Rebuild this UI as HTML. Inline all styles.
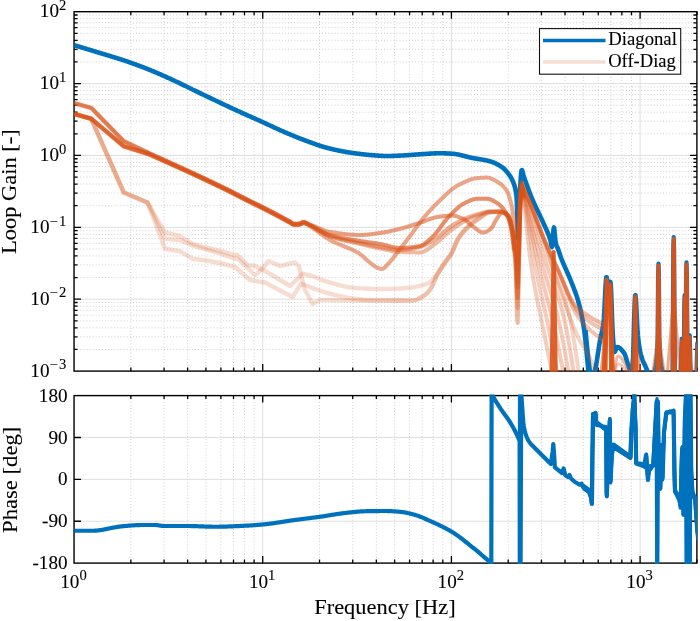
<!DOCTYPE html>
<html><head><meta charset="utf-8"><title>Loop Gain</title>
<style>html,body{margin:0;padding:0;background:#fff}svg{display:block}text{font-family:"Liberation Serif",serif;fill:#000;stroke:#000;stroke-width:0.1px}</style>
</head><body>
<svg width="700" height="621" viewBox="0 0 700 621">
<defs>
<clipPath id="ct"><rect x="74.45" y="11.7" width="622.45" height="360.1"/></clipPath>
<clipPath id="cb"><rect x="74.45" y="394.4" width="622.45" height="169.7"/></clipPath>
</defs>
<rect width="700" height="621" fill="#fff"/>
<line x1="130.85" y1="11.7" x2="130.85" y2="371.1" stroke="#cfcfcf" stroke-width="1" stroke-dasharray="1 2.1"/>
<line x1="164.07" y1="11.7" x2="164.07" y2="371.1" stroke="#cfcfcf" stroke-width="1" stroke-dasharray="1 2.1"/>
<line x1="187.65" y1="11.7" x2="187.65" y2="371.1" stroke="#cfcfcf" stroke-width="1" stroke-dasharray="1 2.1"/>
<line x1="205.93" y1="11.7" x2="205.93" y2="371.1" stroke="#cfcfcf" stroke-width="1" stroke-dasharray="1 2.1"/>
<line x1="220.87" y1="11.7" x2="220.87" y2="371.1" stroke="#cfcfcf" stroke-width="1" stroke-dasharray="1 2.1"/>
<line x1="233.51" y1="11.7" x2="233.51" y2="371.1" stroke="#cfcfcf" stroke-width="1" stroke-dasharray="1 2.1"/>
<line x1="244.45" y1="11.7" x2="244.45" y2="371.1" stroke="#cfcfcf" stroke-width="1" stroke-dasharray="1 2.1"/>
<line x1="254.1" y1="11.7" x2="254.1" y2="371.1" stroke="#cfcfcf" stroke-width="1" stroke-dasharray="1 2.1"/>
<line x1="319.53" y1="11.7" x2="319.53" y2="371.1" stroke="#cfcfcf" stroke-width="1" stroke-dasharray="1 2.1"/>
<line x1="352.76" y1="11.7" x2="352.76" y2="371.1" stroke="#cfcfcf" stroke-width="1" stroke-dasharray="1 2.1"/>
<line x1="376.33" y1="11.7" x2="376.33" y2="371.1" stroke="#cfcfcf" stroke-width="1" stroke-dasharray="1 2.1"/>
<line x1="394.62" y1="11.7" x2="394.62" y2="371.1" stroke="#cfcfcf" stroke-width="1" stroke-dasharray="1 2.1"/>
<line x1="409.56" y1="11.7" x2="409.56" y2="371.1" stroke="#cfcfcf" stroke-width="1" stroke-dasharray="1 2.1"/>
<line x1="422.19" y1="11.7" x2="422.19" y2="371.1" stroke="#cfcfcf" stroke-width="1" stroke-dasharray="1 2.1"/>
<line x1="433.13" y1="11.7" x2="433.13" y2="371.1" stroke="#cfcfcf" stroke-width="1" stroke-dasharray="1 2.1"/>
<line x1="442.78" y1="11.7" x2="442.78" y2="371.1" stroke="#cfcfcf" stroke-width="1" stroke-dasharray="1 2.1"/>
<line x1="508.22" y1="11.7" x2="508.22" y2="371.1" stroke="#cfcfcf" stroke-width="1" stroke-dasharray="1 2.1"/>
<line x1="541.44" y1="11.7" x2="541.44" y2="371.1" stroke="#cfcfcf" stroke-width="1" stroke-dasharray="1 2.1"/>
<line x1="565.02" y1="11.7" x2="565.02" y2="371.1" stroke="#cfcfcf" stroke-width="1" stroke-dasharray="1 2.1"/>
<line x1="583.3" y1="11.7" x2="583.3" y2="371.1" stroke="#cfcfcf" stroke-width="1" stroke-dasharray="1 2.1"/>
<line x1="598.24" y1="11.7" x2="598.24" y2="371.1" stroke="#cfcfcf" stroke-width="1" stroke-dasharray="1 2.1"/>
<line x1="610.87" y1="11.7" x2="610.87" y2="371.1" stroke="#cfcfcf" stroke-width="1" stroke-dasharray="1 2.1"/>
<line x1="621.82" y1="11.7" x2="621.82" y2="371.1" stroke="#cfcfcf" stroke-width="1" stroke-dasharray="1 2.1"/>
<line x1="631.47" y1="11.7" x2="631.47" y2="371.1" stroke="#cfcfcf" stroke-width="1" stroke-dasharray="1 2.1"/>
<line x1="262.73" y1="11.7" x2="262.73" y2="371.1" stroke="#dfdfdf" stroke-width="1"/>
<line x1="451.42" y1="11.7" x2="451.42" y2="371.1" stroke="#dfdfdf" stroke-width="1"/>
<line x1="640.1" y1="11.7" x2="640.1" y2="371.1" stroke="#dfdfdf" stroke-width="1"/>
<line x1="74.05" y1="349.46" x2="696.9" y2="349.46" stroke="#cfcfcf" stroke-width="1" stroke-dasharray="1 2.1"/>
<line x1="74.05" y1="336.8" x2="696.9" y2="336.8" stroke="#cfcfcf" stroke-width="1" stroke-dasharray="1 2.1"/>
<line x1="74.05" y1="327.82" x2="696.9" y2="327.82" stroke="#cfcfcf" stroke-width="1" stroke-dasharray="1 2.1"/>
<line x1="74.05" y1="320.86" x2="696.9" y2="320.86" stroke="#cfcfcf" stroke-width="1" stroke-dasharray="1 2.1"/>
<line x1="74.05" y1="315.17" x2="696.9" y2="315.17" stroke="#cfcfcf" stroke-width="1" stroke-dasharray="1 2.1"/>
<line x1="74.05" y1="310.35" x2="696.9" y2="310.35" stroke="#cfcfcf" stroke-width="1" stroke-dasharray="1 2.1"/>
<line x1="74.05" y1="306.19" x2="696.9" y2="306.19" stroke="#cfcfcf" stroke-width="1" stroke-dasharray="1 2.1"/>
<line x1="74.05" y1="302.51" x2="696.9" y2="302.51" stroke="#cfcfcf" stroke-width="1" stroke-dasharray="1 2.1"/>
<line x1="74.05" y1="277.58" x2="696.9" y2="277.58" stroke="#cfcfcf" stroke-width="1" stroke-dasharray="1 2.1"/>
<line x1="74.05" y1="264.92" x2="696.9" y2="264.92" stroke="#cfcfcf" stroke-width="1" stroke-dasharray="1 2.1"/>
<line x1="74.05" y1="255.94" x2="696.9" y2="255.94" stroke="#cfcfcf" stroke-width="1" stroke-dasharray="1 2.1"/>
<line x1="74.05" y1="248.98" x2="696.9" y2="248.98" stroke="#cfcfcf" stroke-width="1" stroke-dasharray="1 2.1"/>
<line x1="74.05" y1="243.29" x2="696.9" y2="243.29" stroke="#cfcfcf" stroke-width="1" stroke-dasharray="1 2.1"/>
<line x1="74.05" y1="238.47" x2="696.9" y2="238.47" stroke="#cfcfcf" stroke-width="1" stroke-dasharray="1 2.1"/>
<line x1="74.05" y1="234.31" x2="696.9" y2="234.31" stroke="#cfcfcf" stroke-width="1" stroke-dasharray="1 2.1"/>
<line x1="74.05" y1="230.63" x2="696.9" y2="230.63" stroke="#cfcfcf" stroke-width="1" stroke-dasharray="1 2.1"/>
<line x1="74.05" y1="205.7" x2="696.9" y2="205.7" stroke="#cfcfcf" stroke-width="1" stroke-dasharray="1 2.1"/>
<line x1="74.05" y1="193.04" x2="696.9" y2="193.04" stroke="#cfcfcf" stroke-width="1" stroke-dasharray="1 2.1"/>
<line x1="74.05" y1="184.06" x2="696.9" y2="184.06" stroke="#cfcfcf" stroke-width="1" stroke-dasharray="1 2.1"/>
<line x1="74.05" y1="177.1" x2="696.9" y2="177.1" stroke="#cfcfcf" stroke-width="1" stroke-dasharray="1 2.1"/>
<line x1="74.05" y1="171.41" x2="696.9" y2="171.41" stroke="#cfcfcf" stroke-width="1" stroke-dasharray="1 2.1"/>
<line x1="74.05" y1="166.59" x2="696.9" y2="166.59" stroke="#cfcfcf" stroke-width="1" stroke-dasharray="1 2.1"/>
<line x1="74.05" y1="162.43" x2="696.9" y2="162.43" stroke="#cfcfcf" stroke-width="1" stroke-dasharray="1 2.1"/>
<line x1="74.05" y1="158.75" x2="696.9" y2="158.75" stroke="#cfcfcf" stroke-width="1" stroke-dasharray="1 2.1"/>
<line x1="74.05" y1="133.82" x2="696.9" y2="133.82" stroke="#cfcfcf" stroke-width="1" stroke-dasharray="1 2.1"/>
<line x1="74.05" y1="121.16" x2="696.9" y2="121.16" stroke="#cfcfcf" stroke-width="1" stroke-dasharray="1 2.1"/>
<line x1="74.05" y1="112.18" x2="696.9" y2="112.18" stroke="#cfcfcf" stroke-width="1" stroke-dasharray="1 2.1"/>
<line x1="74.05" y1="105.22" x2="696.9" y2="105.22" stroke="#cfcfcf" stroke-width="1" stroke-dasharray="1 2.1"/>
<line x1="74.05" y1="99.53" x2="696.9" y2="99.53" stroke="#cfcfcf" stroke-width="1" stroke-dasharray="1 2.1"/>
<line x1="74.05" y1="94.71" x2="696.9" y2="94.71" stroke="#cfcfcf" stroke-width="1" stroke-dasharray="1 2.1"/>
<line x1="74.05" y1="90.55" x2="696.9" y2="90.55" stroke="#cfcfcf" stroke-width="1" stroke-dasharray="1 2.1"/>
<line x1="74.05" y1="86.87" x2="696.9" y2="86.87" stroke="#cfcfcf" stroke-width="1" stroke-dasharray="1 2.1"/>
<line x1="74.05" y1="61.94" x2="696.9" y2="61.94" stroke="#cfcfcf" stroke-width="1" stroke-dasharray="1 2.1"/>
<line x1="74.05" y1="49.28" x2="696.9" y2="49.28" stroke="#cfcfcf" stroke-width="1" stroke-dasharray="1 2.1"/>
<line x1="74.05" y1="40.3" x2="696.9" y2="40.3" stroke="#cfcfcf" stroke-width="1" stroke-dasharray="1 2.1"/>
<line x1="74.05" y1="33.34" x2="696.9" y2="33.34" stroke="#cfcfcf" stroke-width="1" stroke-dasharray="1 2.1"/>
<line x1="74.05" y1="27.65" x2="696.9" y2="27.65" stroke="#cfcfcf" stroke-width="1" stroke-dasharray="1 2.1"/>
<line x1="74.05" y1="22.83" x2="696.9" y2="22.83" stroke="#cfcfcf" stroke-width="1" stroke-dasharray="1 2.1"/>
<line x1="74.05" y1="18.67" x2="696.9" y2="18.67" stroke="#cfcfcf" stroke-width="1" stroke-dasharray="1 2.1"/>
<line x1="74.05" y1="14.99" x2="696.9" y2="14.99" stroke="#cfcfcf" stroke-width="1" stroke-dasharray="1 2.1"/>
<line x1="74.05" y1="299.22" x2="696.9" y2="299.22" stroke="#dfdfdf" stroke-width="1"/>
<line x1="74.05" y1="227.34" x2="696.9" y2="227.34" stroke="#dfdfdf" stroke-width="1"/>
<line x1="74.05" y1="155.46" x2="696.9" y2="155.46" stroke="#dfdfdf" stroke-width="1"/>
<line x1="74.05" y1="83.58" x2="696.9" y2="83.58" stroke="#dfdfdf" stroke-width="1"/>
<line x1="130.85" y1="395.6" x2="130.85" y2="563.1" stroke="#cfcfcf" stroke-width="1" stroke-dasharray="1 2.1"/>
<line x1="164.07" y1="395.6" x2="164.07" y2="563.1" stroke="#cfcfcf" stroke-width="1" stroke-dasharray="1 2.1"/>
<line x1="187.65" y1="395.6" x2="187.65" y2="563.1" stroke="#cfcfcf" stroke-width="1" stroke-dasharray="1 2.1"/>
<line x1="205.93" y1="395.6" x2="205.93" y2="563.1" stroke="#cfcfcf" stroke-width="1" stroke-dasharray="1 2.1"/>
<line x1="220.87" y1="395.6" x2="220.87" y2="563.1" stroke="#cfcfcf" stroke-width="1" stroke-dasharray="1 2.1"/>
<line x1="233.51" y1="395.6" x2="233.51" y2="563.1" stroke="#cfcfcf" stroke-width="1" stroke-dasharray="1 2.1"/>
<line x1="244.45" y1="395.6" x2="244.45" y2="563.1" stroke="#cfcfcf" stroke-width="1" stroke-dasharray="1 2.1"/>
<line x1="254.1" y1="395.6" x2="254.1" y2="563.1" stroke="#cfcfcf" stroke-width="1" stroke-dasharray="1 2.1"/>
<line x1="319.53" y1="395.6" x2="319.53" y2="563.1" stroke="#cfcfcf" stroke-width="1" stroke-dasharray="1 2.1"/>
<line x1="352.76" y1="395.6" x2="352.76" y2="563.1" stroke="#cfcfcf" stroke-width="1" stroke-dasharray="1 2.1"/>
<line x1="376.33" y1="395.6" x2="376.33" y2="563.1" stroke="#cfcfcf" stroke-width="1" stroke-dasharray="1 2.1"/>
<line x1="394.62" y1="395.6" x2="394.62" y2="563.1" stroke="#cfcfcf" stroke-width="1" stroke-dasharray="1 2.1"/>
<line x1="409.56" y1="395.6" x2="409.56" y2="563.1" stroke="#cfcfcf" stroke-width="1" stroke-dasharray="1 2.1"/>
<line x1="422.19" y1="395.6" x2="422.19" y2="563.1" stroke="#cfcfcf" stroke-width="1" stroke-dasharray="1 2.1"/>
<line x1="433.13" y1="395.6" x2="433.13" y2="563.1" stroke="#cfcfcf" stroke-width="1" stroke-dasharray="1 2.1"/>
<line x1="442.78" y1="395.6" x2="442.78" y2="563.1" stroke="#cfcfcf" stroke-width="1" stroke-dasharray="1 2.1"/>
<line x1="508.22" y1="395.6" x2="508.22" y2="563.1" stroke="#cfcfcf" stroke-width="1" stroke-dasharray="1 2.1"/>
<line x1="541.44" y1="395.6" x2="541.44" y2="563.1" stroke="#cfcfcf" stroke-width="1" stroke-dasharray="1 2.1"/>
<line x1="565.02" y1="395.6" x2="565.02" y2="563.1" stroke="#cfcfcf" stroke-width="1" stroke-dasharray="1 2.1"/>
<line x1="583.3" y1="395.6" x2="583.3" y2="563.1" stroke="#cfcfcf" stroke-width="1" stroke-dasharray="1 2.1"/>
<line x1="598.24" y1="395.6" x2="598.24" y2="563.1" stroke="#cfcfcf" stroke-width="1" stroke-dasharray="1 2.1"/>
<line x1="610.87" y1="395.6" x2="610.87" y2="563.1" stroke="#cfcfcf" stroke-width="1" stroke-dasharray="1 2.1"/>
<line x1="621.82" y1="395.6" x2="621.82" y2="563.1" stroke="#cfcfcf" stroke-width="1" stroke-dasharray="1 2.1"/>
<line x1="631.47" y1="395.6" x2="631.47" y2="563.1" stroke="#cfcfcf" stroke-width="1" stroke-dasharray="1 2.1"/>
<line x1="262.73" y1="395.6" x2="262.73" y2="563.1" stroke="#dfdfdf" stroke-width="1"/>
<line x1="451.42" y1="395.6" x2="451.42" y2="563.1" stroke="#dfdfdf" stroke-width="1"/>
<line x1="640.1" y1="395.6" x2="640.1" y2="563.1" stroke="#dfdfdf" stroke-width="1"/>
<line x1="74.05" y1="437.48" x2="696.9" y2="437.48" stroke="#dfdfdf" stroke-width="1"/>
<line x1="74.05" y1="479.35" x2="696.9" y2="479.35" stroke="#dfdfdf" stroke-width="1"/>
<line x1="74.05" y1="521.23" x2="696.9" y2="521.23" stroke="#dfdfdf" stroke-width="1"/>
<path d="M130.85 371.1v-3.5M130.85 11.7v3.5M164.07 371.1v-3.5M164.07 11.7v3.5M187.65 371.1v-3.5M187.65 11.7v3.5M205.93 371.1v-3.5M205.93 11.7v3.5M220.87 371.1v-3.5M220.87 11.7v3.5M233.51 371.1v-3.5M233.51 11.7v3.5M244.45 371.1v-3.5M244.45 11.7v3.5M254.1 371.1v-3.5M254.1 11.7v3.5M262.73 371.1v-7M262.73 11.7v7M319.53 371.1v-3.5M319.53 11.7v3.5M352.76 371.1v-3.5M352.76 11.7v3.5M376.33 371.1v-3.5M376.33 11.7v3.5M394.62 371.1v-3.5M394.62 11.7v3.5M409.56 371.1v-3.5M409.56 11.7v3.5M422.19 371.1v-3.5M422.19 11.7v3.5M433.13 371.1v-3.5M433.13 11.7v3.5M442.78 371.1v-3.5M442.78 11.7v3.5M451.42 371.1v-7M451.42 11.7v7M508.22 371.1v-3.5M508.22 11.7v3.5M541.44 371.1v-3.5M541.44 11.7v3.5M565.02 371.1v-3.5M565.02 11.7v3.5M583.3 371.1v-3.5M583.3 11.7v3.5M598.24 371.1v-3.5M598.24 11.7v3.5M610.87 371.1v-3.5M610.87 11.7v3.5M621.82 371.1v-3.5M621.82 11.7v3.5M631.47 371.1v-3.5M631.47 11.7v3.5M640.1 371.1v-7M640.1 11.7v7M696.9 371.1v-3.5M696.9 11.7v3.5M74.05 349.46h3.5M696.9 349.46h-3.5M74.05 336.8h3.5M696.9 336.8h-3.5M74.05 327.82h3.5M696.9 327.82h-3.5M74.05 320.86h3.5M696.9 320.86h-3.5M74.05 315.17h3.5M696.9 315.17h-3.5M74.05 310.35h3.5M696.9 310.35h-3.5M74.05 306.19h3.5M696.9 306.19h-3.5M74.05 302.51h3.5M696.9 302.51h-3.5M74.05 299.22h7M696.9 299.22h-7M74.05 277.58h3.5M696.9 277.58h-3.5M74.05 264.92h3.5M696.9 264.92h-3.5M74.05 255.94h3.5M696.9 255.94h-3.5M74.05 248.98h3.5M696.9 248.98h-3.5M74.05 243.29h3.5M696.9 243.29h-3.5M74.05 238.47h3.5M696.9 238.47h-3.5M74.05 234.31h3.5M696.9 234.31h-3.5M74.05 230.63h3.5M696.9 230.63h-3.5M74.05 227.34h7M696.9 227.34h-7M74.05 205.7h3.5M696.9 205.7h-3.5M74.05 193.04h3.5M696.9 193.04h-3.5M74.05 184.06h3.5M696.9 184.06h-3.5M74.05 177.1h3.5M696.9 177.1h-3.5M74.05 171.41h3.5M696.9 171.41h-3.5M74.05 166.59h3.5M696.9 166.59h-3.5M74.05 162.43h3.5M696.9 162.43h-3.5M74.05 158.75h3.5M696.9 158.75h-3.5M74.05 155.46h7M696.9 155.46h-7M74.05 133.82h3.5M696.9 133.82h-3.5M74.05 121.16h3.5M696.9 121.16h-3.5M74.05 112.18h3.5M696.9 112.18h-3.5M74.05 105.22h3.5M696.9 105.22h-3.5M74.05 99.53h3.5M696.9 99.53h-3.5M74.05 94.71h3.5M696.9 94.71h-3.5M74.05 90.55h3.5M696.9 90.55h-3.5M74.05 86.87h3.5M696.9 86.87h-3.5M74.05 83.58h7M696.9 83.58h-7M74.05 61.94h3.5M696.9 61.94h-3.5M74.05 49.28h3.5M696.9 49.28h-3.5M74.05 40.3h3.5M696.9 40.3h-3.5M74.05 33.34h3.5M696.9 33.34h-3.5M74.05 27.65h3.5M696.9 27.65h-3.5M74.05 22.83h3.5M696.9 22.83h-3.5M74.05 18.67h3.5M696.9 18.67h-3.5M74.05 14.99h3.5M696.9 14.99h-3.5" stroke="#000" stroke-width="1.3" fill="none"/>
<rect x="74.05" y="11.7" width="622.85" height="359.4" fill="none" stroke="#000" stroke-width="1.4"/>
<g clip-path="url(#ct)"><polyline points="73.5,45 74,45.15 74.5,45.3 75,45.45 75.5,45.6 76,45.75 76.5,45.89 77,46.04 77.5,46.19 78,46.34 78.5,46.49 79,46.64 79.5,46.79 80,46.94 80.5,47.09 81,47.24 81.5,47.39 82,47.54 82.5,47.69 83,47.84 83.5,47.99 84,48.14 84.5,48.29 85,48.44 85.5,48.6 86,48.75 86.5,48.9 87,49.05 87.5,49.2 88,49.35 88.5,49.5 89,49.65 89.5,49.8 90,49.96 90.5,50.11 91,50.26 91.5,50.41 92,50.56 92.5,50.71 93,50.87 93.5,51.02 94,51.17 94.5,51.32 95,51.47 95.5,51.63 96,51.78 96.5,51.93 97,52.08 97.5,52.24 98,52.39 98.5,52.54 99,52.69 99.5,52.85 100,53 100.5,53.15 101,53.31 101.5,53.46 102,53.61 102.5,53.76 103,53.91 103.5,54.06 104,54.21 104.5,54.36 105,54.52 105.5,54.67 106,54.82 106.5,54.97 107,55.12 107.5,55.27 108,55.42 108.5,55.57 109,55.72 109.5,55.87 110,56.02 110.5,56.17 111,56.32 111.5,56.47 112,56.62 112.5,56.78 113,56.93 113.5,57.08 114,57.23 114.5,57.39 115,57.54 115.5,57.7 116,57.85 116.5,58.01 117,58.16 117.5,58.32 118,58.47 118.5,58.63 119,58.79 119.5,58.95 120,59.11 120.5,59.27 121,59.43 121.5,59.59 122,59.76 122.5,59.92 123,60.08 123.5,60.25 124,60.41 124.5,60.58 125,60.75 125.5,60.92 126,61.09 126.5,61.26 127,61.43 127.5,61.6 128,61.77 128.5,61.95 129,62.12 129.5,62.3 130,62.47 130.5,62.65 131,62.82 131.5,63 132,63.18 132.5,63.36 133,63.54 133.5,63.71 134,63.9 134.5,64.08 135,64.26 135.5,64.44 136,64.62 136.5,64.81 137,64.99 137.5,65.18 138,65.36 138.5,65.55 139,65.73 139.5,65.92 140,66.11 140.5,66.3 141,66.49 141.5,66.68 142,66.87 142.5,67.06 143,67.25 143.5,67.44 144,67.64 144.5,67.83 145,68.02 145.5,68.22 146,68.41 146.5,68.61 147,68.81 147.5,69 148,69.2 148.5,69.4 149,69.6 149.5,69.8 150,70 150.5,70.2 151,70.4 151.5,70.61 152,70.81 152.5,71.02 153,71.22 153.5,71.43 154,71.64 154.5,71.85 155,72.06 155.5,72.27 156,72.49 156.5,72.7 157,72.91 157.5,73.13 158,73.34 158.5,73.56 159,73.78 159.5,74 160,74.22 160.5,74.44 161,74.66 161.5,74.88 162,75.1 162.5,75.32 163,75.54 163.5,75.77 164,75.99 164.5,76.21 165,76.44 165.5,76.66 166,76.89 166.5,77.11 167,77.34 167.5,77.57 168,77.79 168.5,78.02 169,78.25 169.5,78.47 170,78.7 170.5,78.93 171,79.16 171.5,79.39 172,79.62 172.5,79.85 173,80.08 173.5,80.31 174,80.54 174.5,80.78 175,81.01 175.5,81.25 176,81.48 176.5,81.72 177,81.96 177.5,82.19 178,82.43 178.5,82.67 179,82.91 179.5,83.15 180,83.39 180.5,83.63 181,83.87 181.5,84.11 182,84.35 182.5,84.59 183,84.83 183.5,85.08 184,85.32 184.5,85.56 185,85.8 185.5,86.05 186,86.29 186.5,86.54 187,86.78 187.5,87.02 188,87.27 188.5,87.51 189,87.76 189.5,88 190,88.24 190.5,88.49 191,88.73 191.5,88.98 192,89.22 192.5,89.47 193,89.71 193.5,89.96 194,90.2 194.5,90.44 195,90.69 195.5,90.93 196,91.17 196.5,91.42 197,91.66 197.5,91.9 198,92.14 198.5,92.39 199,92.63 199.5,92.87 200,93.11 200.5,93.35 201,93.59 201.5,93.83 202,94.07 202.5,94.31 203,94.55 203.5,94.79 204,95.02 204.5,95.26 205,95.5 205.5,95.74 206,95.98 206.5,96.22 207,96.46 207.5,96.69 208,96.93 208.5,97.17 209,97.41 209.5,97.65 210,97.89 210.5,98.13 211,98.36 211.5,98.6 212,98.84 212.5,99.08 213,99.32 213.5,99.56 214,99.8 214.5,100.03 215,100.27 215.5,100.51 216,100.75 216.5,100.99 217,101.22 217.5,101.46 218,101.7 218.5,101.94 219,102.18 219.5,102.41 220,102.65 220.5,102.89 221,103.12 221.5,103.36 222,103.6 222.5,103.83 223,104.07 223.5,104.31 224,104.54 224.5,104.78 225,105.01 225.5,105.25 226,105.48 226.5,105.72 227,105.95 227.5,106.19 228,106.42 228.5,106.66 229,106.89 229.5,107.13 230,107.36 230.5,107.59 231,107.82 231.5,108.06 232,108.29 232.5,108.52 233,108.75 233.5,108.99 234,109.22 234.5,109.45 235,109.68 235.5,109.91 236,110.14 236.5,110.37 237,110.6 237.5,110.82 238,111.05 238.5,111.28 239,111.51 239.5,111.73 240,111.96 240.5,112.19 241,112.41 241.5,112.64 242,112.86 242.5,113.09 243,113.31 243.5,113.54 244,113.76 244.5,113.98 245,114.21 245.5,114.43 246,114.65 246.5,114.88 247,115.1 247.5,115.32 248,115.55 248.5,115.77 249,115.99 249.5,116.21 250,116.44 250.5,116.66 251,116.88 251.5,117.1 252,117.32 252.5,117.55 253,117.77 253.5,117.99 254,118.21 254.5,118.44 255,118.66 255.5,118.88 256,119.11 256.5,119.33 257,119.55 257.5,119.78 258,120 258.5,120.22 259,120.45 259.5,120.67 260,120.9 260.5,121.12 261,121.35 261.5,121.57 262,121.8 262.5,122.03 263,122.25 263.5,122.48 264,122.71 264.5,122.94 265,123.17 265.5,123.4 266,123.63 266.5,123.86 267,124.1 267.5,124.33 268,124.56 268.5,124.79 269,125.03 269.5,125.26 270,125.49 270.5,125.73 271,125.96 271.5,126.19 272,126.43 272.5,126.66 273,126.89 273.5,127.13 274,127.36 274.5,127.59 275,127.82 275.5,128.05 276,128.28 276.5,128.51 277,128.74 277.5,128.97 278,129.2 278.5,129.43 279,129.66 279.5,129.88 280,130.11 280.5,130.33 281,130.55 281.5,130.78 282,131 282.5,131.22 283,131.44 283.5,131.65 284,131.87 284.5,132.09 285,132.3 285.5,132.51 286,132.73 286.5,132.94 287,133.15 287.5,133.36 288,133.57 288.5,133.78 289,133.99 289.5,134.2 290,134.41 290.5,134.62 291,134.83 291.5,135.04 292,135.25 292.5,135.45 293,135.66 293.5,135.87 294,136.07 294.5,136.28 295,136.48 295.5,136.68 296,136.89 296.5,137.09 297,137.29 297.5,137.49 298,137.69 298.5,137.89 299,138.09 299.5,138.28 300,138.48 300.5,138.68 301,138.87 301.5,139.07 302,139.26 302.5,139.45 303,139.64 303.5,139.83 304,140.02 304.5,140.21 305,140.4 305.5,140.58 306,140.77 306.5,140.95 307,141.14 307.5,141.32 308,141.5 308.5,141.68 309,141.86 309.5,142.04 310,142.22 310.5,142.4 311,142.59 311.5,142.77 312,142.95 312.5,143.13 313,143.31 313.5,143.49 314,143.67 314.5,143.84 315,144.02 315.5,144.2 316,144.37 316.5,144.55 317,144.72 317.5,144.89 318,145.06 318.5,145.23 319,145.4 319.5,145.57 320,145.73 320.5,145.9 321,146.06 321.5,146.22 322,146.37 322.5,146.53 323,146.68 323.5,146.83 324,146.98 324.5,147.13 325,147.27 325.5,147.41 326,147.55 326.5,147.69 327,147.82 327.5,147.95 328,148.08 328.5,148.2 329,148.33 329.5,148.45 330,148.57 330.5,148.7 331,148.82 331.5,148.94 332,149.06 332.5,149.18 333,149.29 333.5,149.41 334,149.53 334.5,149.64 335,149.75 335.5,149.87 336,149.98 336.5,150.09 337,150.2 337.5,150.3 338,150.41 338.5,150.52 339,150.62 339.5,150.72 340,150.83 340.5,150.93 341,151.03 341.5,151.12 342,151.22 342.5,151.32 343,151.41 343.5,151.51 344,151.6 344.5,151.69 345,151.78 345.5,151.87 346,151.95 346.5,152.04 347,152.12 347.5,152.2 348,152.29 348.5,152.37 349,152.44 349.5,152.52 350,152.6 350.5,152.67 351,152.74 351.5,152.82 352,152.89 352.5,152.96 353,153.03 353.5,153.1 354,153.17 354.5,153.24 355,153.31 355.5,153.37 356,153.44 356.5,153.51 357,153.57 357.5,153.64 358,153.7 358.5,153.77 359,153.83 359.5,153.89 360,153.96 360.5,154.02 361,154.08 361.5,154.14 362,154.19 362.5,154.25 363,154.31 363.5,154.37 364,154.42 364.5,154.47 365,154.53 365.5,154.58 366,154.63 366.5,154.68 367,154.73 367.5,154.78 368,154.83 368.5,154.88 369,154.92 369.5,154.97 370,155.01 370.5,155.05 371,155.09 371.5,155.14 372,155.17 372.5,155.21 373,155.25 373.5,155.29 374,155.32 374.5,155.36 375,155.39 375.5,155.43 376,155.47 376.5,155.5 377,155.54 377.5,155.58 378,155.61 378.5,155.65 379,155.68 379.5,155.71 380,155.75 380.5,155.78 381,155.81 381.5,155.84 382,155.86 382.5,155.89 383,155.91 383.5,155.93 384,155.95 384.5,155.96 385,155.98 385.5,155.99 386,155.99 386.5,156 387,156 387.5,156 388,156 388.5,155.99 389,155.98 389.5,155.98 390,155.97 390.5,155.96 391,155.94 391.5,155.93 392,155.91 392.5,155.9 393,155.88 393.5,155.86 394,155.85 394.5,155.83 395,155.81 395.5,155.79 396,155.77 396.5,155.75 397,155.73 397.5,155.7 398,155.68 398.5,155.66 399,155.64 399.5,155.62 400,155.6 400.5,155.58 401,155.56 401.5,155.53 402,155.51 402.5,155.48 403,155.46 403.5,155.43 404,155.4 404.5,155.37 405,155.34 405.5,155.31 406,155.27 406.5,155.24 407,155.21 407.5,155.17 408,155.14 408.5,155.1 409,155.07 409.5,155.03 410,154.99 410.5,154.96 411,154.92 411.5,154.88 412,154.85 412.5,154.81 413,154.77 413.5,154.74 414,154.7 414.5,154.66 415,154.63 415.5,154.59 416,154.56 416.5,154.52 417,154.49 417.5,154.46 418,154.42 418.5,154.39 419,154.36 419.5,154.33 420,154.3 420.5,154.27 421,154.24 421.5,154.21 422,154.18 422.5,154.14 423,154.11 423.5,154.08 424,154.04 424.5,154.01 425,153.97 425.5,153.94 426,153.9 426.5,153.87 427,153.83 427.5,153.8 428,153.76 428.5,153.73 429,153.7 429.5,153.66 430,153.63 430.5,153.6 431,153.57 431.5,153.54 432,153.51 432.5,153.48 433,153.45 433.5,153.43 434,153.4 434.5,153.38 435,153.36 435.5,153.34 436,153.32 436.5,153.31 437,153.29 437.5,153.28 438,153.27 438.5,153.26 439,153.25 439.5,153.25 440,153.25 440.5,153.25 441,153.25 441.5,153.26 442,153.27 442.5,153.28 443,153.29 443.5,153.3 444,153.32 444.5,153.33 445,153.35 445.5,153.37 446,153.39 446.5,153.41 447,153.43 447.5,153.46 448,153.48 448.5,153.51 449,153.54 449.5,153.57 450,153.6 450.5,153.63 451,153.66 451.5,153.69 452,153.72 452.5,153.75 453,153.79 453.5,153.83 454,153.88 454.5,153.94 455,154 455.5,154.07 456,154.15 456.5,154.23 457,154.31 457.5,154.41 458,154.5 458.5,154.6 459,154.71 459.5,154.82 460,154.93 460.5,155.05 461,155.17 461.5,155.29 462,155.41 462.5,155.54 463,155.66 463.5,155.79 464,155.92 464.5,156.05 465,156.18 465.5,156.31 466,156.45 466.5,156.58 467,156.71 467.5,156.83 468,156.96 468.5,157.09 469,157.21 469.5,157.33 470,157.45 470.5,157.57 471,157.68 471.5,157.79 472,157.9 472.5,158 473,158.1 473.5,158.19 474,158.29 474.5,158.38 475,158.46 475.5,158.55 476,158.63 476.5,158.72 477,158.8 477.5,158.88 478,158.96 478.5,159.04 479,159.11 479.5,159.19 480,159.27 480.5,159.35 481,159.43 481.5,159.51 482,159.6 482.5,159.68 483,159.77 483.5,159.86 484,159.95 484.5,160.04 485,160.13 485.5,160.23 486,160.34 486.5,160.44 487,160.55 487.5,160.66 488,160.78 488.5,160.9 489,161.03 489.5,161.16 490,161.3 490.5,161.44 491,161.6 491.5,161.76 492,161.93 492.5,162.11 493,162.3 493.5,162.5 494,162.71 494.5,162.92 495,163.15 495.5,163.38 496,163.62 496.5,163.87 497,164.13 497.5,164.4 498,164.67 498.5,164.95 499,165.24 499.5,165.54 500,165.85 500.5,166.16 501,166.49 501.5,166.82 502,167.15 502.5,167.5 503,167.87 503.5,168.29 504,168.75 504.5,169.25 505,169.77 505.5,170.32 506,170.88 506.5,171.46 507,172.04 507.5,172.63 508,173.23 508.5,173.86 509,174.52 509.5,175.21 510,175.95 510.5,176.75 511,177.6 511.5,178.53 512,179.52 512.5,180.6 513,181.71 513.5,182.87 514,184.16 514.5,185.69 515,187.53 515.5,189.8 516,192.57 516.5,195.94 517,205.2 517.5,223.71 518,238.31 518.5,236.26 519,219.56 519.5,202.26 520,192.04 520.5,182.47 521,174.75 521.5,170.43 522,170.23 522.5,171.43 523,173.26 523.5,175.27 524,177 524.5,178.44 525,179.88 525.5,181.3 526,182.72 526.5,184.12 527,185.51 527.5,186.89 528,188.26 528.5,189.61 529,190.94 529.5,192.26 530,193.55 530.5,194.83 531,196.09 531.5,197.33 532,198.54 532.5,199.73 533,200.89 533.5,202.03 534,203.15 534.5,204.24 535,205.33 535.5,206.39 536,207.45 536.5,208.5 537,209.53 537.5,210.57 538,211.6 538.5,212.63 539,213.66 539.5,214.7 540,215.74 540.5,216.79 541,217.86 541.5,218.94 542,220.03 542.5,221.14 543,222.27 543.5,223.41 544,224.51 544.5,225.59 545,226.66 545.5,227.73 546,228.8 546.5,229.89 547,231.02 547.5,232.18 548,233.39 548.5,234.66 549,236 549.5,237.41 550,238.92 550.5,240.56 551,243.12 551.5,245.78 552,247 552.5,243.63 553,236.37 553.5,229.55 554,227.42 554.5,230.89 555,236.67 555.5,241.46 556,243.62 556.5,245.23 557,246.55 557.5,247.73 558,248.92 558.5,250.29 559,251.79 559.5,253.31 560,254.83 560.5,256.29 561,257.67 561.5,258.98 562,260.25 562.5,261.49 563,262.69 563.5,263.87 564,265.03 564.5,266.17 565,267.29 565.5,268.41 566,269.52 566.5,270.63 567,271.74 567.5,272.87 568,274 568.5,275.15 569,276.32 569.5,277.52 570,278.74 570.5,280 571,281.27 571.5,282.52 572,283.76 572.5,284.99 573,286.23 573.5,287.49 574,288.76 574.5,290.05 575,291.38 575.5,292.74 576,294.15 576.5,295.62 577,297.14 577.5,298.73 578,300.4 578.5,302.14 579,303.97 579.5,305.89 580,307.9 580.5,310.02 581,312.25 581.5,314.62 582,317.12 582.5,319.77 583,322.57 583.5,325.54 584,328.69 584.5,332.11 585,336.14 585.5,340.68 586,345.61 586.5,350.83 587,356.19 587.5,361.59 588,366.9 588.5,372 589,376.98 589.5,382" fill="none" stroke="#0072bd" stroke-width="4.6" stroke-opacity="1" stroke-linejoin="round" stroke-linecap="butt" />
<polyline points="589.5,382 589.9,381.82 590.3,381.49 590.7,381.02 591.1,380.43 591.5,379.72 591.9,378.9 592.3,378 592.7,377.02 593.1,375.98 593.5,374.88 593.9,373.75 594.3,372.59 594.7,371.37 595.1,369.88 595.5,368.11 595.9,366.1 596.3,363.89 596.7,361.51 597.1,359.01 597.5,356.43 597.9,353.79 598.3,351.15 598.7,348.53 599.1,345.99 599.5,343.54 599.9,341.25 600.3,339.15 600.7,337.26 601.1,335.51 601.5,333.8 601.9,332.03 602.3,330.14 602.7,328.03 603.1,325.6 603.5,322.78 603.9,318.74 604.3,312.17 604.7,304.06 605.1,295.46 605.5,287.42 605.9,281.02 606.3,277.31 606.7,277.27 607.1,280.39 607.5,285 607.9,289.4 608.3,291.88 608.7,291.38 609.1,289.13 609.5,286.14 609.9,283.39 610.3,281.87 610.7,283.64 611.1,290.79 611.5,301.4 611.9,313.42 612.3,324.81 612.7,333.49 613.1,339.15 613.5,344.54 613.9,348.99 614.3,351.63 614.7,351.92 615.1,351.37 615.5,350.45 615.9,349.36 616.3,348.3 616.7,347.45 617.1,347.02 617.5,347.02 617.9,347.09 618.3,347.22 618.7,347.4 619.1,347.63 619.5,347.9 619.9,348.22 620.3,348.57 620.7,348.95 621.1,349.36 621.5,349.8 621.9,350.26 622.3,350.74 622.7,351.24 623.1,351.74 623.5,352.25 623.9,352.77 624.3,353.35 624.7,354.14 625.1,355.11 625.5,356.23 625.9,357.47 626.3,358.79 626.7,360.17 627.1,361.56 627.5,362.95 627.9,364.29 628.3,365.56 628.7,366.72 629.1,367.74 629.5,368.6 629.9,369.24 630.3,369.66 630.7,369.8 631.1,369.54 631.5,368.82 631.9,367.7 632.3,366.26 632.7,364.31 633.1,357.18 633.5,344.96 633.9,330.17 634.3,315.32 634.7,302.94 635.1,295.54 635.5,295.1 635.9,299.37 636.3,306.55 636.7,315.21 637.1,323.92 637.5,331.26 637.9,335.91 638.3,339.33 638.7,342.43 639.1,345.23 639.5,347.75 639.9,350 640.3,352.01 640.7,353.8 641.1,355.38 641.5,356.8 641.9,358.08 642.3,359.25 642.7,360.32 643.1,361.3 643.5,362.22 643.9,363.09 644.3,363.94 644.7,364.76 645.1,365.6 645.5,366.45 645.9,367.35 646.3,368.3 646.7,369.33 647.1,370.44 647.5,371.67 647.9,373.04 648.3,374.55 648.7,376.19 649.1,377.92 649.5,379.71 649.9,381.54 650,382" fill="none" stroke="#0072bd" stroke-width="4.6" stroke-opacity="1" stroke-linejoin="round" stroke-linecap="butt" />
<polyline points="586,330 586.4,334.45 586.8,338.75 587.2,342.91 587.6,346.91 588,350.77 588.4,354.5 588.8,358.09 589.2,361.56 589.6,364.91 590,368.13 590.4,371.24 590.8,374.2 591.2,376.96 591.6,379.55 592,382" fill="none" stroke="#0072bd" stroke-width="3.5" stroke-opacity="1" stroke-linejoin="round" stroke-linecap="butt" />
<polyline points="657.3,382 658.08,275.6 658.5,263.6 658.92,275.6 659.7,382" fill="none" stroke="#0072bd" stroke-width="4.2" stroke-opacity="1" stroke-linejoin="round" stroke-linecap="butt" />
<polyline points="672.5,382 673.28,249 673.7,237 674.12,249 674.9,382" fill="none" stroke="#0072bd" stroke-width="4.2" stroke-opacity="1" stroke-linejoin="round" stroke-linecap="butt" />
<polyline points="685.3,382 686.08,274.4 686.5,262.4 686.92,274.4 687.7,382" fill="none" stroke="#0072bd" stroke-width="4.2" stroke-opacity="1" stroke-linejoin="round" stroke-linecap="butt" />
<polyline points="683.3,382 683.95,307 684.3,295 684.65,307 685.3,382" fill="none" stroke="#0072bd" stroke-width="3.6" stroke-opacity="1" stroke-linejoin="round" stroke-linecap="butt" />
<polyline points="680.4,382 681.05,350.5 681.4,338.5 681.75,350.5 682.4,382" fill="none" stroke="#0072bd" stroke-width="3.6" stroke-opacity="1" stroke-linejoin="round" stroke-linecap="butt" />
<polyline points="689,382 689.65,347 690,335 690.35,347 691,382" fill="none" stroke="#0072bd" stroke-width="3.6" stroke-opacity="1" stroke-linejoin="round" stroke-linecap="butt" />
<polyline points="696,382 696.65,355 697,343 697.35,355 698,382" fill="none" stroke="#0072bd" stroke-width="3.6" stroke-opacity="1" stroke-linejoin="round" stroke-linecap="butt" />
<polyline points="650,382 650.5,381.79 651,381.17 651.5,380.18 652,378.86 652.5,377.25 653,375.38 653.5,373.28 654,370.99 654.5,368.55 655,366 655.5,362.66 656,358.05 656.5,352.51 657,346.38 657.5,340" fill="none" stroke="#0072bd" stroke-width="3" stroke-opacity="0.9" stroke-linejoin="round" stroke-linecap="butt" />
<polyline points="659.5,340 660,346.38 660.5,352.51 661,358.05 661.5,362.66 662,366 662.5,368.55 663,370.99 663.5,373.28 664,375.38 664.5,377.25 665,378.86 665.5,380.18 666,381.17 666.5,381.79 667,382" fill="none" stroke="#0072bd" stroke-width="3" stroke-opacity="0.9" stroke-linejoin="round" stroke-linecap="butt" />
<polyline points="73.5,102.65 91.25,107.65 123.75,140.9 147.5,152.15 147.5,152.5 148.1,152.77 148.7,153.03 149.3,153.3 149.9,153.56 150.5,153.83 151.1,154.09 151.7,154.36 152.3,154.63 152.9,154.89 153.5,155.16 154.1,155.42 154.7,155.69 155.3,155.96 155.9,156.22 156.5,156.49 157.1,156.76 157.7,157.03 158.3,157.29 158.9,157.56 159.5,157.83 160.1,158.1 160.7,158.37 161.3,158.64 161.9,158.91 162.5,159.18 163.1,159.44 163.7,159.71 164.3,159.98 164.9,160.25 165.5,160.53 166.1,160.8 166.7,161.07 167.3,161.34 167.9,161.61 168.5,161.88 169.1,162.15 169.7,162.42 170.3,162.69 170.9,162.96 171.5,163.23 172.1,163.5 172.7,163.77 173.3,164.05 173.9,164.32 174.5,164.59 175.1,164.86 175.7,165.13 176.3,165.4 176.9,165.68 177.5,165.95 178.1,166.22 178.7,166.49 179.3,166.77 179.9,167.04 180.5,167.31 181.1,167.58 181.7,167.86 182.3,168.13 182.9,168.4 183.5,168.68 184.1,168.95 184.7,169.23 185.3,169.5 185.9,169.77 186.5,170.05 187.1,170.32 187.7,170.6 188.3,170.88 188.9,171.15 189.5,171.43 190.1,171.7 190.7,171.98 191.3,172.26 191.9,172.53 192.5,172.81 193.1,173.09 193.7,173.37 194.3,173.64 194.9,173.92 195.5,174.2 196.1,174.48 196.7,174.76 197.3,175.04 197.9,175.32 198.5,175.6 199.1,175.88 199.7,176.16 200.3,176.44 200.9,176.72 201.5,177 202.1,177.28 202.7,177.57 203.3,177.85 203.9,178.13 204.5,178.41 205.1,178.69 205.7,178.98 206.3,179.26 206.9,179.54 207.5,179.83 208.1,180.11 208.7,180.39 209.3,180.68 209.9,180.96 210.5,181.25 211.1,181.53 211.7,181.82 212.3,182.1 212.9,182.39 213.5,182.67 214.1,182.96 214.7,183.25 215.3,183.53 215.9,183.82 216.5,184.11 217.1,184.4 217.7,184.69 218.3,184.97 218.9,185.26 219.5,185.55 220.1,185.84 220.7,186.13 221.3,186.42 221.9,186.72 222.5,187.01 223.1,187.3 223.7,187.59 224.3,187.89 224.9,188.18 225.5,188.48 226.1,188.77 226.7,189.07 227.3,189.36 227.9,189.66 228.5,189.95 229.1,190.25 229.7,190.55 230.3,190.85 230.9,191.15 231.5,191.45 232.1,191.76 232.7,192.06 233.3,192.37 233.9,192.68 234.5,192.99 235.1,193.3 235.7,193.61 236.3,193.92 236.9,194.23 237.5,194.54 238.1,194.85 238.7,195.17 239.3,195.48 239.9,195.79 240.5,196.1 241.1,196.41 241.7,196.72 242.3,197.03 242.9,197.33 243.5,197.64 244.1,197.95 244.7,198.25 245.3,198.55 245.9,198.85 246.5,199.15 247.1,199.45 247.7,199.74 248.3,200.04 248.9,200.33 249.5,200.63 250.1,200.92 250.7,201.21 251.3,201.51 251.9,201.8 252.5,202.09 253.1,202.38 253.7,202.67 254.3,202.96 254.9,203.25 255.5,203.55 256.1,203.84 256.7,204.13 257.3,204.42 257.9,204.72 258.5,205.01 259.1,205.31 259.7,205.6 260.3,205.9 260.9,206.2 261.5,206.5 262.1,206.8 262.7,207.1 263.3,207.4 263.9,207.71 264.5,208.01 265.1,208.32 265.7,208.62 266.3,208.93 266.9,209.24 267.5,209.55 268.1,209.86 268.7,210.17 269.3,210.48 269.9,210.79 270.5,211.1 271.1,211.41 271.7,211.73 272.3,212.04 272.9,212.35 273.5,212.67 274.1,212.98 274.7,213.3 275.3,213.61 275.9,213.93 276.5,214.25 277.1,214.56 277.7,214.88 278.3,215.2 278.9,215.52 279.5,215.83 280.1,216.15 280.7,216.47 281.3,216.8 281.9,217.12 282.5,217.44 283.1,217.77 283.7,218.1 284.3,218.43 284.9,218.75 285.5,219.08 286.1,219.41 286.7,219.74 287.3,220.06 287.9,220.38 288.5,220.71 289.1,221.03 289.7,221.34 290.3,221.67 290.9,222.04 291.5,222.45 292.1,222.85 292.7,223.21 293.3,223.49 293.9,223.66 294.5,223.7 295.1,223.7 295.7,223.69 296.3,223.68 296.9,223.66 297.5,223.64 298.1,223.62 298.7,223.59 299.3,223.49 299.9,223.28 300.5,223.02 301.1,222.72 301.7,222.43 302.3,222.17 302.9,221.99 303.5,221.9 304.1,221.93 304.7,222.05 305.3,222.24 305.9,222.48 306.5,222.77 307.1,223.09 307.7,223.43 308.3,223.76 308.9,224.09 309.5,224.38 310.1,224.64 310.7,224.88 311.3,225.13 311.9,225.38 312.5,225.64 313.1,225.89 313.7,226.15 314.3,226.42 314.9,226.68 315.5,226.94 316.1,227.21 316.7,227.47 317.3,227.73 317.9,228 318.5,228.25 319.1,228.51 319.7,228.76 320.3,229.01 320.9,229.26 321.5,229.49 322.1,229.73 322.7,229.95 323.3,230.18 323.9,230.39 324.5,230.59 325.1,230.79 325.7,230.98 326.3,231.15 326.9,231.32 327.5,231.48 328.1,231.62 328.7,231.76 329.3,231.88 329.9,231.98 330.5,232.08 331.1,232.18 331.7,232.28 332.3,232.37 332.9,232.47 333.5,232.56 334.1,232.65 334.7,232.75 335.3,232.84 335.9,232.93 336.5,233.01 337.1,233.1 337.7,233.19 338.3,233.27 338.9,233.36 339.5,233.44 340.1,233.52 340.7,233.6 341.3,233.68 341.9,233.75 342.5,233.82 343.1,233.9 343.7,233.97 344.3,234.04 344.9,234.1 345.5,234.17 346.1,234.23 346.7,234.29 347.3,234.35 347.9,234.41 348.5,234.46 349.1,234.51 349.7,234.56 350.3,234.61 350.9,234.65 351.5,234.7 352.1,234.74 352.7,234.77 353.3,234.81 353.9,234.84 354.5,234.87 355.1,234.9 355.7,234.92 356.3,234.94 356.9,234.96 357.5,234.97 358.1,234.98 358.7,234.99 359.3,235 359.9,235 360.5,235 361.1,234.99 361.7,234.98 362.3,234.96 362.9,234.93 363.5,234.91 364.1,234.87 364.7,234.84 365.3,234.79 365.9,234.75 366.5,234.7 367.1,234.64 367.7,234.59 368.3,234.53 368.9,234.46 369.5,234.4 370.1,234.33 370.7,234.26 371.3,234.18 371.9,234.11 372.5,234.03 373.1,233.95 373.7,233.87 374.3,233.79 374.9,233.71 375.5,233.62 376.1,233.54 376.7,233.46 377.3,233.37 377.9,233.29 378.5,233.21 379.1,233.12 379.7,233.04 380.3,232.96 380.9,232.87 381.5,232.78 382.1,232.69 382.7,232.6 383.3,232.5 383.9,232.39 384.5,232.29 385.1,232.18 385.7,232.06 386.3,231.95 386.9,231.83 387.5,231.71 388.1,231.59 388.7,231.46 389.3,231.33 389.9,231.2 390.5,231.07 391.1,230.94 391.7,230.8 392.3,230.66 392.9,230.52 393.5,230.38 394.1,230.24 394.7,230.1 395.3,229.95 395.9,229.81 396.5,229.66 397.1,229.52 397.7,229.37 398.3,229.22 398.9,229.07 399.5,228.92 400.1,228.78 400.7,228.62 401.3,228.47 401.9,228.31 402.5,228.15 403.1,227.99 403.7,227.82 404.3,227.65 404.9,227.48 405.5,227.31 406.1,227.13 406.7,226.95 407.3,226.77 407.9,226.59 408.5,226.41 409.1,226.22 409.7,226.04 410.3,225.85 410.9,225.66 411.5,225.47 412.1,225.28 412.7,225.09 413.3,224.9 413.9,224.71 414.5,224.52 415.1,224.33 415.7,224.13 416.3,223.94 416.9,223.75 417.5,223.56 418.1,223.37 418.7,223.19 419.3,223 419.9,222.81 420.5,222.61 421.1,222.41 421.7,222.2 422.3,221.99 422.9,221.77 423.5,221.54 424.1,221.32 424.7,221.09 425.3,220.86 425.9,220.63 426.5,220.4 427.1,220.17 427.7,219.94 428.3,219.72 428.9,219.49 429.5,219.27 430.1,219.05 430.7,218.84 431.3,218.64 431.9,218.43 432.5,218.24 433.1,218.05 433.7,217.87 434.3,217.7 434.9,217.54 435.5,217.39 436.1,217.25 436.7,217.12 437.3,217.01 437.9,216.9 438.5,216.81 439.1,216.73 439.7,216.65 440.3,216.57 440.9,216.5 441.5,216.42 442.1,216.34 442.7,216.27 443.3,216.2 443.9,216.13 444.5,216.06 445.1,216 445.7,215.94 446.3,215.89 446.9,215.84 447.5,215.79 448.1,215.75 448.7,215.71 449.3,215.68 449.9,215.65 450.5,215.63 451.1,215.61 451.7,215.6 452.3,215.6 452.9,215.62 453.5,215.66 454.1,215.74 454.7,215.83 455.3,215.95 455.9,216.08 456.5,216.24 457.1,216.41 457.7,216.6 458.3,216.81 458.9,217.03 459.5,217.26 460.1,217.5 460.7,217.74 461.3,218 461.9,218.26 462.5,218.52 463.1,218.79 463.7,219.06 464.3,219.34 464.9,219.69 465.5,220.08 466.1,220.52 466.7,220.99 467.3,221.5 467.9,222.02 468.5,222.57 469.1,223.12 469.7,223.68 470.3,224.24 470.9,224.78 471.5,225.31 472.1,225.82 472.7,226.29 473.3,226.73 473.9,227.15 474.5,227.6 475.1,228.06 475.7,228.54 476.3,229.02 476.9,229.5 477.5,229.97 478.1,230.42 478.7,230.85 479.3,231.25 479.9,231.61 480.5,231.92 481.1,232.19 481.7,232.39 482.3,232.53 482.9,232.6 483.5,232.59 484.1,232.51 484.7,232.38 485.3,232.2 485.9,231.96 486.5,231.69 487.1,231.37 487.7,231.02 488.3,230.63 488.9,230.22 489.5,229.79 490.1,229.34 490.7,228.88 491.3,228.32 491.9,227.55 492.5,226.61 493.1,225.54 493.7,224.38 494.3,223.19 494.9,222.01 495.5,220.88 496.1,219.85 496.7,218.96 497.3,218.08 497.9,217.15 498.5,216.2 499.1,215.28 499.7,214.42 500.3,213.66 500.9,213.03 501.5,212.58 502.1,212.33 502.7,212.31 503.3,212.38 503.9,212.52 504.5,212.73 505.1,213 505.7,213.32 506.3,213.7 506.9,214.13 507.5,214.6 508.1,215.11 508.7,215.82 509.3,216.99 509.9,218.58 510.5,220.56 511.1,222.87 511.7,225.49 512.3,228.37 512.9,231.47 513.5,234.96 514.1,239.58 514.7,245.96 515.3,256.52 515.9,277.47 516.5,298.13 517.1,318.71 517.7,322.99 518.3,301.93 518.9,278.03 519.5,248.05 520.1,216.7 520.7,192.01 521.3,182 521.9,182.35 522.5,184.81 523,190" fill="none" stroke="#d95319" stroke-width="4" stroke-opacity="0.4" stroke-linejoin="round" stroke-linecap="butt" />
<polyline points="73.5,103.25 91.25,108.25 123.75,141.5 147.5,152.75 147.5,153.7 148.1,153.97 148.7,154.23 149.3,154.5 149.9,154.76 150.5,155.03 151.1,155.29 151.7,155.56 152.3,155.83 152.9,156.09 153.5,156.36 154.1,156.62 154.7,156.89 155.3,157.16 155.9,157.42 156.5,157.69 157.1,157.96 157.7,158.23 158.3,158.49 158.9,158.76 159.5,159.03 160.1,159.3 160.7,159.57 161.3,159.84 161.9,160.11 162.5,160.38 163.1,160.64 163.7,160.91 164.3,161.18 164.9,161.45 165.5,161.73 166.1,162 166.7,162.27 167.3,162.54 167.9,162.81 168.5,163.08 169.1,163.35 169.7,163.62 170.3,163.89 170.9,164.16 171.5,164.43 172.1,164.7 172.7,164.97 173.3,165.25 173.9,165.52 174.5,165.79 175.1,166.06 175.7,166.33 176.3,166.6 176.9,166.88 177.5,167.15 178.1,167.42 178.7,167.69 179.3,167.97 179.9,168.24 180.5,168.51 181.1,168.78 181.7,169.06 182.3,169.33 182.9,169.6 183.5,169.88 184.1,170.15 184.7,170.43 185.3,170.7 185.9,170.97 186.5,171.25 187.1,171.52 187.7,171.8 188.3,172.08 188.9,172.35 189.5,172.63 190.1,172.9 190.7,173.18 191.3,173.46 191.9,173.73 192.5,174.01 193.1,174.29 193.7,174.57 194.3,174.84 194.9,175.12 195.5,175.4 196.1,175.68 196.7,175.96 197.3,176.24 197.9,176.52 198.5,176.8 199.1,177.08 199.7,177.36 200.3,177.64 200.9,177.92 201.5,178.2 202.1,178.48 202.7,178.77 203.3,179.05 203.9,179.33 204.5,179.61 205.1,179.89 205.7,180.18 206.3,180.46 206.9,180.74 207.5,181.03 208.1,181.31 208.7,181.59 209.3,181.88 209.9,182.16 210.5,182.45 211.1,182.73 211.7,183.02 212.3,183.3 212.9,183.59 213.5,183.87 214.1,184.16 214.7,184.45 215.3,184.73 215.9,185.02 216.5,185.31 217.1,185.6 217.7,185.89 218.3,186.17 218.9,186.46 219.5,186.75 220.1,187.04 220.7,187.33 221.3,187.62 221.9,187.92 222.5,188.21 223.1,188.5 223.7,188.79 224.3,189.09 224.9,189.38 225.5,189.68 226.1,189.97 226.7,190.27 227.3,190.56 227.9,190.86 228.5,191.15 229.1,191.45 229.7,191.75 230.3,192.05 230.9,192.35 231.5,192.65 232.1,192.96 232.7,193.26 233.3,193.57 233.9,193.88 234.5,194.19 235.1,194.5 235.7,194.81 236.3,195.12 236.9,195.43 237.5,195.74 238.1,196.05 238.7,196.37 239.3,196.68 239.9,196.99 240.5,197.3 241.1,197.61 241.7,197.92 242.3,198.23 242.9,198.53 243.5,198.84 244.1,199.15 244.7,199.45 245.3,199.75 245.9,200.05 246.5,200.35 247.1,200.65 247.7,200.94 248.3,201.24 248.9,201.53 249.5,201.83 250.1,202.12 250.7,202.41 251.3,202.71 251.9,203 252.5,203.29 253.1,203.58 253.7,203.87 254.3,204.16 254.9,204.45 255.5,204.75 256.1,205.04 256.7,205.33 257.3,205.62 257.9,205.92 258.5,206.21 259.1,206.51 259.7,206.8 260.3,207.1 260.9,207.4 261.5,207.7 262.1,208 262.7,208.3 263.3,208.6 263.9,208.91 264.5,209.21 265.1,209.52 265.7,209.82 266.3,210.13 266.9,210.44 267.5,210.75 268.1,211.06 268.7,211.37 269.3,211.68 269.9,211.99 270.5,212.3 271.1,212.61 271.7,212.93 272.3,213.24 272.9,213.55 273.5,213.87 274.1,214.18 274.7,214.5 275.3,214.81 275.9,215.13 276.5,215.45 277.1,215.76 277.7,216.08 278.3,216.4 278.9,216.72 279.5,217.03 280.1,217.35 280.7,217.67 281.3,218 281.9,218.32 282.5,218.64 283.1,218.97 283.7,219.3 284.3,219.63 284.9,219.95 285.5,220.28 286.1,220.61 286.7,220.94 287.3,221.26 287.9,221.58 288.5,221.91 289.1,222.23 289.7,222.54 290.3,222.87 290.9,223.24 291.5,223.65 292.1,224.05 292.7,224.41 293.3,224.69 293.9,224.86 294.5,224.9 295.1,224.9 295.7,224.89 296.3,224.88 296.9,224.86 297.5,224.84 298.1,224.82 298.7,224.79 299.3,224.69 299.9,224.48 300.5,224.22 301.1,223.92 301.7,223.63 302.3,223.37 302.9,223.19 303.5,223.1 304.1,223.12 304.7,223.21 305.3,223.34 305.9,223.52 306.5,223.73 307.1,223.97 307.7,224.22 308.3,224.49 308.9,224.75 309.5,225 310.1,225.24 310.7,225.48 311.3,225.73 311.9,225.99 312.5,226.27 313.1,226.56 313.7,226.85 314.3,227.16 314.9,227.47 315.5,227.79 316.1,228.12 316.7,228.45 317.3,228.79 317.9,229.13 318.5,229.47 319.1,229.81 319.7,230.15 320.3,230.49 320.9,230.83 321.5,231.16 322.1,231.49 322.7,231.82 323.3,232.14 323.9,232.45 324.5,232.76 325.1,233.05 325.7,233.34 326.3,233.61 326.9,233.87 327.5,234.12 328.1,234.36 328.7,234.58 329.3,234.78 329.9,234.97 330.5,235.14 331.1,235.32 331.7,235.48 332.3,235.65 332.9,235.81 333.5,235.96 334.1,236.12 334.7,236.27 335.3,236.41 335.9,236.56 336.5,236.7 337.1,236.84 337.7,236.98 338.3,237.11 338.9,237.24 339.5,237.37 340.1,237.5 340.7,237.62 341.3,237.75 341.9,237.87 342.5,237.98 343.1,238.1 343.7,238.22 344.3,238.33 344.9,238.44 345.5,238.55 346.1,238.66 346.7,238.77 347.3,238.87 347.9,238.98 348.5,239.08 349.1,239.19 349.7,239.29 350.3,239.39 350.9,239.49 351.5,239.59 352.1,239.69 352.7,239.79 353.3,239.89 353.9,239.99 354.5,240.09 355.1,240.19 355.7,240.28 356.3,240.38 356.9,240.48 357.5,240.58 358.1,240.68 358.7,240.78 359.3,240.88 359.9,240.98 360.5,241.08 361.1,241.18 361.7,241.28 362.3,241.38 362.9,241.47 363.5,241.56 364.1,241.65 364.7,241.74 365.3,241.83 365.9,241.92 366.5,242 367.1,242.09 367.7,242.17 368.3,242.26 368.9,242.34 369.5,242.43 370.1,242.51 370.7,242.59 371.3,242.68 371.9,242.76 372.5,242.85 373.1,242.93 373.7,243.02 374.3,243.11 374.9,243.19 375.5,243.28 376.1,243.37 376.7,243.46 377.3,243.56 377.9,243.65 378.5,243.75 379.1,243.85 379.7,243.95 380.3,244.05 380.9,244.16 381.5,244.28 382.1,244.41 382.7,244.55 383.3,244.69 383.9,244.83 384.5,244.98 385.1,245.13 385.7,245.29 386.3,245.45 386.9,245.61 387.5,245.77 388.1,245.93 388.7,246.09 389.3,246.25 389.9,246.4 390.5,246.56 391.1,246.71 391.7,246.85 392.3,246.99 392.9,247.12 393.5,247.25 394.1,247.37 394.7,247.48 395.3,247.59 395.9,247.68 396.5,247.76 397.1,247.83 397.7,247.89 398.3,247.94 398.9,247.97 399.5,247.99 400.1,248 400.7,248 401.3,247.99 401.9,247.98 402.5,247.97 403.1,247.95 403.7,247.93 404.3,247.9 404.9,247.87 405.5,247.84 406.1,247.8 406.7,247.76 407.3,247.72 407.9,247.67 408.5,247.62 409.1,247.57 409.7,247.51 410.3,247.45 410.9,247.39 411.5,247.32 412.1,247.25 412.7,247.18 413.3,247.11 413.9,247.03 414.5,246.95 415.1,246.86 415.7,246.78 416.3,246.69 416.9,246.59 417.5,246.5 418.1,246.4 418.7,246.3 419.3,246.2 419.9,246.07 420.5,245.9 421.1,245.69 421.7,245.43 422.3,245.14 422.9,244.82 423.5,244.46 424.1,244.07 424.7,243.66 425.3,243.22 425.9,242.75 426.5,242.27 427.1,241.77 427.7,241.25 428.3,240.72 428.9,240.18 429.5,239.63 430.1,239.08 430.7,238.53 431.3,237.97 431.9,237.41 432.5,236.86 433.1,236.32 433.7,235.74 434.3,235.12 434.9,234.47 435.5,233.79 436.1,233.07 436.7,232.33 437.3,231.57 437.9,230.79 438.5,229.99 439.1,229.17 439.7,228.35 440.3,227.52 440.9,226.68 441.5,225.84 442.1,225 442.7,224.17 443.3,223.35 443.9,222.53 444.5,221.73 445.1,220.95 445.7,220.19 446.3,219.45 446.9,218.74 447.5,218.06 448.1,217.41 448.7,216.79 449.3,216.16 449.9,215.54 450.5,214.92 451.1,214.3 451.7,213.68 452.3,213.06 452.9,212.45 453.5,211.85 454.1,211.25 454.7,210.66 455.3,210.08 455.9,209.51 456.5,208.95 457.1,208.41 457.7,207.88 458.3,207.37 458.9,206.87 459.5,206.39 460.1,205.94 460.7,205.5 461.3,205.08 461.9,204.69 462.5,204.31 463.1,203.97 463.7,203.65 464.3,203.35 464.9,203.04 465.5,202.74 466.1,202.44 466.7,202.13 467.3,201.84 467.9,201.54 468.5,201.26 469.1,200.98 469.7,200.71 470.3,200.46 470.9,200.21 471.5,199.98 472.1,199.77 472.7,199.57 473.3,199.4 473.9,199.24 474.5,199.1 475.1,198.99 475.7,198.9 476.3,198.84 476.9,198.81 477.5,198.8 478.1,198.8 478.7,198.8 479.3,198.8 479.9,198.8 480.5,198.8 481.1,198.8 481.7,198.8 482.3,198.8 482.9,198.8 483.5,198.8 484.1,198.8 484.7,198.8 485.3,198.8 485.9,198.8 486.5,198.8 487.1,198.8 487.7,198.83 488.3,198.91 488.9,199.02 489.5,199.17 490.1,199.36 490.7,199.57 491.3,199.82 491.9,200.09 492.5,200.38 493.1,200.69 493.7,201.01 494.3,201.35 494.9,201.7 495.5,202.05 496.1,202.4 496.7,202.76 497.3,203.13 497.9,203.54 498.5,203.97 499.1,204.44 499.7,204.95 500.3,205.49 500.9,206.07 501.5,206.69 502.1,207.35 502.7,208.06 503.3,208.81 503.9,209.61 504.5,210.45 505.1,211.35 505.7,212.3 506.3,213.3 506.9,214.44 507.5,215.8 508.1,217.37 508.7,219.16 509.3,221.17 509.9,223.38 510.5,225.81 511.1,228.48 511.7,232.23 512.3,237.02 512.9,242.13 513.5,246.86 514.1,250.5 514.7,252.75 515.3,254.49 515.9,256.82 516.5,261.36 517.1,281.72 517.7,287.82 518.3,266.04 518.9,245.61 519.5,224.75 520.1,204.64 520.7,189.49 521.3,183.5 521.9,183.85 522.5,186.31 523,191.5" fill="none" stroke="#d95319" stroke-width="4" stroke-opacity="0.45" stroke-linejoin="round" stroke-linecap="butt" />
<polyline points="73.5,114.15 91.25,119.15 123.75,146.65 147.5,154.15 147.5,154 148.1,154.27 148.7,154.53 149.3,154.8 149.9,155.06 150.5,155.33 151.1,155.59 151.7,155.86 152.3,156.13 152.9,156.39 153.5,156.66 154.1,156.92 154.7,157.19 155.3,157.46 155.9,157.72 156.5,157.99 157.1,158.26 157.7,158.53 158.3,158.79 158.9,159.06 159.5,159.33 160.1,159.6 160.7,159.87 161.3,160.14 161.9,160.41 162.5,160.68 163.1,160.94 163.7,161.21 164.3,161.48 164.9,161.75 165.5,162.03 166.1,162.3 166.7,162.57 167.3,162.84 167.9,163.11 168.5,163.38 169.1,163.65 169.7,163.92 170.3,164.19 170.9,164.46 171.5,164.73 172.1,165 172.7,165.27 173.3,165.55 173.9,165.82 174.5,166.09 175.1,166.36 175.7,166.63 176.3,166.9 176.9,167.18 177.5,167.45 178.1,167.72 178.7,167.99 179.3,168.27 179.9,168.54 180.5,168.81 181.1,169.08 181.7,169.36 182.3,169.63 182.9,169.9 183.5,170.18 184.1,170.45 184.7,170.73 185.3,171 185.9,171.27 186.5,171.55 187.1,171.82 187.7,172.1 188.3,172.38 188.9,172.65 189.5,172.93 190.1,173.2 190.7,173.48 191.3,173.76 191.9,174.03 192.5,174.31 193.1,174.59 193.7,174.87 194.3,175.14 194.9,175.42 195.5,175.7 196.1,175.98 196.7,176.26 197.3,176.54 197.9,176.82 198.5,177.1 199.1,177.38 199.7,177.66 200.3,177.94 200.9,178.22 201.5,178.5 202.1,178.78 202.7,179.07 203.3,179.35 203.9,179.63 204.5,179.91 205.1,180.19 205.7,180.48 206.3,180.76 206.9,181.04 207.5,181.33 208.1,181.61 208.7,181.89 209.3,182.18 209.9,182.46 210.5,182.75 211.1,183.03 211.7,183.32 212.3,183.6 212.9,183.89 213.5,184.17 214.1,184.46 214.7,184.75 215.3,185.03 215.9,185.32 216.5,185.61 217.1,185.9 217.7,186.19 218.3,186.47 218.9,186.76 219.5,187.05 220.1,187.34 220.7,187.63 221.3,187.92 221.9,188.22 222.5,188.51 223.1,188.8 223.7,189.09 224.3,189.39 224.9,189.68 225.5,189.98 226.1,190.27 226.7,190.57 227.3,190.86 227.9,191.16 228.5,191.45 229.1,191.75 229.7,192.05 230.3,192.35 230.9,192.65 231.5,192.95 232.1,193.26 232.7,193.56 233.3,193.87 233.9,194.18 234.5,194.49 235.1,194.8 235.7,195.11 236.3,195.42 236.9,195.73 237.5,196.04 238.1,196.35 238.7,196.67 239.3,196.98 239.9,197.29 240.5,197.6 241.1,197.91 241.7,198.22 242.3,198.53 242.9,198.83 243.5,199.14 244.1,199.45 244.7,199.75 245.3,200.05 245.9,200.35 246.5,200.65 247.1,200.95 247.7,201.24 248.3,201.54 248.9,201.83 249.5,202.13 250.1,202.42 250.7,202.71 251.3,203.01 251.9,203.3 252.5,203.59 253.1,203.88 253.7,204.17 254.3,204.46 254.9,204.75 255.5,205.05 256.1,205.34 256.7,205.63 257.3,205.92 257.9,206.22 258.5,206.51 259.1,206.81 259.7,207.1 260.3,207.4 260.9,207.7 261.5,208 262.1,208.3 262.7,208.6 263.3,208.9 263.9,209.21 264.5,209.51 265.1,209.82 265.7,210.12 266.3,210.43 266.9,210.74 267.5,211.05 268.1,211.36 268.7,211.67 269.3,211.98 269.9,212.29 270.5,212.6 271.1,212.91 271.7,213.23 272.3,213.54 272.9,213.85 273.5,214.17 274.1,214.48 274.7,214.8 275.3,215.11 275.9,215.43 276.5,215.75 277.1,216.06 277.7,216.38 278.3,216.7 278.9,217.02 279.5,217.33 280.1,217.65 280.7,217.97 281.3,218.3 281.9,218.62 282.5,218.94 283.1,219.27 283.7,219.6 284.3,219.93 284.9,220.25 285.5,220.58 286.1,220.91 286.7,221.24 287.3,221.56 287.9,221.88 288.5,222.21 289.1,222.53 289.7,222.84 290.3,223.17 290.9,223.54 291.5,223.95 292.1,224.35 292.7,224.71 293.3,224.99 293.9,225.16 294.5,225.2 295.1,225.2 295.7,225.19 296.3,225.18 296.9,225.16 297.5,225.14 298.1,225.12 298.7,225.09 299.3,224.99 299.9,224.78 300.5,224.52 301.1,224.22 301.7,223.93 302.3,223.67 302.9,223.49 303.5,223.4 304.1,223.41 304.7,223.46 305.3,223.53 305.9,223.63 306.5,223.75 307.1,223.88 307.7,224.02 308.3,224.17 308.9,224.33 309.5,224.48 310.1,224.62 310.7,224.78 311.3,224.94 311.9,225.13 312.5,225.32 313.1,225.53 313.7,225.75 314.3,225.98 314.9,226.22 315.5,226.47 316.1,226.73 316.7,226.99 317.3,227.25 317.9,227.52 318.5,227.8 319.1,228.07 319.7,228.34 320.3,228.62 320.9,228.89 321.5,229.16 322.1,229.42 322.7,229.68 323.3,229.93 323.9,230.18 324.5,230.41 325.1,230.64 325.7,230.86 326.3,231.06 326.9,231.26 327.5,231.43 328.1,231.6 328.7,231.74 329.3,231.87 329.9,231.98 330.5,232.08 331.1,232.18 331.7,232.28 332.3,232.37 332.9,232.47 333.5,232.56 334.1,232.65 334.7,232.75 335.3,232.84 335.9,232.93 336.5,233.01 337.1,233.1 337.7,233.19 338.3,233.27 338.9,233.36 339.5,233.44 340.1,233.52 340.7,233.6 341.3,233.68 341.9,233.75 342.5,233.82 343.1,233.9 343.7,233.97 344.3,234.04 344.9,234.1 345.5,234.17 346.1,234.23 346.7,234.29 347.3,234.35 347.9,234.41 348.5,234.46 349.1,234.51 349.7,234.56 350.3,234.61 350.9,234.65 351.5,234.7 352.1,234.74 352.7,234.77 353.3,234.81 353.9,234.84 354.5,234.87 355.1,234.9 355.7,234.92 356.3,234.94 356.9,234.96 357.5,234.97 358.1,234.98 358.7,234.99 359.3,235 359.9,235 360.5,235 361.1,234.99 361.7,234.98 362.3,234.96 362.9,234.93 363.5,234.91 364.1,234.87 364.7,234.84 365.3,234.79 365.9,234.75 366.5,234.7 367.1,234.64 367.7,234.59 368.3,234.53 368.9,234.46 369.5,234.4 370.1,234.33 370.7,234.26 371.3,234.18 371.9,234.11 372.5,234.03 373.1,233.95 373.7,233.87 374.3,233.79 374.9,233.71 375.5,233.62 376.1,233.54 376.7,233.46 377.3,233.37 377.9,233.29 378.5,233.21 379.1,233.12 379.7,233.04 380.3,232.96 380.9,232.87 381.5,232.78 382.1,232.69 382.7,232.6 383.3,232.5 383.9,232.39 384.5,232.29 385.1,232.18 385.7,232.06 386.3,231.95 386.9,231.83 387.5,231.71 388.1,231.59 388.7,231.46 389.3,231.33 389.9,231.2 390.5,231.07 391.1,230.94 391.7,230.8 392.3,230.66 392.9,230.52 393.5,230.38 394.1,230.24 394.7,230.1 395.3,229.95 395.9,229.81 396.5,229.66 397.1,229.52 397.7,229.37 398.3,229.22 398.9,229.07 399.5,228.92 400.1,228.78 400.7,228.62 401.3,228.47 401.9,228.31 402.5,228.15 403.1,227.99 403.7,227.82 404.3,227.65 404.9,227.48 405.5,227.31 406.1,227.13 406.7,226.95 407.3,226.77 407.9,226.59 408.5,226.41 409.1,226.22 409.7,226.04 410.3,225.85 410.9,225.66 411.5,225.47 412.1,225.28 412.7,225.09 413.3,224.9 413.9,224.71 414.5,224.52 415.1,224.33 415.7,224.13 416.3,223.94 416.9,223.75 417.5,223.56 418.1,223.37 418.7,223.19 419.3,223 419.9,222.81 420.5,222.61 421.1,222.41 421.7,222.2 422.3,221.99 422.9,221.77 423.5,221.54 424.1,221.32 424.7,221.09 425.3,220.86 425.9,220.63 426.5,220.4 427.1,220.17 427.7,219.94 428.3,219.72 428.9,219.49 429.5,219.27 430.1,219.05 430.7,218.84 431.3,218.64 431.9,218.43 432.5,218.24 433.1,218.05 433.7,217.87 434.3,217.7 434.9,217.54 435.5,217.39 436.1,217.25 436.7,217.12 437.3,217.01 437.9,216.9 438.5,216.81 439.1,216.73 439.7,216.65 440.3,216.57 440.9,216.5 441.5,216.42 442.1,216.34 442.7,216.27 443.3,216.2 443.9,216.13 444.5,216.06 445.1,216 445.7,215.94 446.3,215.89 446.9,215.84 447.5,215.79 448.1,215.75 448.7,215.71 449.3,215.68 449.9,215.65 450.5,215.63 451.1,215.61 451.7,215.6 452.3,215.6 452.9,215.62 453.5,215.66 454.1,215.74 454.7,215.83 455.3,215.95 455.9,216.08 456.5,216.24 457.1,216.41 457.7,216.6 458.3,216.81 458.9,217.03 459.5,217.26 460.1,217.5 460.7,217.74 461.3,218 461.9,218.26 462.5,218.52 463.1,218.79 463.7,219.06 464.3,219.34 464.9,219.69 465.5,220.08 466.1,220.52 466.7,220.99 467.3,221.5 467.9,222.02 468.5,222.57 469.1,223.12 469.7,223.68 470.3,224.24 470.9,224.78 471.5,225.31 472.1,225.82 472.7,226.29 473.3,226.73 473.9,227.15 474.5,227.6 475.1,228.06 475.7,228.54 476.3,229.02 476.9,229.5 477.5,229.97 478.1,230.42 478.7,230.85 479.3,231.25 479.9,231.61 480.5,231.92 481.1,232.19 481.7,232.39 482.3,232.53 482.9,232.6 483.5,232.59 484.1,232.51 484.7,232.38 485.3,232.2 485.9,231.96 486.5,231.69 487.1,231.37 487.7,231.02 488.3,230.63 488.9,230.22 489.5,229.79 490.1,229.34 490.7,228.88 491.3,228.32 491.9,227.55 492.5,226.61 493.1,225.54 493.7,224.38 494.3,223.19 494.9,222.01 495.5,220.88 496.1,219.85 496.7,218.96 497.3,218.08 497.9,217.15 498.5,216.2 499.1,215.28 499.7,214.42 500.3,213.66 500.9,213.03 501.5,212.58 502.1,212.33 502.7,212.31 503.3,212.38 503.9,212.52 504.5,212.73 505.1,213 505.7,213.32 506.3,213.7 506.9,214.13 507.5,214.6 508.1,215.11 508.7,215.82 509.3,216.99 509.9,218.58 510.5,220.56 511.1,222.87 511.7,225.49 512.3,228.37 512.9,231.47 513.5,236.32 514.1,243.54 514.7,249.11 515.3,249.41 515.9,246.46 516.5,245.7 517.1,265.98 517.7,272.71 518.3,250.46 518.9,232.04 519.5,215.49 520.1,200.34 520.7,189.28 521.3,185 521.9,185.35 522.5,187.81 523,193" fill="none" stroke="#d95319" stroke-width="4" stroke-opacity="0.25" stroke-linejoin="round" stroke-linecap="butt" />
<polyline points="73.5,113.55 91.25,118.55 123.75,146.05 147.5,153.55 147.5,152.8 148.1,153.07 148.7,153.33 149.3,153.6 149.9,153.86 150.5,154.13 151.1,154.39 151.7,154.66 152.3,154.93 152.9,155.19 153.5,155.46 154.1,155.72 154.7,155.99 155.3,156.26 155.9,156.52 156.5,156.79 157.1,157.06 157.7,157.33 158.3,157.59 158.9,157.86 159.5,158.13 160.1,158.4 160.7,158.67 161.3,158.94 161.9,159.21 162.5,159.48 163.1,159.74 163.7,160.01 164.3,160.28 164.9,160.55 165.5,160.83 166.1,161.1 166.7,161.37 167.3,161.64 167.9,161.91 168.5,162.18 169.1,162.45 169.7,162.72 170.3,162.99 170.9,163.26 171.5,163.53 172.1,163.8 172.7,164.07 173.3,164.35 173.9,164.62 174.5,164.89 175.1,165.16 175.7,165.43 176.3,165.7 176.9,165.98 177.5,166.25 178.1,166.52 178.7,166.79 179.3,167.07 179.9,167.34 180.5,167.61 181.1,167.88 181.7,168.16 182.3,168.43 182.9,168.7 183.5,168.98 184.1,169.25 184.7,169.53 185.3,169.8 185.9,170.07 186.5,170.35 187.1,170.62 187.7,170.9 188.3,171.18 188.9,171.45 189.5,171.73 190.1,172 190.7,172.28 191.3,172.56 191.9,172.83 192.5,173.11 193.1,173.39 193.7,173.67 194.3,173.94 194.9,174.22 195.5,174.5 196.1,174.78 196.7,175.06 197.3,175.34 197.9,175.62 198.5,175.9 199.1,176.18 199.7,176.46 200.3,176.74 200.9,177.02 201.5,177.3 202.1,177.58 202.7,177.87 203.3,178.15 203.9,178.43 204.5,178.71 205.1,178.99 205.7,179.28 206.3,179.56 206.9,179.84 207.5,180.13 208.1,180.41 208.7,180.69 209.3,180.98 209.9,181.26 210.5,181.55 211.1,181.83 211.7,182.12 212.3,182.4 212.9,182.69 213.5,182.97 214.1,183.26 214.7,183.55 215.3,183.83 215.9,184.12 216.5,184.41 217.1,184.7 217.7,184.99 218.3,185.27 218.9,185.56 219.5,185.85 220.1,186.14 220.7,186.43 221.3,186.72 221.9,187.02 222.5,187.31 223.1,187.6 223.7,187.89 224.3,188.19 224.9,188.48 225.5,188.78 226.1,189.07 226.7,189.37 227.3,189.66 227.9,189.96 228.5,190.25 229.1,190.55 229.7,190.85 230.3,191.15 230.9,191.45 231.5,191.75 232.1,192.06 232.7,192.36 233.3,192.67 233.9,192.98 234.5,193.29 235.1,193.6 235.7,193.91 236.3,194.22 236.9,194.53 237.5,194.84 238.1,195.15 238.7,195.47 239.3,195.78 239.9,196.09 240.5,196.4 241.1,196.71 241.7,197.02 242.3,197.33 242.9,197.63 243.5,197.94 244.1,198.25 244.7,198.55 245.3,198.85 245.9,199.15 246.5,199.45 247.1,199.75 247.7,200.04 248.3,200.34 248.9,200.63 249.5,200.93 250.1,201.22 250.7,201.51 251.3,201.81 251.9,202.1 252.5,202.39 253.1,202.68 253.7,202.97 254.3,203.26 254.9,203.55 255.5,203.85 256.1,204.14 256.7,204.43 257.3,204.72 257.9,205.02 258.5,205.31 259.1,205.61 259.7,205.9 260.3,206.2 260.9,206.5 261.5,206.8 262.1,207.1 262.7,207.4 263.3,207.7 263.9,208.01 264.5,208.31 265.1,208.62 265.7,208.92 266.3,209.23 266.9,209.54 267.5,209.85 268.1,210.16 268.7,210.47 269.3,210.78 269.9,211.09 270.5,211.4 271.1,211.71 271.7,212.03 272.3,212.34 272.9,212.65 273.5,212.97 274.1,213.28 274.7,213.6 275.3,213.91 275.9,214.23 276.5,214.55 277.1,214.86 277.7,215.18 278.3,215.5 278.9,215.82 279.5,216.13 280.1,216.45 280.7,216.77 281.3,217.1 281.9,217.42 282.5,217.74 283.1,218.07 283.7,218.4 284.3,218.73 284.9,219.05 285.5,219.38 286.1,219.71 286.7,220.04 287.3,220.36 287.9,220.68 288.5,221.01 289.1,221.33 289.7,221.64 290.3,221.97 290.9,222.34 291.5,222.75 292.1,223.15 292.7,223.51 293.3,223.79 293.9,223.96 294.5,224 295.1,224 295.7,223.99 296.3,223.98 296.9,223.96 297.5,223.94 298.1,223.92 298.7,223.89 299.3,223.79 299.9,223.58 300.5,223.32 301.1,223.02 301.7,222.73 302.3,222.47 302.9,222.29 303.5,222.2 304.1,222.23 304.7,222.36 305.3,222.56 305.9,222.83 306.5,223.15 307.1,223.5 307.7,223.87 308.3,224.24 308.9,224.6 309.5,224.95 310.1,225.25 310.7,225.54 311.3,225.84 311.9,226.14 312.5,226.45 313.1,226.77 313.7,227.09 314.3,227.42 314.9,227.74 315.5,228.08 316.1,228.41 316.7,228.74 317.3,229.07 317.9,229.41 318.5,229.74 319.1,230.07 319.7,230.4 320.3,230.73 320.9,231.05 321.5,231.36 322.1,231.68 322.7,231.98 323.3,232.28 323.9,232.58 324.5,232.86 325.1,233.14 325.7,233.41 326.3,233.67 326.9,233.91 327.5,234.15 328.1,234.37 328.7,234.59 329.3,234.79 329.9,234.97 330.5,235.14 331.1,235.32 331.7,235.48 332.3,235.65 332.9,235.81 333.5,235.96 334.1,236.12 334.7,236.27 335.3,236.41 335.9,236.56 336.5,236.7 337.1,236.84 337.7,236.98 338.3,237.11 338.9,237.24 339.5,237.37 340.1,237.5 340.7,237.62 341.3,237.75 341.9,237.87 342.5,237.98 343.1,238.1 343.7,238.22 344.3,238.33 344.9,238.44 345.5,238.55 346.1,238.66 346.7,238.77 347.3,238.87 347.9,238.98 348.5,239.08 349.1,239.19 349.7,239.29 350.3,239.39 350.9,239.49 351.5,239.59 352.1,239.69 352.7,239.79 353.3,239.89 353.9,239.99 354.5,240.09 355.1,240.19 355.7,240.28 356.3,240.38 356.9,240.48 357.5,240.58 358.1,240.68 358.7,240.78 359.3,240.88 359.9,240.98 360.5,241.08 361.1,241.18 361.7,241.28 362.3,241.38 362.9,241.47 363.5,241.56 364.1,241.65 364.7,241.74 365.3,241.83 365.9,241.92 366.5,242 367.1,242.09 367.7,242.17 368.3,242.26 368.9,242.34 369.5,242.43 370.1,242.51 370.7,242.59 371.3,242.68 371.9,242.76 372.5,242.85 373.1,242.93 373.7,243.02 374.3,243.11 374.9,243.19 375.5,243.28 376.1,243.37 376.7,243.46 377.3,243.56 377.9,243.65 378.5,243.75 379.1,243.85 379.7,243.95 380.3,244.05 380.9,244.16 381.5,244.28 382.1,244.41 382.7,244.55 383.3,244.69 383.9,244.83 384.5,244.98 385.1,245.13 385.7,245.29 386.3,245.45 386.9,245.61 387.5,245.77 388.1,245.93 388.7,246.09 389.3,246.25 389.9,246.4 390.5,246.56 391.1,246.71 391.7,246.85 392.3,246.99 392.9,247.12 393.5,247.25 394.1,247.37 394.7,247.48 395.3,247.59 395.9,247.68 396.5,247.76 397.1,247.83 397.7,247.89 398.3,247.94 398.9,247.97 399.5,247.99 400.1,248 400.7,248 401.3,247.99 401.9,247.98 402.5,247.97 403.1,247.95 403.7,247.93 404.3,247.9 404.9,247.87 405.5,247.84 406.1,247.8 406.7,247.76 407.3,247.72 407.9,247.67 408.5,247.62 409.1,247.57 409.7,247.51 410.3,247.45 410.9,247.39 411.5,247.32 412.1,247.25 412.7,247.18 413.3,247.11 413.9,247.03 414.5,246.95 415.1,246.86 415.7,246.78 416.3,246.69 416.9,246.59 417.5,246.5 418.1,246.4 418.7,246.3 419.3,246.2 419.9,246.07 420.5,245.9 421.1,245.69 421.7,245.43 422.3,245.14 422.9,244.82 423.5,244.46 424.1,244.07 424.7,243.66 425.3,243.22 425.9,242.75 426.5,242.27 427.1,241.77 427.7,241.25 428.3,240.72 428.9,240.18 429.5,239.63 430.1,239.08 430.7,238.53 431.3,237.97 431.9,237.41 432.5,236.86 433.1,236.32 433.7,235.74 434.3,235.12 434.9,234.47 435.5,233.79 436.1,233.07 436.7,232.33 437.3,231.57 437.9,230.79 438.5,229.99 439.1,229.17 439.7,228.35 440.3,227.52 440.9,226.68 441.5,225.84 442.1,225 442.7,224.17 443.3,223.35 443.9,222.53 444.5,221.73 445.1,220.95 445.7,220.19 446.3,219.45 446.9,218.74 447.5,218.06 448.1,217.41 448.7,216.79 449.3,216.16 449.9,215.54 450.5,214.92 451.1,214.3 451.7,213.68 452.3,213.06 452.9,212.45 453.5,211.85 454.1,211.25 454.7,210.66 455.3,210.08 455.9,209.51 456.5,208.95 457.1,208.41 457.7,207.88 458.3,207.37 458.9,206.87 459.5,206.39 460.1,205.94 460.7,205.5 461.3,205.08 461.9,204.69 462.5,204.31 463.1,203.97 463.7,203.65 464.3,203.35 464.9,203.04 465.5,202.74 466.1,202.44 466.7,202.13 467.3,201.84 467.9,201.54 468.5,201.26 469.1,200.98 469.7,200.71 470.3,200.46 470.9,200.21 471.5,199.98 472.1,199.77 472.7,199.57 473.3,199.4 473.9,199.24 474.5,199.1 475.1,198.99 475.7,198.9 476.3,198.84 476.9,198.81 477.5,198.8 478.1,198.8 478.7,198.8 479.3,198.8 479.9,198.8 480.5,198.8 481.1,198.8 481.7,198.8 482.3,198.8 482.9,198.8 483.5,198.8 484.1,198.8 484.7,198.8 485.3,198.8 485.9,198.8 486.5,198.8 487.1,198.8 487.7,198.83 488.3,198.91 488.9,199.02 489.5,199.17 490.1,199.36 490.7,199.57 491.3,199.82 491.9,200.09 492.5,200.38 493.1,200.69 493.7,201.01 494.3,201.35 494.9,201.7 495.5,202.05 496.1,202.4 496.7,202.76 497.3,203.13 497.9,203.54 498.5,203.97 499.1,204.44 499.7,204.95 500.3,205.49 500.9,206.07 501.5,206.69 502.1,207.35 502.7,208.06 503.3,208.81 503.9,209.61 504.5,210.45 505.1,211.35 505.7,212.3 506.3,213.3 506.9,214.44 507.5,215.8 508.1,217.37 508.7,219.16 509.3,221.17 509.9,223.38 510.5,225.81 511.1,228.46 511.7,231.72 512.3,235.72 512.9,240.33 513.5,245.44 514.1,250.94 514.7,256.85 515.3,263.62 515.9,271.78 516.5,282.18 517.1,302.65 517.7,307.91 518.3,286.5 518.9,264.33 519.5,239.17 520.1,213.86 520.7,194.33 521.3,186.5 521.9,186.85 522.5,189.31 523,194.5" fill="none" stroke="#d95319" stroke-width="4" stroke-opacity="0.35" stroke-linejoin="round" stroke-linecap="butt" />
<polyline points="73.5,113.85 91.25,118.85 123.75,146.35 147.5,153.85 147.5,153.4 148.1,153.67 148.7,153.93 149.3,154.2 149.9,154.46 150.5,154.73 151.1,154.99 151.7,155.26 152.3,155.53 152.9,155.79 153.5,156.06 154.1,156.32 154.7,156.59 155.3,156.86 155.9,157.12 156.5,157.39 157.1,157.66 157.7,157.93 158.3,158.19 158.9,158.46 159.5,158.73 160.1,159 160.7,159.27 161.3,159.54 161.9,159.81 162.5,160.08 163.1,160.34 163.7,160.61 164.3,160.88 164.9,161.15 165.5,161.43 166.1,161.7 166.7,161.97 167.3,162.24 167.9,162.51 168.5,162.78 169.1,163.05 169.7,163.32 170.3,163.59 170.9,163.86 171.5,164.13 172.1,164.4 172.7,164.67 173.3,164.95 173.9,165.22 174.5,165.49 175.1,165.76 175.7,166.03 176.3,166.3 176.9,166.58 177.5,166.85 178.1,167.12 178.7,167.39 179.3,167.67 179.9,167.94 180.5,168.21 181.1,168.48 181.7,168.76 182.3,169.03 182.9,169.3 183.5,169.58 184.1,169.85 184.7,170.13 185.3,170.4 185.9,170.67 186.5,170.95 187.1,171.22 187.7,171.5 188.3,171.78 188.9,172.05 189.5,172.33 190.1,172.6 190.7,172.88 191.3,173.16 191.9,173.43 192.5,173.71 193.1,173.99 193.7,174.27 194.3,174.54 194.9,174.82 195.5,175.1 196.1,175.38 196.7,175.66 197.3,175.94 197.9,176.22 198.5,176.5 199.1,176.78 199.7,177.06 200.3,177.34 200.9,177.62 201.5,177.9 202.1,178.18 202.7,178.47 203.3,178.75 203.9,179.03 204.5,179.31 205.1,179.59 205.7,179.88 206.3,180.16 206.9,180.44 207.5,180.73 208.1,181.01 208.7,181.29 209.3,181.58 209.9,181.86 210.5,182.15 211.1,182.43 211.7,182.72 212.3,183 212.9,183.29 213.5,183.57 214.1,183.86 214.7,184.15 215.3,184.43 215.9,184.72 216.5,185.01 217.1,185.3 217.7,185.59 218.3,185.87 218.9,186.16 219.5,186.45 220.1,186.74 220.7,187.03 221.3,187.32 221.9,187.62 222.5,187.91 223.1,188.2 223.7,188.49 224.3,188.79 224.9,189.08 225.5,189.38 226.1,189.67 226.7,189.97 227.3,190.26 227.9,190.56 228.5,190.85 229.1,191.15 229.7,191.45 230.3,191.75 230.9,192.05 231.5,192.35 232.1,192.66 232.7,192.96 233.3,193.27 233.9,193.58 234.5,193.89 235.1,194.2 235.7,194.51 236.3,194.82 236.9,195.13 237.5,195.44 238.1,195.75 238.7,196.07 239.3,196.38 239.9,196.69 240.5,197 241.1,197.31 241.7,197.62 242.3,197.93 242.9,198.23 243.5,198.54 244.1,198.85 244.7,199.15 245.3,199.45 245.9,199.75 246.5,200.05 247.1,200.35 247.7,200.64 248.3,200.94 248.9,201.23 249.5,201.53 250.1,201.82 250.7,202.11 251.3,202.41 251.9,202.7 252.5,202.99 253.1,203.28 253.7,203.57 254.3,203.86 254.9,204.15 255.5,204.45 256.1,204.74 256.7,205.03 257.3,205.32 257.9,205.62 258.5,205.91 259.1,206.21 259.7,206.5 260.3,206.8 260.9,207.1 261.5,207.4 262.1,207.7 262.7,208 263.3,208.3 263.9,208.61 264.5,208.91 265.1,209.22 265.7,209.52 266.3,209.83 266.9,210.14 267.5,210.45 268.1,210.76 268.7,211.07 269.3,211.38 269.9,211.69 270.5,212 271.1,212.31 271.7,212.63 272.3,212.94 272.9,213.25 273.5,213.57 274.1,213.88 274.7,214.2 275.3,214.51 275.9,214.83 276.5,215.15 277.1,215.46 277.7,215.78 278.3,216.1 278.9,216.42 279.5,216.73 280.1,217.05 280.7,217.37 281.3,217.7 281.9,218.02 282.5,218.34 283.1,218.67 283.7,219 284.3,219.33 284.9,219.65 285.5,219.98 286.1,220.31 286.7,220.64 287.3,220.96 287.9,221.28 288.5,221.61 289.1,221.93 289.7,222.24 290.3,222.57 290.9,222.94 291.5,223.35 292.1,223.75 292.7,224.11 293.3,224.39 293.9,224.56 294.5,224.6 295.1,224.6 295.7,224.59 296.3,224.58 296.9,224.56 297.5,224.54 298.1,224.52 298.7,224.49 299.3,224.39 299.9,224.18 300.5,223.92 301.1,223.62 301.7,223.33 302.3,223.07 302.9,222.89 303.5,222.8 304.1,222.83 304.7,222.93 305.3,223.09 305.9,223.3 306.5,223.56 307.1,223.84 307.7,224.15 308.3,224.46 308.9,224.77 309.5,225.07 310.1,225.34 310.7,225.62 311.3,225.9 311.9,226.2 312.5,226.51 313.1,226.83 313.7,227.16 314.3,227.49 314.9,227.84 315.5,228.19 316.1,228.54 316.7,228.9 317.3,229.27 317.9,229.63 318.5,230 319.1,230.37 319.7,230.73 320.3,231.1 320.9,231.46 321.5,231.82 322.1,232.18 322.7,232.53 323.3,232.87 323.9,233.21 324.5,233.54 325.1,233.85 325.7,234.16 326.3,234.46 326.9,234.75 327.5,235.02 328.1,235.28 328.7,235.53 329.3,235.75 329.9,235.97 330.5,236.17 331.1,236.36 331.7,236.55 332.3,236.74 332.9,236.92 333.5,237.1 334.1,237.27 334.7,237.44 335.3,237.61 335.9,237.78 336.5,237.94 337.1,238.1 337.7,238.25 338.3,238.4 338.9,238.55 339.5,238.7 340.1,238.85 340.7,238.99 341.3,239.13 341.9,239.27 342.5,239.4 343.1,239.54 343.7,239.67 344.3,239.8 344.9,239.93 345.5,240.05 346.1,240.18 346.7,240.3 347.3,240.43 347.9,240.55 348.5,240.67 349.1,240.79 349.7,240.91 350.3,241.03 350.9,241.15 351.5,241.27 352.1,241.39 352.7,241.51 353.3,241.63 353.9,241.75 354.5,241.87 355.1,241.99 355.7,242.11 356.3,242.23 356.9,242.35 357.5,242.48 358.1,242.6 358.7,242.72 359.3,242.85 359.9,242.98 360.5,243.11 361.1,243.24 361.7,243.36 362.3,243.49 362.9,243.62 363.5,243.75 364.1,243.88 364.7,244 365.3,244.13 365.9,244.26 366.5,244.38 367.1,244.51 367.7,244.63 368.3,244.76 368.9,244.88 369.5,245.01 370.1,245.13 370.7,245.25 371.3,245.37 371.9,245.49 372.5,245.61 373.1,245.73 373.7,245.84 374.3,245.96 374.9,246.07 375.5,246.19 376.1,246.3 376.7,246.41 377.3,246.52 377.9,246.63 378.5,246.74 379.1,246.84 379.7,246.95 380.3,247.05 380.9,247.16 381.5,247.27 382.1,247.38 382.7,247.5 383.3,247.61 383.9,247.73 384.5,247.85 385.1,247.97 385.7,248.09 386.3,248.21 386.9,248.33 387.5,248.45 388.1,248.57 388.7,248.69 389.3,248.8 389.9,248.91 390.5,249.02 391.1,249.12 391.7,249.22 392.3,249.32 392.9,249.41 393.5,249.5 394.1,249.58 394.7,249.66 395.3,249.73 395.9,249.79 396.5,249.84 397.1,249.89 397.7,249.93 398.3,249.96 398.9,249.98 399.5,250 400.1,250 400.7,249.99 401.3,249.98 401.9,249.96 402.5,249.93 403.1,249.9 403.7,249.86 404.3,249.81 404.9,249.75 405.5,249.69 406.1,249.62 406.7,249.55 407.3,249.47 407.9,249.39 408.5,249.3 409.1,249.21 409.7,249.11 410.3,249.01 410.9,248.9 411.5,248.79 412.1,248.68 412.7,248.56 413.3,248.44 413.9,248.31 414.5,248.19 415.1,248.06 415.7,247.93 416.3,247.79 416.9,247.66 417.5,247.52 418.1,247.38 418.7,247.24 419.3,247.1 419.9,246.95 420.5,246.78 421.1,246.6 421.7,246.39 422.3,246.18 422.9,245.94 423.5,245.7 424.1,245.44 424.7,245.17 425.3,244.88 425.9,244.59 426.5,244.28 427.1,243.97 427.7,243.64 428.3,243.31 428.9,242.97 429.5,242.62 430.1,242.27 430.7,241.91 431.3,241.55 431.9,241.19 432.5,240.82 433.1,240.45 433.7,240.08 434.3,239.71 434.9,239.34 435.5,238.95 436.1,238.54 436.7,238.11 437.3,237.65 437.9,237.18 438.5,236.7 439.1,236.2 439.7,235.69 440.3,235.16 440.9,234.63 441.5,234.1 442.1,233.56 442.7,233.01 443.3,232.47 443.9,231.93 444.5,231.39 445.1,230.85 445.7,230.33 446.3,229.81 446.9,229.3 447.5,228.81 448.1,228.33 448.7,227.87 449.3,227.43 449.9,227 450.5,226.6 451.1,226.2 451.7,225.81 452.3,225.42 452.9,225.04 453.5,224.66 454.1,224.29 454.7,223.92 455.3,223.56 455.9,223.2 456.5,222.85 457.1,222.5 457.7,222.16 458.3,221.83 458.9,221.5 459.5,221.18 460.1,220.87 460.7,220.56 461.3,220.26 461.9,219.97 462.5,219.69 463.1,219.41 463.7,219.14 464.3,218.88 464.9,218.63 465.5,218.37 466.1,218.13 466.7,217.88 467.3,217.64 467.9,217.4 468.5,217.17 469.1,216.95 469.7,216.72 470.3,216.5 470.9,216.29 471.5,216.08 472.1,215.88 472.7,215.68 473.3,215.48 473.9,215.29 474.5,215.1 475.1,214.92 475.7,214.75 476.3,214.57 476.9,214.41 477.5,214.25 478.1,214.08 478.7,213.91 479.3,213.74 479.9,213.56 480.5,213.39 481.1,213.21 481.7,213.04 482.3,212.87 482.9,212.7 483.5,212.54 484.1,212.39 484.7,212.24 485.3,212.1 485.9,211.97 486.5,211.85 487.1,211.74 487.7,211.64 488.3,211.56 488.9,211.49 489.5,211.45 490.1,211.41 490.7,211.4 491.3,211.4 491.9,211.4 492.5,211.4 493.1,211.4 493.7,211.4 494.3,211.4 494.9,211.4 495.5,211.4 496.1,211.4 496.7,211.4 497.3,211.4 497.9,211.4 498.5,211.4 499.1,211.4 499.7,211.4 500.3,211.4 500.9,211.42 501.5,211.49 502.1,211.64 502.7,211.84 503.3,212.11 503.9,212.43 504.5,212.81 505.1,213.24 505.7,213.72 506.3,214.25 506.9,214.82 507.5,215.43 508.1,216.09 508.7,216.94 509.3,218.28 509.9,220.04 510.5,222.19 511.1,224.65 511.7,227.39 512.3,230.35 512.9,233.47 513.5,238 514.1,244.38 514.7,249.23 515.3,248.23 515.9,239.37 516.5,235.7 517.1,255.98 517.7,262.6 518.3,239.87 518.9,223.36 519.5,210.33 520.1,199.01 520.7,191.02 521.3,188 521.9,188.57 522.5,191.21 523,196" fill="none" stroke="#d95319" stroke-width="4" stroke-opacity="0.45" stroke-linejoin="round" stroke-linecap="butt" />
<polyline points="73.5,113.3 91.25,118.3 123.75,145.8 147.5,153.3 147.5,152.3 148.1,152.57 148.7,152.83 149.3,153.1 149.9,153.36 150.5,153.63 151.1,153.89 151.7,154.16 152.3,154.43 152.9,154.69 153.5,154.96 154.1,155.22 154.7,155.49 155.3,155.76 155.9,156.02 156.5,156.29 157.1,156.56 157.7,156.83 158.3,157.09 158.9,157.36 159.5,157.63 160.1,157.9 160.7,158.17 161.3,158.44 161.9,158.71 162.5,158.98 163.1,159.24 163.7,159.51 164.3,159.78 164.9,160.05 165.5,160.33 166.1,160.6 166.7,160.87 167.3,161.14 167.9,161.41 168.5,161.68 169.1,161.95 169.7,162.22 170.3,162.49 170.9,162.76 171.5,163.03 172.1,163.3 172.7,163.57 173.3,163.85 173.9,164.12 174.5,164.39 175.1,164.66 175.7,164.93 176.3,165.2 176.9,165.48 177.5,165.75 178.1,166.02 178.7,166.29 179.3,166.57 179.9,166.84 180.5,167.11 181.1,167.38 181.7,167.66 182.3,167.93 182.9,168.2 183.5,168.48 184.1,168.75 184.7,169.03 185.3,169.3 185.9,169.57 186.5,169.85 187.1,170.12 187.7,170.4 188.3,170.68 188.9,170.95 189.5,171.23 190.1,171.5 190.7,171.78 191.3,172.06 191.9,172.33 192.5,172.61 193.1,172.89 193.7,173.17 194.3,173.44 194.9,173.72 195.5,174 196.1,174.28 196.7,174.56 197.3,174.84 197.9,175.12 198.5,175.4 199.1,175.68 199.7,175.96 200.3,176.24 200.9,176.52 201.5,176.8 202.1,177.08 202.7,177.37 203.3,177.65 203.9,177.93 204.5,178.21 205.1,178.49 205.7,178.78 206.3,179.06 206.9,179.34 207.5,179.63 208.1,179.91 208.7,180.19 209.3,180.48 209.9,180.76 210.5,181.05 211.1,181.33 211.7,181.62 212.3,181.9 212.9,182.19 213.5,182.47 214.1,182.76 214.7,183.05 215.3,183.33 215.9,183.62 216.5,183.91 217.1,184.2 217.7,184.49 218.3,184.77 218.9,185.06 219.5,185.35 220.1,185.64 220.7,185.93 221.3,186.22 221.9,186.52 222.5,186.81 223.1,187.1 223.7,187.39 224.3,187.69 224.9,187.98 225.5,188.28 226.1,188.57 226.7,188.87 227.3,189.16 227.9,189.46 228.5,189.75 229.1,190.05 229.7,190.35 230.3,190.65 230.9,190.95 231.5,191.25 232.1,191.56 232.7,191.86 233.3,192.17 233.9,192.48 234.5,192.79 235.1,193.1 235.7,193.41 236.3,193.72 236.9,194.03 237.5,194.34 238.1,194.65 238.7,194.97 239.3,195.28 239.9,195.59 240.5,195.9 241.1,196.21 241.7,196.52 242.3,196.83 242.9,197.13 243.5,197.44 244.1,197.75 244.7,198.05 245.3,198.35 245.9,198.65 246.5,198.95 247.1,199.25 247.7,199.54 248.3,199.84 248.9,200.13 249.5,200.43 250.1,200.72 250.7,201.01 251.3,201.31 251.9,201.6 252.5,201.89 253.1,202.18 253.7,202.47 254.3,202.76 254.9,203.05 255.5,203.35 256.1,203.64 256.7,203.93 257.3,204.22 257.9,204.52 258.5,204.81 259.1,205.11 259.7,205.4 260.3,205.7 260.9,206 261.5,206.3 262.1,206.6 262.7,206.9 263.3,207.2 263.9,207.51 264.5,207.81 265.1,208.12 265.7,208.42 266.3,208.73 266.9,209.04 267.5,209.35 268.1,209.66 268.7,209.97 269.3,210.28 269.9,210.59 270.5,210.9 271.1,211.21 271.7,211.53 272.3,211.84 272.9,212.15 273.5,212.47 274.1,212.78 274.7,213.1 275.3,213.41 275.9,213.73 276.5,214.05 277.1,214.36 277.7,214.68 278.3,215 278.9,215.32 279.5,215.63 280.1,215.95 280.7,216.27 281.3,216.6 281.9,216.92 282.5,217.24 283.1,217.57 283.7,217.9 284.3,218.23 284.9,218.55 285.5,218.88 286.1,219.21 286.7,219.54 287.3,219.86 287.9,220.18 288.5,220.51 289.1,220.83 289.7,221.14 290.3,221.47 290.9,221.84 291.5,222.25 292.1,222.65 292.7,223.01 293.3,223.29 293.9,223.46 294.5,223.5 295.1,223.5 295.7,223.49 296.3,223.48 296.9,223.46 297.5,223.44 298.1,223.42 298.7,223.39 299.3,223.29 299.9,223.08 300.5,222.82 301.1,222.52 301.7,222.23 302.3,221.97 302.9,221.79 303.5,221.7 304.1,221.74 304.7,221.9 305.3,222.16 305.9,222.49 306.5,222.88 307.1,223.32 307.7,223.77 308.3,224.23 308.9,224.68 309.5,225.09 310.1,225.46 310.7,225.8 311.3,226.15 311.9,226.51 312.5,226.87 313.1,227.23 313.7,227.6 314.3,227.97 314.9,228.34 315.5,228.71 316.1,229.09 316.7,229.46 317.3,229.83 317.9,230.2 318.5,230.57 319.1,230.94 319.7,231.31 320.3,231.67 320.9,232.02 321.5,232.38 322.1,232.72 322.7,233.06 323.3,233.4 323.9,233.72 324.5,234.04 325.1,234.35 325.7,234.66 326.3,234.95 326.9,235.23 327.5,235.5 328.1,235.76 328.7,236.01 329.3,236.24 329.9,236.46 330.5,236.68 331.1,236.88 331.7,237.08 332.3,237.28 332.9,237.47 333.5,237.66 334.1,237.85 334.7,238.03 335.3,238.21 335.9,238.38 336.5,238.55 337.1,238.72 337.7,238.89 338.3,239.05 338.9,239.21 339.5,239.36 340.1,239.52 340.7,239.67 341.3,239.82 341.9,239.96 342.5,240.11 343.1,240.25 343.7,240.39 344.3,240.53 344.9,240.67 345.5,240.8 346.1,240.94 346.7,241.07 347.3,241.21 347.9,241.34 348.5,241.47 349.1,241.6 349.7,241.73 350.3,241.86 350.9,241.99 351.5,242.11 352.1,242.24 352.7,242.37 353.3,242.5 353.9,242.63 354.5,242.76 355.1,242.89 355.7,243.02 356.3,243.16 356.9,243.29 357.5,243.42 358.1,243.56 358.7,243.7 359.3,243.84 359.9,243.98 360.5,244.12 361.1,244.26 361.7,244.4 362.3,244.54 362.9,244.69 363.5,244.83 364.1,244.97 364.7,245.11 365.3,245.25 365.9,245.39 366.5,245.54 367.1,245.68 367.7,245.82 368.3,245.96 368.9,246.09 369.5,246.23 370.1,246.37 370.7,246.51 371.3,246.64 371.9,246.78 372.5,246.91 373.1,247.05 373.7,247.18 374.3,247.31 374.9,247.44 375.5,247.57 376.1,247.7 376.7,247.83 377.3,247.95 377.9,248.08 378.5,248.2 379.1,248.32 379.7,248.44 380.3,248.56 380.9,248.68 381.5,248.81 382.1,248.93 382.7,249.06 383.3,249.19 383.9,249.32 384.5,249.46 385.1,249.59 385.7,249.72 386.3,249.86 386.9,249.99 387.5,250.12 388.1,250.25 388.7,250.38 389.3,250.51 389.9,250.63 390.5,250.75 391.1,250.87 391.7,250.99 392.3,251.1 392.9,251.2 393.5,251.31 394.1,251.4 394.7,251.49 395.3,251.58 395.9,251.66 396.5,251.73 397.1,251.8 397.7,251.85 398.3,251.9 398.9,251.95 399.5,251.98 400.1,252 400.7,252.02 401.3,252.05 401.9,252.07 402.5,252.09 403.1,252.11 403.7,252.12 404.3,252.14 404.9,252.16 405.5,252.18 406.1,252.19 406.7,252.21 407.3,252.23 407.9,252.24 408.5,252.26 409.1,252.27 409.7,252.28 410.3,252.3 410.9,252.31 411.5,252.32 412.1,252.33 412.7,252.34 413.3,252.35 413.9,252.36 414.5,252.37 415.1,252.37 415.7,252.38 416.3,252.38 416.9,252.39 417.5,252.39 418.1,252.4 418.7,252.4 419.3,252.4 419.9,252.4 420.5,252.38 421.1,252.32 421.7,252.22 422.3,252.07 422.9,251.89 423.5,251.67 424.1,251.41 424.7,251.13 425.3,250.82 425.9,250.48 426.5,250.12 427.1,249.74 427.7,249.34 428.3,248.93 428.9,248.5 429.5,248.06 430.1,247.61 430.7,247.16 431.3,246.71 431.9,246.26 432.5,245.8 433.1,245.36 433.7,244.92 434.3,244.49 434.9,244.07 435.5,243.65 436.1,243.21 436.7,242.76 437.3,242.28 437.9,241.79 438.5,241.28 439.1,240.76 439.7,240.23 440.3,239.68 440.9,239.13 441.5,238.58 442.1,238.01 442.7,237.45 443.3,236.88 443.9,236.32 444.5,235.76 445.1,235.2 445.7,234.64 446.3,234.1 446.9,233.56 447.5,233.04 448.1,232.52 448.7,232.02 449.3,231.54 449.9,231.08 450.5,230.62 451.1,230.17 451.7,229.72 452.3,229.28 452.9,228.83 453.5,228.39 454.1,227.95 454.7,227.52 455.3,227.09 455.9,226.66 456.5,226.24 457.1,225.83 457.7,225.42 458.3,225.01 458.9,224.61 459.5,224.22 460.1,223.84 460.7,223.46 461.3,223.09 461.9,222.73 462.5,222.37 463.1,222.03 463.7,221.69 464.3,221.37 464.9,221.05 465.5,220.74 466.1,220.44 466.7,220.14 467.3,219.85 467.9,219.57 468.5,219.28 469.1,219.01 469.7,218.73 470.3,218.47 470.9,218.2 471.5,217.95 472.1,217.7 472.7,217.45 473.3,217.21 473.9,216.97 474.5,216.74 475.1,216.52 475.7,216.3 476.3,216.08 476.9,215.87 477.5,215.67 478.1,215.47 478.7,215.27 479.3,215.06 479.9,214.85 480.5,214.64 481.1,214.43 481.7,214.22 482.3,214.01 482.9,213.8 483.5,213.6 484.1,213.4 484.7,213.21 485.3,213.03 485.9,212.86 486.5,212.7 487.1,212.56 487.7,212.43 488.3,212.31 488.9,212.21 489.5,212.12 490.1,212.06 490.7,212.01 491.3,211.99 491.9,211.97 492.5,211.95 493.1,211.93 493.7,211.91 494.3,211.89 494.9,211.88 495.5,211.86 496.1,211.85 496.7,211.84 497.3,211.83 497.9,211.82 498.5,211.81 499.1,211.81 499.7,211.8 500.3,211.8 500.9,211.81 501.5,211.89 502.1,212.03 502.7,212.23 503.3,212.5 503.9,212.81 504.5,213.18 505.1,213.6 505.7,214.07 506.3,214.59 506.9,215.15 507.5,215.75 508.1,216.39 508.7,217.23 509.3,218.53 509.9,220.26 510.5,222.36 511.1,224.79 511.7,227.48 512.3,230.39 512.9,233.47 513.5,237.01 514.1,241.53 514.7,246.97 515.3,253.33 515.9,261.44 516.5,272.27 517.1,292.74 517.7,297.84 518.3,276.16 518.9,255.29 519.5,233.41 520.1,212.08 520.7,195.91 521.3,189.5 521.9,189.85 522.5,192.31 523,197.5" fill="none" stroke="#d95319" stroke-width="4" stroke-opacity="0.4" stroke-linejoin="round" stroke-linecap="butt" />
<polyline points="73.5,114.05 91.25,119.05 123.75,146.55 147.5,154.05 147.5,153.8 148.1,154.07 148.7,154.33 149.3,154.6 149.9,154.86 150.5,155.13 151.1,155.39 151.7,155.66 152.3,155.93 152.9,156.19 153.5,156.46 154.1,156.72 154.7,156.99 155.3,157.26 155.9,157.52 156.5,157.79 157.1,158.06 157.7,158.33 158.3,158.59 158.9,158.86 159.5,159.13 160.1,159.4 160.7,159.67 161.3,159.94 161.9,160.21 162.5,160.48 163.1,160.74 163.7,161.01 164.3,161.28 164.9,161.55 165.5,161.83 166.1,162.1 166.7,162.37 167.3,162.64 167.9,162.91 168.5,163.18 169.1,163.45 169.7,163.72 170.3,163.99 170.9,164.26 171.5,164.53 172.1,164.8 172.7,165.07 173.3,165.35 173.9,165.62 174.5,165.89 175.1,166.16 175.7,166.43 176.3,166.7 176.9,166.98 177.5,167.25 178.1,167.52 178.7,167.79 179.3,168.07 179.9,168.34 180.5,168.61 181.1,168.88 181.7,169.16 182.3,169.43 182.9,169.7 183.5,169.98 184.1,170.25 184.7,170.53 185.3,170.8 185.9,171.07 186.5,171.35 187.1,171.62 187.7,171.9 188.3,172.18 188.9,172.45 189.5,172.73 190.1,173 190.7,173.28 191.3,173.56 191.9,173.83 192.5,174.11 193.1,174.39 193.7,174.67 194.3,174.94 194.9,175.22 195.5,175.5 196.1,175.78 196.7,176.06 197.3,176.34 197.9,176.62 198.5,176.9 199.1,177.18 199.7,177.46 200.3,177.74 200.9,178.02 201.5,178.3 202.1,178.58 202.7,178.87 203.3,179.15 203.9,179.43 204.5,179.71 205.1,179.99 205.7,180.28 206.3,180.56 206.9,180.84 207.5,181.13 208.1,181.41 208.7,181.69 209.3,181.98 209.9,182.26 210.5,182.55 211.1,182.83 211.7,183.12 212.3,183.4 212.9,183.69 213.5,183.97 214.1,184.26 214.7,184.55 215.3,184.83 215.9,185.12 216.5,185.41 217.1,185.7 217.7,185.99 218.3,186.27 218.9,186.56 219.5,186.85 220.1,187.14 220.7,187.43 221.3,187.72 221.9,188.02 222.5,188.31 223.1,188.6 223.7,188.89 224.3,189.19 224.9,189.48 225.5,189.78 226.1,190.07 226.7,190.37 227.3,190.66 227.9,190.96 228.5,191.25 229.1,191.55 229.7,191.85 230.3,192.15 230.9,192.45 231.5,192.75 232.1,193.06 232.7,193.36 233.3,193.67 233.9,193.98 234.5,194.29 235.1,194.6 235.7,194.91 236.3,195.22 236.9,195.53 237.5,195.84 238.1,196.15 238.7,196.47 239.3,196.78 239.9,197.09 240.5,197.4 241.1,197.71 241.7,198.02 242.3,198.33 242.9,198.63 243.5,198.94 244.1,199.25 244.7,199.55 245.3,199.85 245.9,200.15 246.5,200.45 247.1,200.75 247.7,201.04 248.3,201.34 248.9,201.63 249.5,201.93 250.1,202.22 250.7,202.51 251.3,202.81 251.9,203.1 252.5,203.39 253.1,203.68 253.7,203.97 254.3,204.26 254.9,204.55 255.5,204.85 256.1,205.14 256.7,205.43 257.3,205.72 257.9,206.02 258.5,206.31 259.1,206.61 259.7,206.9 260.3,207.2 260.9,207.5 261.5,207.8 262.1,208.1 262.7,208.4 263.3,208.7 263.9,209.01 264.5,209.31 265.1,209.62 265.7,209.92 266.3,210.23 266.9,210.54 267.5,210.85 268.1,211.16 268.7,211.47 269.3,211.78 269.9,212.09 270.5,212.4 271.1,212.71 271.7,213.03 272.3,213.34 272.9,213.65 273.5,213.97 274.1,214.28 274.7,214.6 275.3,214.91 275.9,215.23 276.5,215.55 277.1,215.86 277.7,216.18 278.3,216.5 278.9,216.82 279.5,217.13 280.1,217.45 280.7,217.77 281.3,218.1 281.9,218.42 282.5,218.74 283.1,219.07 283.7,219.4 284.3,219.73 284.9,220.05 285.5,220.38 286.1,220.71 286.7,221.04 287.3,221.36 287.9,221.68 288.5,222.01 289.1,222.33 289.7,222.64 290.3,222.97 290.9,223.34 291.5,223.75 292.1,224.15 292.7,224.51 293.3,224.79 293.9,224.96 294.5,225 295.1,225 295.7,224.99 296.3,224.98 296.9,224.96 297.5,224.94 298.1,224.92 298.7,224.89 299.3,224.79 299.9,224.58 300.5,224.32 301.1,224.02 301.7,223.73 302.3,223.47 302.9,223.29 303.5,223.2 304.1,223.23 304.7,223.35 305.3,223.54 305.9,223.8 306.5,224.1 307.1,224.44 307.7,224.81 308.3,225.18 308.9,225.56 309.5,225.92 310.1,226.25 310.7,226.59 311.3,226.94 311.9,227.3 312.5,227.67 313.1,228.06 313.7,228.46 314.3,228.86 314.9,229.28 315.5,229.7 316.1,230.13 316.7,230.57 317.3,231.01 317.9,231.46 318.5,231.91 319.1,232.36 319.7,232.81 320.3,233.27 320.9,233.72 321.5,234.18 322.1,234.63 322.7,235.08 323.3,235.53 323.9,235.97 324.5,236.41 325.1,236.84 325.7,237.26 326.3,237.67 326.9,238.08 327.5,238.48 328.1,238.86 328.7,239.23 329.3,239.6 329.9,239.94 330.5,240.28 331.1,240.61 331.7,240.92 332.3,241.23 332.9,241.54 333.5,241.83 334.1,242.12 334.7,242.41 335.3,242.68 335.9,242.96 336.5,243.22 337.1,243.49 337.7,243.74 338.3,244 338.9,244.25 339.5,244.5 340.1,244.74 340.7,244.98 341.3,245.22 341.9,245.46 342.5,245.7 343.1,245.94 343.7,246.18 344.3,246.41 344.9,246.65 345.5,246.89 346.1,247.13 346.7,247.37 347.3,247.61 347.9,247.86 348.5,248.11 349.1,248.36 349.7,248.62 350.3,248.88 350.9,249.15 351.5,249.42 352.1,249.69 352.7,249.97 353.3,250.26 353.9,250.55 354.5,250.85 355.1,251.16 355.7,251.48 356.3,251.8 356.9,252.13 357.5,252.47 358.1,252.82 358.7,253.18 359.3,253.55 359.9,253.94 360.5,254.34 361.1,254.79 361.7,255.27 362.3,255.79 362.9,256.33 363.5,256.89 364.1,257.46 364.7,258.04 365.3,258.61 365.9,259.18 366.5,259.73 367.1,260.26 367.7,260.76 368.3,261.24 368.9,261.72 369.5,262.21 370.1,262.7 370.7,263.2 371.3,263.69 371.9,264.18 372.5,264.66 373.1,265.12 373.7,265.57 374.3,266 374.9,266.41 375.5,266.79 376.1,267.14 376.7,267.45 377.3,267.73 377.9,267.96 378.5,268.18 379.1,268.38 379.7,268.58 380.3,268.76 380.9,268.89 381.5,268.98 382.1,269 382.7,268.88 383.3,268.61 383.9,268.22 384.5,267.71 385.1,267.13 385.7,266.5 386.3,265.83 386.9,265.16 387.5,264.51 388.1,263.9 388.7,263.29 389.3,262.66 389.9,262 390.5,261.31 391.1,260.6 391.7,259.87 392.3,259.13 392.9,258.36 393.5,257.59 394.1,256.81 394.7,256.01 395.3,255.21 395.9,254.41 396.5,253.61 397.1,252.8 397.7,252 398.3,251.21 398.9,250.42 399.5,249.64 400.1,248.87 400.7,248.11 401.3,247.35 401.9,246.58 402.5,245.81 403.1,245.04 403.7,244.27 404.3,243.5 404.9,242.73 405.5,241.96 406.1,241.18 406.7,240.4 407.3,239.62 407.9,238.85 408.5,238.06 409.1,237.28 409.7,236.5 410.3,235.71 410.9,234.92 411.5,234.11 412.1,233.3 412.7,232.49 413.3,231.67 413.9,230.85 414.5,230.03 415.1,229.2 415.7,228.37 416.3,227.55 416.9,226.73 417.5,225.9 418.1,225.08 418.7,224.27 419.3,223.46 419.9,222.66 420.5,221.86 421.1,221.07 421.7,220.29 422.3,219.52 422.9,218.76 423.5,218.01 424.1,217.28 424.7,216.56 425.3,215.85 425.9,215.14 426.5,214.45 427.1,213.76 427.7,213.07 428.3,212.4 428.9,211.72 429.5,211.06 430.1,210.4 430.7,209.74 431.3,209.09 431.9,208.45 432.5,207.82 433.1,207.19 433.7,206.56 434.3,205.94 434.9,205.33 435.5,204.73 436.1,204.13 436.7,203.54 437.3,202.95 437.9,202.37 438.5,201.8 439.1,201.22 439.7,200.65 440.3,200.07 440.9,199.49 441.5,198.91 442.1,198.33 442.7,197.74 443.3,197.16 443.9,196.58 444.5,196.01 445.1,195.43 445.7,194.86 446.3,194.29 446.9,193.73 447.5,193.18 448.1,192.63 448.7,192.09 449.3,191.56 449.9,191.04 450.5,190.53 451.1,190.03 451.7,189.54 452.3,189.06 452.9,188.6 453.5,188.15 454.1,187.72 454.7,187.3 455.3,186.89 455.9,186.51 456.5,186.14 457.1,185.79 457.7,185.46 458.3,185.14 458.9,184.83 459.5,184.53 460.1,184.22 460.7,183.91 461.3,183.61 461.9,183.3 462.5,183.01 463.1,182.71 463.7,182.42 464.3,182.14 464.9,181.86 465.5,181.58 466.1,181.31 466.7,181.05 467.3,180.8 467.9,180.55 468.5,180.31 469.1,180.08 469.7,179.86 470.3,179.65 470.9,179.46 471.5,179.27 472.1,179.09 472.7,178.92 473.3,178.77 473.9,178.63 474.5,178.5 475.1,178.39 475.7,178.29 476.3,178.21 476.9,178.14 477.5,178.08 478.1,178.03 478.7,177.99 479.3,177.94 479.9,177.9 480.5,177.85 481.1,177.81 481.7,177.77 482.3,177.74 482.9,177.71 483.5,177.68 484.1,177.66 484.7,177.64 485.3,177.62 485.9,177.61 486.5,177.6 487.1,177.6 487.7,177.63 488.3,177.71 488.9,177.82 489.5,177.98 490.1,178.16 490.7,178.38 491.3,178.62 491.9,178.89 492.5,179.18 493.1,179.48 493.7,179.8 494.3,180.12 494.9,180.46 495.5,180.79 496.1,181.12 496.7,181.45 497.3,181.79 497.9,182.14 498.5,182.51 499.1,182.89 499.7,183.3 500.3,183.73 500.9,184.19 501.5,184.67 502.1,185.2 502.7,185.75 503.3,186.35 503.9,186.98 504.5,187.67 505.1,188.39 505.7,189.17 506.3,190 506.9,190.97 507.5,192.16 508.1,193.55 508.7,195.15 509.3,196.94 509.9,198.92 510.5,201.07 511.1,203.4 511.7,206.13 512.3,209.41 512.9,213.28 513.5,217.76 514.1,222.95 514.7,230.46 515.3,239.68 515.9,248.66 516.5,257.04 517.1,277.48 517.7,282.74 518.3,260.61 518.9,241.67 519.5,224.06 520.1,207.72 520.7,195.69 521.3,191 521.9,191.35 522.5,193.81 523,199" fill="none" stroke="#d95319" stroke-width="4" stroke-opacity="0.3" stroke-linejoin="round" stroke-linecap="butt" />
<polyline points="73.5,102.9 91.25,107.9 123.75,141.15 147.5,152.4 147.5,153 148.1,153.27 148.7,153.53 149.3,153.8 149.9,154.06 150.5,154.33 151.1,154.59 151.7,154.86 152.3,155.13 152.9,155.39 153.5,155.66 154.1,155.92 154.7,156.19 155.3,156.46 155.9,156.72 156.5,156.99 157.1,157.26 157.7,157.53 158.3,157.79 158.9,158.06 159.5,158.33 160.1,158.6 160.7,158.87 161.3,159.14 161.9,159.41 162.5,159.68 163.1,159.94 163.7,160.21 164.3,160.48 164.9,160.75 165.5,161.03 166.1,161.3 166.7,161.57 167.3,161.84 167.9,162.11 168.5,162.38 169.1,162.65 169.7,162.92 170.3,163.19 170.9,163.46 171.5,163.73 172.1,164 172.7,164.27 173.3,164.55 173.9,164.82 174.5,165.09 175.1,165.36 175.7,165.63 176.3,165.9 176.9,166.18 177.5,166.45 178.1,166.72 178.7,166.99 179.3,167.27 179.9,167.54 180.5,167.81 181.1,168.08 181.7,168.36 182.3,168.63 182.9,168.9 183.5,169.18 184.1,169.45 184.7,169.73 185.3,170 185.9,170.27 186.5,170.55 187.1,170.82 187.7,171.1 188.3,171.38 188.9,171.65 189.5,171.93 190.1,172.2 190.7,172.48 191.3,172.76 191.9,173.03 192.5,173.31 193.1,173.59 193.7,173.87 194.3,174.14 194.9,174.42 195.5,174.7 196.1,174.98 196.7,175.26 197.3,175.54 197.9,175.82 198.5,176.1 199.1,176.38 199.7,176.66 200.3,176.94 200.9,177.22 201.5,177.5 202.1,177.78 202.7,178.07 203.3,178.35 203.9,178.63 204.5,178.91 205.1,179.19 205.7,179.48 206.3,179.76 206.9,180.04 207.5,180.33 208.1,180.61 208.7,180.89 209.3,181.18 209.9,181.46 210.5,181.75 211.1,182.03 211.7,182.32 212.3,182.6 212.9,182.89 213.5,183.17 214.1,183.46 214.7,183.75 215.3,184.03 215.9,184.32 216.5,184.61 217.1,184.9 217.7,185.19 218.3,185.47 218.9,185.76 219.5,186.05 220.1,186.34 220.7,186.63 221.3,186.92 221.9,187.22 222.5,187.51 223.1,187.8 223.7,188.09 224.3,188.39 224.9,188.68 225.5,188.98 226.1,189.27 226.7,189.57 227.3,189.86 227.9,190.16 228.5,190.45 229.1,190.75 229.7,191.05 230.3,191.35 230.9,191.65 231.5,191.95 232.1,192.26 232.7,192.56 233.3,192.87 233.9,193.18 234.5,193.49 235.1,193.8 235.7,194.11 236.3,194.42 236.9,194.73 237.5,195.04 238.1,195.35 238.7,195.67 239.3,195.98 239.9,196.29 240.5,196.6 241.1,196.91 241.7,197.22 242.3,197.53 242.9,197.83 243.5,198.14 244.1,198.45 244.7,198.75 245.3,199.05 245.9,199.35 246.5,199.65 247.1,199.95 247.7,200.24 248.3,200.54 248.9,200.83 249.5,201.13 250.1,201.42 250.7,201.71 251.3,202.01 251.9,202.3 252.5,202.59 253.1,202.88 253.7,203.17 254.3,203.46 254.9,203.75 255.5,204.05 256.1,204.34 256.7,204.63 257.3,204.92 257.9,205.22 258.5,205.51 259.1,205.81 259.7,206.1 260.3,206.4 260.9,206.7 261.5,207 262.1,207.3 262.7,207.6 263.3,207.9 263.9,208.21 264.5,208.51 265.1,208.82 265.7,209.12 266.3,209.43 266.9,209.74 267.5,210.05 268.1,210.36 268.7,210.67 269.3,210.98 269.9,211.29 270.5,211.6 271.1,211.91 271.7,212.23 272.3,212.54 272.9,212.85 273.5,213.17 274.1,213.48 274.7,213.8 275.3,214.11 275.9,214.43 276.5,214.75 277.1,215.06 277.7,215.38 278.3,215.7 278.9,216.02 279.5,216.33 280.1,216.65 280.7,216.97 281.3,217.3 281.9,217.62 282.5,217.94 283.1,218.27 283.7,218.6 284.3,218.93 284.9,219.25 285.5,219.58 286.1,219.91 286.7,220.24 287.3,220.56 287.9,220.88 288.5,221.21 289.1,221.53 289.7,221.84 290.3,222.17 290.9,222.54 291.5,222.95 292.1,223.35 292.7,223.71 293.3,223.99 293.9,224.16 294.5,224.2 295.1,224.2 295.7,224.19 296.3,224.18 296.9,224.16 297.5,224.14 298.1,224.12 298.7,224.09 299.3,223.99 299.9,223.78 300.5,223.52 301.1,223.22 301.7,222.93 302.3,222.67 302.9,222.49 303.5,222.4 304.1,222.44 304.7,222.6 305.3,222.85 305.9,223.19 306.5,223.58 307.1,224.02 307.7,224.49 308.3,224.96 308.9,225.43 309.5,225.87 310.1,226.26 310.7,226.65 311.3,227.04 311.9,227.44 312.5,227.84 313.1,228.26 313.7,228.68 314.3,229.1 314.9,229.53 315.5,229.96 316.1,230.4 316.7,230.83 317.3,231.27 317.9,231.72 318.5,232.16 319.1,232.6 319.7,233.04 320.3,233.49 320.9,233.93 321.5,234.36 322.1,234.8 322.7,235.23 323.3,235.66 323.9,236.08 324.5,236.5 325.1,236.92 325.7,237.32 326.3,237.72 326.9,238.12 327.5,238.5 328.1,238.88 328.7,239.24 329.3,239.6 329.9,239.94 330.5,240.28 331.1,240.61 331.7,240.92 332.3,241.23 332.9,241.54 333.5,241.83 334.1,242.12 334.7,242.41 335.3,242.68 335.9,242.96 336.5,243.22 337.1,243.49 337.7,243.74 338.3,244 338.9,244.25 339.5,244.5 340.1,244.74 340.7,244.98 341.3,245.22 341.9,245.46 342.5,245.7 343.1,245.94 343.7,246.18 344.3,246.41 344.9,246.65 345.5,246.89 346.1,247.13 346.7,247.37 347.3,247.61 347.9,247.86 348.5,248.11 349.1,248.36 349.7,248.62 350.3,248.88 350.9,249.15 351.5,249.42 352.1,249.69 352.7,249.97 353.3,250.26 353.9,250.55 354.5,250.85 355.1,251.16 355.7,251.48 356.3,251.8 356.9,252.13 357.5,252.47 358.1,252.82 358.7,253.18 359.3,253.55 359.9,253.94 360.5,254.34 361.1,254.79 361.7,255.27 362.3,255.79 362.9,256.33 363.5,256.89 364.1,257.46 364.7,258.04 365.3,258.61 365.9,259.18 366.5,259.73 367.1,260.26 367.7,260.76 368.3,261.24 368.9,261.72 369.5,262.21 370.1,262.7 370.7,263.2 371.3,263.69 371.9,264.18 372.5,264.66 373.1,265.12 373.7,265.57 374.3,266 374.9,266.41 375.5,266.79 376.1,267.14 376.7,267.45 377.3,267.73 377.9,267.96 378.5,268.18 379.1,268.38 379.7,268.58 380.3,268.76 380.9,268.89 381.5,268.98 382.1,269 382.7,268.88 383.3,268.61 383.9,268.22 384.5,267.71 385.1,267.13 385.7,266.5 386.3,265.83 386.9,265.16 387.5,264.51 388.1,263.9 388.7,263.29 389.3,262.66 389.9,262 390.5,261.31 391.1,260.6 391.7,259.87 392.3,259.13 392.9,258.36 393.5,257.59 394.1,256.81 394.7,256.01 395.3,255.21 395.9,254.41 396.5,253.61 397.1,252.8 397.7,252 398.3,251.21 398.9,250.42 399.5,249.64 400.1,248.87 400.7,248.11 401.3,247.35 401.9,246.58 402.5,245.81 403.1,245.04 403.7,244.27 404.3,243.5 404.9,242.73 405.5,241.96 406.1,241.18 406.7,240.4 407.3,239.62 407.9,238.85 408.5,238.06 409.1,237.28 409.7,236.5 410.3,235.71 410.9,234.92 411.5,234.11 412.1,233.3 412.7,232.49 413.3,231.67 413.9,230.85 414.5,230.03 415.1,229.2 415.7,228.37 416.3,227.55 416.9,226.73 417.5,225.9 418.1,225.08 418.7,224.27 419.3,223.46 419.9,222.66 420.5,221.86 421.1,221.07 421.7,220.29 422.3,219.52 422.9,218.76 423.5,218.01 424.1,217.28 424.7,216.56 425.3,215.85 425.9,215.14 426.5,214.45 427.1,213.76 427.7,213.07 428.3,212.4 428.9,211.72 429.5,211.06 430.1,210.4 430.7,209.74 431.3,209.09 431.9,208.45 432.5,207.82 433.1,207.19 433.7,206.56 434.3,205.94 434.9,205.33 435.5,204.73 436.1,204.13 436.7,203.54 437.3,202.95 437.9,202.37 438.5,201.8 439.1,201.22 439.7,200.65 440.3,200.07 440.9,199.49 441.5,198.91 442.1,198.33 442.7,197.74 443.3,197.16 443.9,196.58 444.5,196.01 445.1,195.43 445.7,194.86 446.3,194.29 446.9,193.73 447.5,193.18 448.1,192.63 448.7,192.09 449.3,191.56 449.9,191.04 450.5,190.53 451.1,190.03 451.7,189.54 452.3,189.06 452.9,188.6 453.5,188.15 454.1,187.72 454.7,187.3 455.3,186.89 455.9,186.51 456.5,186.14 457.1,185.79 457.7,185.46 458.3,185.14 458.9,184.83 459.5,184.53 460.1,184.22 460.7,183.91 461.3,183.61 461.9,183.3 462.5,183.01 463.1,182.71 463.7,182.42 464.3,182.14 464.9,181.86 465.5,181.58 466.1,181.31 466.7,181.05 467.3,180.8 467.9,180.55 468.5,180.31 469.1,180.08 469.7,179.86 470.3,179.65 470.9,179.46 471.5,179.27 472.1,179.09 472.7,178.92 473.3,178.77 473.9,178.63 474.5,178.5 475.1,178.39 475.7,178.29 476.3,178.21 476.9,178.14 477.5,178.08 478.1,178.03 478.7,177.99 479.3,177.94 479.9,177.9 480.5,177.85 481.1,177.81 481.7,177.77 482.3,177.74 482.9,177.71 483.5,177.68 484.1,177.66 484.7,177.64 485.3,177.62 485.9,177.61 486.5,177.6 487.1,177.6 487.7,177.63 488.3,177.71 488.9,177.82 489.5,177.98 490.1,178.16 490.7,178.38 491.3,178.62 491.9,178.89 492.5,179.18 493.1,179.48 493.7,179.8 494.3,180.12 494.9,180.46 495.5,180.79 496.1,181.12 496.7,181.45 497.3,181.79 497.9,182.14 498.5,182.51 499.1,182.89 499.7,183.3 500.3,183.73 500.9,184.19 501.5,184.67 502.1,185.2 502.7,185.75 503.3,186.35 503.9,186.98 504.5,187.67 505.1,188.39 505.7,189.17 506.3,190 506.9,190.97 507.5,192.16 508.1,193.55 508.7,195.15 509.3,196.94 509.9,198.92 510.5,201.07 511.1,203.4 511.7,206.13 512.3,209.41 512.9,213.28 513.5,217.76 514.1,223.01 514.7,232.53 515.3,243.54 515.9,249.84 516.5,242.7 517.1,262.98 517.7,269.63 518.3,247 518.9,230.09 519.5,216.37 520.1,204.32 520.7,195.76 521.3,192.5 521.9,193.02 522.5,195.62 523,200.5" fill="none" stroke="#d95319" stroke-width="4" stroke-opacity="0.3" stroke-linejoin="round" stroke-linecap="butt" />
<polyline points="521.3,184 521.9,187.78 522.5,191.91 523.1,196.35 523.7,201.06 524.3,206 524.9,211.13 525.5,216.76 526.1,223.05 526.7,229.21 527.3,234.62 527.9,239.75 528.5,244.72 529.1,249.53 529.7,254.19 530.3,258.68 530.9,263.01 531.5,267.18 532.1,271.18 532.7,275 533.3,278.67 533.9,282.21 534.5,285.62 535.1,288.93 535.7,292.15 536.3,295.28 536.9,298.33 537.5,301.33 538.1,304.27 538.7,307.18 539.3,310.07 539.9,312.94 540.5,315.81 541.1,318.68 541.7,321.59 542.3,324.52 542.9,327.5 543.5,330.51 544.1,333.52 544.7,336.51 545.3,339.51 545.9,342.49 546.5,345.46 547.1,348.43 547.7,351.39 548.3,354.35 548.9,357.29 549.5,360.23 550.1,363.16 550.7,366.08 551.3,368.99 551.9,371.9 552.5,374.79 553.1,377.68 553.7,380.56 554,382" fill="none" stroke="#d95319" stroke-width="4" stroke-opacity="0.28" stroke-linejoin="round" stroke-linecap="butt" />
<polyline points="521.3,184 521.9,187.29 522.5,190.63 523.1,194.01 523.7,197.45 524.3,200.92 524.9,204.44 525.5,208 526.1,211.6 526.7,215.32 527.3,219.13 527.9,222.99 528.5,226.82 529.1,230.58 529.7,234.19 530.3,237.75 530.9,241.29 531.5,244.81 532.1,248.29 532.7,251.73 533.3,255.14 533.9,258.5 534.5,261.81 535.1,265.07 535.7,268.28 536.3,271.42 536.9,274.49 537.5,277.5 538.1,280.42 538.7,283.28 539.3,286.07 539.9,288.81 540.5,291.51 541.1,294.17 541.7,296.8 542.3,299.42 542.9,302.02 543.5,304.63 544.1,307.24 544.7,309.87 545.3,312.52 545.9,315.21 546.5,317.94 547.1,320.72 547.7,323.56 548.3,326.46 548.9,329.38 549.5,332.34 550.1,335.31 550.7,338.31 551.3,341.33 551.9,344.37 552.5,347.44 553.1,350.53 553.7,353.63 554.3,356.77 554.9,359.92 555.5,363.09 556.1,366.28 556.7,369.5 557.3,372.73 557.9,375.98 558.5,379.26 559,382" fill="none" stroke="#d95319" stroke-width="4" stroke-opacity="0.28" stroke-linejoin="round" stroke-linecap="butt" />
<polyline points="521.3,184 521.9,186.57 522.5,189.19 523.1,191.85 523.7,194.54 524.3,197.28 524.9,200.04 525.5,202.85 526.1,205.69 526.7,208.55 527.3,211.47 527.9,214.49 528.5,217.59 529.1,220.74 529.7,223.89 530.3,227.01 530.9,230.06 531.5,233 532.1,235.85 532.7,238.67 533.3,241.46 533.9,244.21 534.5,246.94 535.1,249.64 535.7,252.31 536.3,254.95 536.9,257.58 537.5,260.18 538.1,262.76 538.7,265.32 539.3,267.87 539.9,270.4 540.5,272.91 541.1,275.42 541.7,277.88 542.3,280.29 542.9,282.65 543.5,284.98 544.1,287.28 544.7,289.55 545.3,291.81 545.9,294.05 546.5,296.29 547.1,298.53 547.7,300.78 548.3,303.04 548.9,305.32 549.5,307.63 550.1,309.98 550.7,312.36 551.3,314.8 551.9,317.28 552.5,319.83 553.1,322.44 553.7,325.1 554.3,327.8 554.9,330.55 555.5,333.32 556.1,336.14 556.7,339 557.3,341.89 557.9,344.82 558.5,347.78 559.1,350.78 559.7,353.81 560.3,356.88 560.9,359.98 561.5,363.11 562.1,366.27 562.7,369.47 563.3,372.7 563.9,375.95 564.5,379.24 565,382" fill="none" stroke="#d95319" stroke-width="4" stroke-opacity="0.3" stroke-linejoin="round" stroke-linecap="butt" />
<polyline points="521.3,184 521.9,186.05 522.5,188.14 523.1,190.28 523.7,192.45 524.3,194.65 524.9,196.9 525.5,199.17 526.1,201.48 526.7,203.82 527.3,206.2 527.9,208.6 528.5,211.06 529.1,213.64 529.7,216.29 530.3,219 530.9,221.72 531.5,224.44 532.1,227.11 532.7,229.71 533.3,232.2 533.9,234.58 534.5,236.91 535.1,239.2 535.7,241.46 536.3,243.68 536.9,245.87 537.5,248.03 538.1,250.17 538.7,252.29 539.3,254.39 539.9,256.47 540.5,258.54 541.1,260.61 541.7,262.66 542.3,264.71 542.9,266.77 543.5,268.82 544.1,270.89 544.7,272.96 545.3,275.04 545.9,277.07 546.5,279.06 547.1,281.02 547.7,282.95 548.3,284.85 548.9,286.74 549.5,288.62 550.1,290.5 550.7,292.37 551.3,294.26 551.9,296.17 552.5,298.1 553.1,300.06 553.7,302.05 554.3,304.09 554.9,306.18 555.5,308.32 556.1,310.53 556.7,312.8 557.3,315.15 557.9,317.59 558.5,320.11 559.1,322.71 559.7,325.4 560.3,328.16 560.9,331 561.5,333.92 562.1,336.91 562.7,339.97 563.3,343.09 563.9,346.29 564.5,349.55 565.1,352.87 565.7,356.24 566.3,359.68 566.9,363.17 567.5,366.71 568.1,370.31 568.7,373.95 569.3,377.64 569.9,381.37 570,382" fill="none" stroke="#d95319" stroke-width="4" stroke-opacity="0.3" stroke-linejoin="round" stroke-linecap="butt" />
<polyline points="521.3,184 521.9,185.58 522.5,187.21 523.1,188.87 523.7,190.57 524.3,192.3 524.9,194.07 525.5,195.87 526.1,197.71 526.7,199.57 527.3,201.47 527.9,203.4 528.5,205.35 529.1,207.33 529.7,209.4 530.3,211.56 530.9,213.79 531.5,216.08 532.1,218.41 532.7,220.75 533.3,223.08 533.9,225.39 534.5,227.66 535.1,229.86 535.7,231.98 536.3,234 536.9,235.98 537.5,237.92 538.1,239.82 538.7,241.7 539.3,243.55 539.9,245.38 540.5,247.18 541.1,248.97 541.7,250.74 542.3,252.49 542.9,254.24 543.5,255.98 544.1,257.71 544.7,259.44 545.3,261.17 545.9,262.9 546.5,264.64 547.1,266.38 547.7,268.14 548.3,269.91 548.9,271.7 549.5,273.48 550.1,275.22 550.7,276.93 551.3,278.6 551.9,280.25 552.5,281.87 553.1,283.49 553.7,285.1 554.3,286.71 554.9,288.33 555.5,289.96 556.1,291.61 556.7,293.28 557.3,294.99 557.9,296.73 558.5,298.52 559.1,300.36 559.7,302.26 560.3,304.22 560.9,306.25 561.5,308.36 562.1,310.55 562.7,312.83 563.3,315.2 563.9,317.7 564.5,320.33 565.1,323.08 565.7,325.94 566.3,328.92 566.9,332 567.5,335.19 568.1,338.48 568.7,341.86 569.3,345.33 569.9,348.89 570.5,352.53 571.1,356.25 571.7,360.04 572.3,363.9 572.9,367.82 573.5,371.81 574.1,375.85 574.7,379.94 575,382" fill="none" stroke="#d95319" stroke-width="4" stroke-opacity="0.3" stroke-linejoin="round" stroke-linecap="butt" />
<polyline points="521.3,184 521.9,185.26 522.5,186.55 523.1,187.87 523.7,189.22 524.3,190.59 524.9,192 525.5,193.44 526.1,194.9 526.7,196.38 527.3,197.9 527.9,199.43 528.5,200.99 529.1,202.58 529.7,204.19 530.3,205.83 530.9,207.53 531.5,209.31 532.1,211.14 532.7,213.02 533.3,214.94 533.9,216.89 534.5,218.85 535.1,220.81 535.7,222.77 536.3,224.72 536.9,226.64 537.5,228.52 538.1,230.36 538.7,232.13 539.3,233.85 539.9,235.54 540.5,237.2 541.1,238.84 541.7,240.46 542.3,242.06 542.9,243.64 543.5,245.21 544.1,246.76 544.7,248.3 545.3,249.83 545.9,251.35 546.5,252.87 547.1,254.38 547.7,255.89 548.3,257.4 548.9,258.9 549.5,260.42 550.1,261.93 550.7,263.45 551.3,264.98 551.9,266.52 552.5,268.07 553.1,269.63 553.7,271.21 554.3,272.79 554.9,274.34 555.5,275.85 556.1,277.33 556.7,278.78 557.3,280.22 557.9,281.64 558.5,283.05 559.1,284.47 559.7,285.9 560.3,287.34 560.9,288.8 561.5,290.29 562.1,291.81 562.7,293.37 563.3,294.98 563.9,296.65 564.5,298.38 565.1,300.17 565.7,302.04 566.3,303.98 566.9,306.02 567.5,308.15 568.1,310.38 568.7,312.76 569.3,315.31 569.9,318.02 570.5,320.89 571.1,323.9 571.7,327.06 572.3,330.36 572.9,333.79 573.5,337.34 574.1,341.01 574.7,344.79 575.3,348.67 575.9,352.65 576.5,356.73 577.1,360.89 577.7,365.13 578.3,369.44 578.9,373.82 579.5,378.26 580,382" fill="none" stroke="#d95319" stroke-width="4" stroke-opacity="0.25" stroke-linejoin="round" stroke-linecap="butt" />
<polyline points="521.3,184 521.9,185.2 522.5,186.41 523.1,187.64 523.7,188.89 524.3,190.15 524.9,191.43 525.5,192.73 526.1,194.04 526.7,195.38 527.3,196.72 527.9,198.09 528.5,199.47 529.1,200.87 529.7,202.29 530.3,203.72 530.9,205.2 531.5,206.72 532.1,208.28 532.7,209.87 533.3,211.48 533.9,213.12 534.5,214.78 535.1,216.45 535.7,218.12 536.3,219.8 536.9,221.48 537.5,223.15 538.1,224.81 538.7,226.45 539.3,228.08 539.9,229.68 540.5,231.24 541.1,232.78 541.7,234.27 542.3,235.72 542.9,237.15 543.5,238.57 544.1,239.97 544.7,241.36 545.3,242.73 545.9,244.09 546.5,245.43 547.1,246.77 547.7,248.09 548.3,249.41 548.9,250.71 549.5,252.01 550.1,253.3 550.7,254.58 551.3,255.86 551.9,257.14 552.5,258.41 553.1,259.67 553.7,260.94 554.3,262.2 554.9,263.46 555.5,264.72 556.1,265.99 556.7,267.25 557.3,268.52 557.9,269.79 558.5,271.07 559.1,272.39 559.7,273.73 560.3,275.09 560.9,276.47 561.5,277.87 562.1,279.28 562.7,280.69 563.3,282.11 563.9,283.53 564.5,284.95 565.1,286.35 565.7,287.75 566.3,289.13 566.9,290.49 567.5,291.82 568.1,293.13 568.7,294.41 569.3,295.65 569.9,296.86 570.5,298.02 571.1,299.14 571.7,300.2 572.3,301.22 572.9,302.17 573.5,303.06 574.1,303.89 574.7,304.65 575.3,305.34 575.9,306 576.5,306.63 577.1,307.24 577.7,307.83 578.3,308.4 578.9,308.95 579.5,309.48 580.1,309.99 580.7,310.48 581.3,310.96 581.9,311.43 582.5,311.88 583.1,312.33 583.7,312.76 584.3,313.18 584.9,313.6 585.5,314.01 586.1,314.41 586.7,314.81 587.3,315.21 587.9,315.61 588.5,316 589.1,316.4 589.7,316.8 590.3,317.2 590.9,317.59 591.5,317.96 592.1,318.32 592.7,318.68 593.3,319.02 593.9,319.36 594.5,319.69 595.1,320.01 595.7,320.34 596.3,320.66 596.9,320.99 597.5,321.31 598.1,321.65 598.7,321.98 599.3,322.33 599.9,322.68 600.5,323.04 601.1,323.41 601.7,323.8 602.3,324.2 602.9,324.63 603.5,325.06 604.1,325.52 604.7,325.98 605.3,326.45 605.9,326.92 606,327" fill="none" stroke="#d95319" stroke-width="4" stroke-opacity="0.4" stroke-linejoin="round" stroke-linecap="butt" />
<polyline points="521.3,184 521.9,185.23 522.5,186.47 523.1,187.73 523.7,188.99 524.3,190.27 524.9,191.55 525.5,192.85 526.1,194.16 526.7,195.49 527.3,196.83 527.9,198.17 528.5,199.54 529.1,200.91 529.7,202.3 530.3,203.7 530.9,205.14 531.5,206.59 532.1,208.07 532.7,209.58 533.3,211.1 533.9,212.63 534.5,214.18 535.1,215.75 535.7,217.31 536.3,218.89 536.9,220.46 537.5,222.04 538.1,223.61 538.7,225.18 539.3,226.74 539.9,228.28 540.5,229.82 541.1,231.33 541.7,232.83 542.3,234.31 542.9,235.76 543.5,237.19 544.1,238.61 544.7,240.02 545.3,241.42 545.9,242.81 546.5,244.2 547.1,245.57 547.7,246.94 548.3,248.3 548.9,249.66 549.5,251 550.1,252.35 550.7,253.69 551.3,255.02 551.9,256.35 552.5,257.68 553.1,259 553.7,260.33 554.3,261.65 554.9,262.97 555.5,264.29 556.1,265.61 556.7,266.93 557.3,268.25 557.9,269.57 558.5,270.89 559.1,272.22 559.7,273.57 560.3,274.95 560.9,276.36 561.5,277.79 562.1,279.23 562.7,280.7 563.3,282.17 563.9,283.65 564.5,285.14 565.1,286.62 565.7,288.1 566.3,289.57 566.9,291.03 567.5,292.47 568.1,293.9 568.7,295.3 569.3,296.67 569.9,298.01 570.5,299.32 571.1,300.58 571.7,301.81 572.3,302.99 572.9,304.12 573.5,305.19 574.1,306.21 574.7,307.16 575.3,308.05 575.9,308.87 576.5,309.63 577.1,310.37 577.7,311.08 578.3,311.77 578.9,312.44 579.5,313.09 580.1,313.71 580.7,314.32 581.3,314.91 581.9,315.48 582.5,316.04 583.1,316.58 583.7,317.1 584.3,317.61 584.9,318.11 585.5,318.6 586.1,319.08 586.7,319.55 587.3,320.01 587.9,320.46 588.5,320.91 589.1,321.35 589.7,321.78 590.3,322.21 590.9,322.63 591.5,323.02 592.1,323.41 592.7,323.77 593.3,324.13 593.9,324.48 594.5,324.83 595.1,325.16 595.7,325.5 596.3,325.83 596.9,326.17 597.5,326.51 598.1,326.85 598.7,327.2 599.3,327.56 599.9,327.94 600.5,328.32 601.1,328.71 601.7,329.1 602.3,329.49 602.9,329.89 603.5,330.29 604.1,330.7 604.7,331.11 605.3,331.52 605.9,331.93 606,332" fill="none" stroke="#d95319" stroke-width="4" stroke-opacity="0.35" stroke-linejoin="round" stroke-linecap="butt" />
<polyline points="521.3,184 521.9,185.21 522.5,186.44 523.1,187.68 523.7,188.94 524.3,190.21 524.9,191.49 525.5,192.79 526.1,194.1 526.7,195.43 527.3,196.77 527.9,198.13 528.5,199.5 529.1,200.89 529.7,202.29 530.3,203.71 530.9,205.17 531.5,206.66 532.1,208.18 532.7,209.73 533.3,211.3 533.9,212.88 534.5,214.49 535.1,216.11 535.7,217.74 536.3,219.37 536.9,221.01 537.5,222.64 538.1,224.27 538.7,225.9 539.3,227.51 539.9,229.11 540.5,230.69 541.1,232.24 541.7,233.78 542.3,235.28 542.9,236.76 543.5,238.2 544.1,239.63 544.7,241.04 545.3,242.44 545.9,243.83 546.5,245.2 547.1,246.56 547.7,247.9 548.3,249.24 548.9,250.57 549.5,251.9 550.1,253.21 550.7,254.53 551.3,255.83 551.9,257.14 552.5,258.44 553.1,259.74 553.7,261.04 554.3,262.35 554.9,263.65 555.5,264.96 556.1,266.28 556.7,267.6 557.3,268.92 557.9,270.26 558.5,271.6 559.1,272.95 559.7,274.31 560.3,275.69 560.9,277.11 561.5,278.55 562.1,280.03 562.7,281.54 563.3,283.06 563.9,284.61 564.5,286.17 565.1,287.74 565.7,289.31 566.3,290.89 566.9,292.47 567.5,294.04 568.1,295.6 568.7,297.14 569.3,298.67 569.9,300.18 570.5,301.67 571.1,303.12 571.7,304.54 572.3,305.92 572.9,307.26 573.5,308.56 574.1,309.8 574.7,311 575.3,312.13 575.9,313.2 576.5,314.21 577.1,315.15 577.7,316.05 578.3,316.92 578.9,317.76 579.5,318.57 580.1,319.37 580.7,320.14 581.3,320.88 581.9,321.61 582.5,322.32 583.1,323.01 583.7,323.68 584.3,324.33 584.9,324.97 585.5,325.6 586.1,326.22 586.7,326.82 587.3,327.42 587.9,328 588.5,328.58 589.1,329.15 589.7,329.72 590.3,330.28 590.9,330.82 591.5,331.33 592.1,331.83 592.7,332.31 593.3,332.77 593.9,333.23 594.5,333.68 595.1,334.12 595.7,334.57 596.3,335.02 596.9,335.47 597.5,335.93 598.1,336.4 598.7,336.88 599.3,337.39 599.9,337.91 600.5,338.45 601.1,339.01 601.7,339.58 602.3,340.17 602.9,340.77 603.5,341.37 604.1,341.99 604.7,342.62 605.3,343.25 605.9,343.89 606,344" fill="none" stroke="#d95319" stroke-width="4" stroke-opacity="0.35" stroke-linejoin="round" stroke-linecap="butt" />
<polyline points="521.3,186 521.9,187 522.5,188.02 523.1,189.07 523.7,190.14 524.3,191.24 524.9,192.36 525.5,193.5 526.1,194.67 526.7,195.86 527.3,197.07 527.9,198.3 528.5,199.55 529.1,200.83 529.7,202.12 530.3,203.44 530.9,204.78 531.5,206.14 532.1,207.54 532.7,208.97 533.3,210.44 533.9,211.94 534.5,213.46 535.1,215.02 535.7,216.6 536.3,218.2 536.9,219.83 537.5,221.47 538.1,223.13 538.7,224.81 539.3,226.5 539.9,228.2 540.5,229.91 541.1,231.63 541.7,233.36 542.3,235.09 542.9,236.82 543.5,238.56 544.1,240.29 544.7,242.04 545.3,243.83 545.9,245.64 546.5,247.49 547.1,249.35 547.7,251.24 548.3,253.14 548.9,255.07 549.5,257 550.1,258.94 550.7,260.89 551.3,262.85 551.9,264.81 552.5,266.76 553.1,268.71 553.7,270.66 554.3,272.6 554.9,274.52 555.5,276.43 556.1,278.32 556.7,280.19 557.3,282.04 557.9,283.87 558.5,285.66 559.1,287.42 559.7,289.15 560.3,290.85 560.9,292.54 561.5,294.24 562.1,295.94 562.7,297.63 563.3,299.33 563.9,301.02 564.5,302.71 565.1,304.4 565.7,306.08 566.3,307.75 566.9,309.41 567.5,311.06 568.1,312.7 568.7,314.33 569.3,315.94 569.9,317.54 570.5,319.12 571.1,320.68 571.7,322.23 572.3,323.75 572.9,325.26 573.5,326.74 574.1,328.2 574.7,329.63 575.3,331.04 575.9,332.41 576.5,333.76 577.1,335.08 577.7,336.37 578.3,337.63 578.9,338.85 579.5,340.04 580.1,341.19 580.7,342.27 581.3,343.26 581.9,344.19 582.5,345.08 583.1,345.92 583.7,346.75 584.3,347.57 584.9,348.41 585.5,349.27 586.1,350.17 586.7,351.13 587.3,352.16 587.9,353.28 588.5,354.5 589.1,355.84 589.7,357.28 590.3,358.84 590.9,360.5 591.5,362.25 592.1,364.1 592.7,366.04 593.3,368.05 593.9,370.15 594.5,372.31 595.1,374.55 595.7,376.84 596.3,379.19 596.9,381.59 597,382" fill="none" stroke="#d95319" stroke-width="4" stroke-opacity="0.25" stroke-linejoin="round" stroke-linecap="butt" />
<polyline points="73.5,113.75 91.25,118.75 123.75,192.5 147.5,202.5 165,232.5 180,236 192.5,243.75 206,247.5 220,251 235,255 237.5,255 247.5,265 255,266 270,273.75 290,286 302.5,273.75 312.5,276 313.1,276.26 313.7,276.52 314.3,276.77 314.9,277.03 315.5,277.28 316.1,277.53 316.7,277.78 317.3,278.03 317.9,278.27 318.5,278.51 319.1,278.75 319.7,278.99 320.3,279.22 320.9,279.45 321.5,279.68 322.1,279.9 322.7,280.12 323.3,280.34 323.9,280.56 324.5,280.77 325.1,280.97 325.7,281.17 326.3,281.37 326.9,281.57 327.5,281.76 328.1,281.94 328.7,282.12 329.3,282.3 329.9,282.47 330.5,282.64 331.1,282.81 331.7,282.98 332.3,283.15 332.9,283.32 333.5,283.49 334.1,283.66 334.7,283.83 335.3,284 335.9,284.17 336.5,284.34 337.1,284.5 337.7,284.67 338.3,284.83 338.9,284.99 339.5,285.15 340.1,285.31 340.7,285.46 341.3,285.62 341.9,285.77 342.5,285.92 343.1,286.06 343.7,286.2 344.3,286.34 344.9,286.47 345.5,286.6 346.1,286.73 346.7,286.85 347.3,286.97 347.9,287.08 348.5,287.19 349.1,287.29 349.7,287.39 350.3,287.48 350.9,287.57 351.5,287.65 352.1,287.73 352.7,287.79 353.3,287.86 353.9,287.91 354.5,287.96 355.1,288.01 355.7,288.05 356.3,288.09 356.9,288.13 357.5,288.17 358.1,288.2 358.7,288.24 359.3,288.28 359.9,288.31 360.5,288.35 361.1,288.39 361.7,288.42 362.3,288.45 362.9,288.49 363.5,288.52 364.1,288.55 364.7,288.58 365.3,288.61 365.9,288.64 366.5,288.67 367.1,288.69 367.7,288.72 368.3,288.75 368.9,288.77 369.5,288.79 370.1,288.81 370.7,288.83 371.3,288.85 371.9,288.87 372.5,288.89 373.1,288.91 373.7,288.92 374.3,288.94 374.9,288.95 375.5,288.96 376.1,288.97 376.7,288.98 377.3,288.99 377.9,288.99 378.5,289 379.1,289 379.7,289 380.3,289 380.9,289 381.5,289 382.1,288.99 382.7,288.99 383.3,288.98 383.9,288.98 384.5,288.97 385.1,288.96 385.7,288.95 386.3,288.94 386.9,288.93 387.5,288.91 388.1,288.9 388.7,288.89 389.3,288.87 389.9,288.85 390.5,288.83 391.1,288.82 391.7,288.8 392.3,288.78 392.9,288.75 393.5,288.73 394.1,288.71 394.7,288.68 395.3,288.66 395.9,288.63 396.5,288.61 397.1,288.58 397.7,288.55 398.3,288.52 398.9,288.49 399.5,288.46 400.1,288.43 400.7,288.39 401.3,288.36 401.9,288.33 402.5,288.29 403.1,288.26 403.7,288.22 404.3,288.18 404.9,288.15 405.5,288.11 406.1,288.07 406.7,288.03 407.3,287.99 407.9,287.95 408.5,287.91 409.1,287.86 409.7,287.81 410.3,287.75 410.9,287.67 411.5,287.6 412.1,287.51 412.7,287.41 413.3,287.31 413.9,287.21 414.5,287.09 415.1,286.97 415.7,286.85 416.3,286.71 416.9,286.58 417.5,286.44 418.1,286.29 418.7,286.14 419.3,285.99 419.9,285.83 420.5,285.67 421.1,285.5 421.7,285.34 422.3,285.17 422.9,285 423.5,284.82 424.1,284.64 424.7,284.44 425.3,284.23 425.9,284.01 426.5,283.77 427.1,283.51 427.7,283.24 428.3,282.95 428.9,282.63 429.5,282.3 430.1,281.94 430.7,281.52 431.3,281.03 431.9,280.47 432.5,279.86 433.1,279.21 433.7,278.51 434.3,277.78 434.9,277.02 435.5,276.25 436.1,275.47 436.7,274.69 437.3,273.91 437.9,273.08 438.5,272.2 439.1,271.28 439.7,270.32 440.3,269.35 440.9,268.36 441.5,267.37 442.1,266.37 442.7,265.39 443.3,264.43 443.9,263.5 444.5,262.61 445.1,261.75 445.7,260.93 446.3,260.14 446.9,259.35 447.5,258.57 448.1,257.78 448.7,256.98 449.3,256.15 449.9,255.29 450.5,254.37 451.1,253.41 451.7,252.36 452.3,251.18 452.9,249.87 453.5,248.47 454.1,247.02 454.7,245.54 455.3,244.07 455.9,242.64 456.5,241.28 457.1,240.02 457.7,238.9 458.3,237.93 458.9,237.01 459.5,236.13 460.1,235.29 460.7,234.48 461.3,233.69 461.9,232.94 462.5,232.21 463.1,231.5 463.7,230.82 464.3,230.16 464.9,229.52 465.5,228.89 466.1,228.28 466.7,227.68 467.3,227.09 467.9,226.51 468.5,225.95 469.1,225.39 469.7,224.85 470.3,224.32 470.9,223.81 471.5,223.3 472.1,222.81 472.7,222.33 473.3,221.86 473.9,221.4 474.5,220.95 475.1,220.52 475.7,220.09 476.3,219.67 476.9,219.27 477.5,218.87 478.1,218.46 478.7,218.04 479.3,217.61 479.9,217.18 480.5,216.74 481.1,216.31 481.7,215.87 482.3,215.45 482.9,215.02 483.5,214.62 484.1,214.22 484.7,213.84 485.3,213.48 485.9,213.15 486.5,212.83 487.1,212.55 487.7,212.3 488.3,212.08 488.9,211.9 489.5,211.76 490.1,211.66 490.7,211.6 491.3,211.58 491.9,211.56 492.5,211.54 493.1,211.52 493.7,211.5 494.3,211.49 494.9,211.47 495.5,211.46 496.1,211.44 496.7,211.43 497.3,211.42 497.9,211.42 498.5,211.41 499.1,211.4 499.7,211.4 500.3,211.4 500.9,211.42 501.5,211.49 502.1,211.64 502.7,211.84 503.3,212.11 503.9,212.43 504.5,212.81 505.1,213.24 505.7,213.72 506.3,214.25 506.9,214.82 507.5,215.43 508.1,216.09 508.7,216.94 509.3,218.28 509.9,220.04 510.5,222.19 511.1,224.65 511.7,227.39 512.3,230.35 512.9,233.47 513.5,238 514.1,244.38 514.7,249.23 515.3,250 515.9,250 516.5,250.7 517.1,270.98 517.7,277.71 518.3,255.46 518.9,237.04 519.5,220.49 520.1,205.34 520.7,194.28 521.3,190 521.9,190.35 522.5,192.81 523,198" fill="none" stroke="#d95319" stroke-width="4.4" stroke-opacity="0.2" stroke-linejoin="round" stroke-linecap="butt" />
<polyline points="73.5,113.75 91.25,118.75 123.75,192.5 147.5,202.5 165,238.75 180,240 192.5,245.5 206,249.5 220,253.5 235,258.75 237.5,258.75 255,275 261,270 268.75,261 280,266 295,262.5 298.75,266 305,290 312.5,303.75 320,300 320.6,300.01 321.2,300.02 321.8,300.03 322.4,300.04 323,300.05 323.6,300.06 324.2,300.07 324.8,300.08 325.4,300.09 326,300.1 326.6,300.11 327.2,300.12 327.8,300.13 328.4,300.14 329,300.15 329.6,300.16 330.2,300.17 330.8,300.17 331.4,300.18 332,300.19 332.6,300.2 333.2,300.21 333.8,300.22 334.4,300.23 335,300.23 335.6,300.24 336.2,300.25 336.8,300.26 337.4,300.27 338,300.27 338.6,300.28 339.2,300.29 339.8,300.3 340.4,300.3 341,300.31 341.6,300.32 342.2,300.33 342.8,300.34 343.4,300.34 344,300.35 344.6,300.36 345.2,300.37 345.8,300.38 346.4,300.38 347,300.39 347.6,300.4 348.2,300.41 348.8,300.42 349.4,300.42 350,300.43 350.6,300.44 351.2,300.45 351.8,300.46 352.4,300.46 353,300.47 353.6,300.48 354.2,300.49 354.8,300.49 355.4,300.5 356,300.51 356.6,300.51 357.2,300.52 357.8,300.53 358.4,300.53 359,300.54 359.6,300.55 360.2,300.55 360.8,300.56 361.4,300.56 362,300.57 362.6,300.57 363.2,300.58 363.8,300.58 364.4,300.58 365,300.59 365.6,300.59 366.2,300.59 366.8,300.59 367.4,300.6 368,300.6 368.6,300.6 369.2,300.6 369.8,300.6 370.4,300.6 371,300.6 371.6,300.6 372.2,300.6 372.8,300.6 373.4,300.6 374,300.6 374.6,300.6 375.2,300.6 375.8,300.6 376.4,300.6 377,300.6 377.6,300.59 378.2,300.59 378.8,300.59 379.4,300.59 380,300.59 380.6,300.59 381.2,300.59 381.8,300.59 382.4,300.58 383,300.58 383.6,300.58 384.2,300.58 384.8,300.58 385.4,300.57 386,300.57 386.6,300.57 387.2,300.57 387.8,300.56 388.4,300.56 389,300.56 389.6,300.55 390.2,300.55 390.8,300.55 391.4,300.54 392,300.54 392.6,300.54 393.2,300.53 393.8,300.53 394.4,300.52 395,300.52 395.6,300.51 396.2,300.51 396.8,300.51 397.4,300.5 398,300.49 398.6,300.49 399.2,300.48 399.8,300.48 400.4,300.47 401,300.47 401.6,300.46 402.2,300.45 402.8,300.45 403.4,300.44 404,300.43 404.6,300.42 405.2,300.42 405.8,300.41 406.4,300.4 407,300.39 407.6,300.38 408.2,300.38 408.8,300.37 409.4,300.36 410,300.35 410.6,300.34 411.2,300.33 411.8,300.32 412.4,300.31 413,300.3 413.6,300.25 414.2,300.16 414.8,300.03 415.4,299.86 416,299.66 416.6,299.42 417.2,299.16 417.8,298.88 418.4,298.59 419,298.28 419.6,297.96 420.2,297.64 420.8,297.32 421.4,297 422,296.68 422.6,296.33 423.2,295.96 423.8,295.57 424.4,295.15 425,294.71 425.6,294.24 426.2,293.74 426.8,293.2 427.4,292.64 428,292.04 428.6,291.4 429.2,290.68 429.8,289.83 430.4,288.88 431,287.86 431.6,286.77 432.2,285.64 432.8,284.49 433.4,283.28 434,281.93 434.6,280.49 435.2,279.03 435.8,277.58 436.4,276.22 437,275 437.6,273.89 438.2,272.83 438.8,271.81 439.4,270.83 440,269.88 440.6,268.96 441.2,268.05 441.8,267.16 442.4,266.29 443,265.41 443.6,264.53 444.2,263.65 444.8,262.77 445.4,261.93 446,261.13 446.6,260.34 447.2,259.55 447.8,258.77 448.4,257.98 449,257.17 449.6,256.32 450.2,255.44 450.8,254.5 451.4,253.5 452,252.39 452.6,251.14 453.2,249.78 453.8,248.36 454.4,246.89 455,245.41 455.6,243.95 456.2,242.55 456.8,241.24 457.4,240.04 458,239 458.6,238.06 459.2,237.16 459.8,236.29 460.4,235.45 461,234.65 461.6,233.87 462.2,233.12 462.8,232.4 463.4,231.7 464,231.02 464.6,230.36 465.2,229.72 465.8,229.09 466.4,228.48 467,227.89 467.6,227.3 468.2,226.73 468.8,226.16 469.4,225.62 470,225.08 470.6,224.56 471.2,224.05 471.8,223.55 472.4,223.07 473,222.6 473.6,222.13 474.2,221.68 474.8,221.24 475.4,220.81 476,220.38 476.6,219.97 477.2,219.57 477.8,219.16 478.4,218.75 479,218.32 479.6,217.88 480.2,217.44 480.8,217 481.4,216.56 482,216.12 482.6,215.69 483.2,215.27 483.8,214.86 484.4,214.47 485,214.09 485.6,213.74 486.2,213.41 486.8,213.11 487.4,212.83 488,212.6 488.6,212.39 489.2,212.23 489.8,212.1 490.4,212.03 491,211.99 491.6,211.97 492.2,211.95 492.8,211.93 493.4,211.91 494,211.89 494.6,211.88 495.2,211.86 495.8,211.85 496.4,211.84 497,211.83 497.6,211.82 498.2,211.81 498.8,211.81 499.4,211.8 500,211.8 500.6,211.8 501.2,211.85 501.8,211.95 502.4,212.13 503,212.36 503.6,212.65 504.2,212.99 504.8,213.39 505.4,213.83 506,214.33 506.6,214.86 507.2,215.44 507.8,216.07 508.4,216.75 509,217.82 509.6,219.35 510.2,221.27 510.8,223.54 511.4,226.1 512,228.91 512.6,231.91 513.2,235.12 513.8,239.23 514.4,244.27 515,250 515.6,256.44 516.2,264.64 516.8,279.89 517.4,297.45 518,286.55 518.6,263 519.2,243.05 519.8,221.61 520.4,203.01 521,191.63 521.6,190.04 522.2,191.19 522.8,195.5 523,198" fill="none" stroke="#d95319" stroke-width="4.4" stroke-opacity="0.2" stroke-linejoin="round" stroke-linecap="butt" />
<polyline points="73.5,113.75 91.25,118.75 123.75,192.5 147.5,202.5 165,248.75 180,251.25 192.5,258.75 206,260.5 220,263 235,267 250,280 265,282.5 292.5,297 301,283.75 307.5,286 308.1,286.25 308.7,286.49 309.3,286.74 309.9,286.98 310.5,287.22 311.1,287.46 311.7,287.69 312.3,287.93 312.9,288.16 313.5,288.39 314.1,288.62 314.7,288.85 315.3,289.07 315.9,289.3 316.5,289.52 317.1,289.73 317.7,289.95 318.3,290.16 318.9,290.37 319.5,290.58 320.1,290.79 320.7,290.99 321.3,291.19 321.9,291.39 322.5,291.58 323.1,291.77 323.7,291.96 324.3,292.15 324.9,292.33 325.5,292.51 326.1,292.69 326.7,292.86 327.3,293.03 327.9,293.19 328.5,293.36 329.1,293.52 329.7,293.67 330.3,293.83 330.9,293.98 331.5,294.13 332.1,294.28 332.7,294.43 333.3,294.58 333.9,294.72 334.5,294.87 335.1,295.02 335.7,295.16 336.3,295.3 336.9,295.45 337.5,295.59 338.1,295.72 338.7,295.86 339.3,296 339.9,296.13 340.5,296.26 341.1,296.39 341.7,296.52 342.3,296.65 342.9,296.77 343.5,296.89 344.1,297.01 344.7,297.13 345.3,297.25 345.9,297.36 346.5,297.47 347.1,297.58 347.7,297.69 348.3,297.79 348.9,297.89 349.5,297.99 350.1,298.09 350.7,298.18 351.3,298.27 351.9,298.35 352.5,298.44 353.1,298.52 353.7,298.59 354.3,298.67 354.9,298.74 355.5,298.81 356.1,298.87 356.7,298.94 357.3,299.01 357.9,299.07 358.5,299.14 359.1,299.2 359.7,299.27 360.3,299.33 360.9,299.39 361.5,299.44 362.1,299.5 362.7,299.56 363.3,299.61 363.9,299.66 364.5,299.7 365.1,299.75 365.7,299.79 366.3,299.83 366.9,299.87 367.5,299.9 368.1,299.93 368.7,299.96 369.3,299.98 369.9,300 370.5,300.01 371.1,300.03 371.7,300.05 372.3,300.06 372.9,300.08 373.5,300.09 374.1,300.11 374.7,300.12 375.3,300.14 375.9,300.15 376.5,300.16 377.1,300.18 377.7,300.19 378.3,300.2 378.9,300.22 379.5,300.23 380.1,300.24 380.7,300.26 381.3,300.27 381.9,300.28 382.5,300.29 383.1,300.3 383.7,300.32 384.3,300.33 384.9,300.34 385.5,300.35 386.1,300.36 386.7,300.37 387.3,300.38 387.9,300.39 388.5,300.4 389.1,300.41 389.7,300.42 390.3,300.43 390.9,300.44 391.5,300.45 392.1,300.45 392.7,300.46 393.3,300.47 393.9,300.48 394.5,300.49 395.1,300.49 395.7,300.5 396.3,300.51 396.9,300.51 397.5,300.52 398.1,300.53 398.7,300.53 399.3,300.54 399.9,300.54 400.5,300.55 401.1,300.55 401.7,300.56 402.3,300.56 402.9,300.57 403.5,300.57 404.1,300.57 404.7,300.58 405.3,300.58 405.9,300.58 406.5,300.59 407.1,300.59 407.7,300.59 408.3,300.59 408.9,300.59 409.5,300.6 410.1,300.6 410.7,300.6 411.3,300.6 411.9,300.6 412.5,300.6 413.1,300.6 413.7,300.56 414.3,300.47 414.9,300.34 415.5,300.17 416.1,299.97 416.7,299.73 417.3,299.48 417.9,299.2 418.5,298.91 419.1,298.6 419.7,298.29 420.3,297.97 420.9,297.66 421.5,297.35 422.1,297.03 422.7,296.68 423.3,296.31 423.9,295.91 424.5,295.49 425.1,295.04 425.7,294.56 426.3,294.05 426.9,293.51 427.5,292.94 428.1,292.33 428.7,291.69 429.3,290.95 429.9,290.1 430.5,289.15 431.1,288.13 431.7,287.05 432.3,285.94 432.9,284.8 433.5,283.57 434.1,282.21 434.7,280.76 435.3,279.29 435.9,277.85 436.5,276.51 437.1,275.31 437.7,274.21 438.3,273.16 438.9,272.15 439.5,271.17 440.1,270.23 440.7,269.31 441.3,268.4 441.9,267.52 442.5,266.64 443.1,265.76 443.7,264.89 444.3,264 444.9,263.13 445.5,262.3 446.1,261.49 446.7,260.71 447.3,259.93 447.9,259.14 448.5,258.35 449.1,257.53 449.7,256.68 450.3,255.78 450.9,254.84 451.5,253.83 452.1,252.69 452.7,251.42 453.3,250.05 453.9,248.61 454.5,247.14 455.1,245.66 455.7,244.21 456.3,242.83 456.9,241.53 457.5,240.36 458.1,239.34 458.7,238.41 459.3,237.51 459.9,236.65 460.5,235.82 461.1,235.02 461.7,234.24 462.3,233.5 462.9,232.78 463.5,232.08 464.1,231.41 464.7,230.75 465.3,230.11 465.9,229.49 466.5,228.88 467.1,228.29 467.7,227.7 468.3,227.13 468.9,226.57 469.5,226.03 470.1,225.5 470.7,224.98 471.3,224.47 471.9,223.98 472.5,223.5 473.1,223.02 473.7,222.56 474.3,222.11 474.9,221.67 475.5,221.24 476.1,220.82 476.7,220.41 477.3,220 477.9,219.59 478.5,219.17 479.1,218.74 479.7,218.31 480.3,217.87 480.9,217.42 481.5,216.98 482.1,216.55 482.7,216.12 483.3,215.7 483.9,215.29 484.5,214.9 485.1,214.53 485.7,214.18 486.3,213.85 486.9,213.55 487.5,213.27 488.1,213.03 488.7,212.82 489.3,212.65 489.9,212.52 490.5,212.43 491.1,212.38 491.7,212.34 492.3,212.3 492.9,212.26 493.5,212.22 494.1,212.19 494.7,212.16 495.3,212.13 495.9,212.1 496.5,212.08 497.1,212.06 497.7,212.04 498.3,212.02 498.9,212.01 499.5,212.01 500.1,212 500.7,212 501.3,212.06 501.9,212.18 502.5,212.37 503.1,212.62 503.7,212.93 504.3,213.29 504.9,213.7 505.5,214.16 506.1,214.68 506.7,215.23 507.3,215.83 507.9,216.47 508.5,217.2 509.1,218.34 509.7,219.9 510.3,221.84 510.9,224.11 511.5,226.67 512.1,229.46 512.7,232.45 513.3,236.1 513.9,242.23 514.5,247.99 515.1,249.74 515.7,241 516.3,232.26 516.9,244.96 517.5,262 518.1,245.14 518.7,224.97 519.3,213.04 519.9,202.44 520.5,194.44 521.1,190.3 521.7,190.27 522.3,192.19 522.9,196.87 523,198" fill="none" stroke="#d95319" stroke-width="4.4" stroke-opacity="0.2" stroke-linejoin="round" stroke-linecap="butt" />
<polyline points="551.6,382 552.9,300 553.6,252 554.5,300 555.8,382" fill="none" stroke="#d95319" stroke-width="4.2" stroke-opacity="0.9" stroke-linejoin="round" stroke-linecap="butt" />
<polyline points="603.4,382 605.2,330 606.6,279.5 608.4,293 610.3,284.5 611.6,330 613,382" fill="none" stroke="#d95319" stroke-width="4" stroke-opacity="0.95" stroke-linejoin="round" stroke-linecap="butt" />
<polyline points="605.6,382 607,292 610,294 611,382" fill="none" stroke="#d95319" stroke-width="3.6" stroke-opacity="0.95" stroke-linejoin="round" stroke-linecap="butt" />
<polyline points="600,382 604,345 606,330" fill="none" stroke="#d95319" stroke-width="3.2" stroke-opacity="0.5" stroke-linejoin="round" stroke-linecap="butt" />
<polyline points="634.3,382 634.95,308.5 635.3,296.5 635.65,308.5 636.3,382" fill="none" stroke="#d95319" stroke-width="4.1" stroke-opacity="0.95" stroke-linejoin="round" stroke-linecap="butt" />
<polyline points="629.5,382 633.5,350 635.3,325 637.2,350 641.5,382" fill="none" stroke="#d95319" stroke-width="3" stroke-opacity="0.5" stroke-linejoin="round" stroke-linecap="butt" />
<polyline points="657.5,382 658.15,277.4 658.5,265.4 658.85,277.4 659.5,382" fill="none" stroke="#d95319" stroke-width="3.9" stroke-opacity="0.96" stroke-linejoin="round" stroke-linecap="butt" />
<polyline points="651.5,382 656.3,348.6 658.5,323.6 660.7,348.6 665.5,382" fill="none" stroke="#d95319" stroke-width="3" stroke-opacity="0.5" stroke-linejoin="round" stroke-linecap="butt" />
<polyline points="672.7,382 673.35,250.8 673.7,238.8 674.05,250.8 674.7,382" fill="none" stroke="#d95319" stroke-width="3.9" stroke-opacity="0.96" stroke-linejoin="round" stroke-linecap="butt" />
<polyline points="666.7,382 671.5,322 673.7,297 675.9,322 680.7,382" fill="none" stroke="#d95319" stroke-width="3" stroke-opacity="0.5" stroke-linejoin="round" stroke-linecap="butt" />
<polyline points="685.5,382 686.15,276.2 686.5,264.2 686.85,276.2 687.5,382" fill="none" stroke="#d95319" stroke-width="3.9" stroke-opacity="0.96" stroke-linejoin="round" stroke-linecap="butt" />
<polyline points="679.5,382 684.3,347.4 686.5,322.4 688.7,347.4 693.5,382" fill="none" stroke="#d95319" stroke-width="3" stroke-opacity="0.5" stroke-linejoin="round" stroke-linecap="butt" />
<polyline points="683.5,382 684.02,309 684.3,297 684.58,309 685.1,382" fill="none" stroke="#d95319" stroke-width="3" stroke-opacity="0.9" stroke-linejoin="round" stroke-linecap="butt" />
<polyline points="680.6,382 681.12,352.5 681.4,340.5 681.68,352.5 682.2,382" fill="none" stroke="#d95319" stroke-width="3" stroke-opacity="0.9" stroke-linejoin="round" stroke-linecap="butt" />
<polyline points="689.2,382 689.72,349 690,337 690.28,349 690.8,382" fill="none" stroke="#d95319" stroke-width="3" stroke-opacity="0.9" stroke-linejoin="round" stroke-linecap="butt" />
<polyline points="696.2,382 696.72,357 697,345 697.28,357 697.8,382" fill="none" stroke="#d95319" stroke-width="3" stroke-opacity="0.9" stroke-linejoin="round" stroke-linecap="butt" />
<polyline points="613,382 613.5,378.02 614,374.16 614.5,370.49 615,367.07 615.5,363.99 616,361.3 616.5,359.09 617,357.42 617.5,356.37 618,356 618.5,356.06 619,356.24 619.5,356.53 620,356.91 620.5,357.37 621,357.9 621.5,358.5 622,359.14 622.5,359.83 623,360.54 623.5,361.27 624,362 624.5,362.79 625,363.71 625.5,364.74 626,365.88 626.5,367.13 627,368.47 627.5,369.91 628,371.43 628.5,373.02 629,374.7 629.5,376.44 630,378.24 630.5,380.09 631,382" fill="none" stroke="#d95319" stroke-width="3" stroke-opacity="0.4" stroke-linejoin="round" stroke-linecap="butt" />
<polyline points="613,382 613.5,379.25 614,376.58 614.5,374.04 615,371.68 615.5,369.54 616,367.68 616.5,366.14 617,364.99 617.5,364.25 618,364 618.5,364.04 619,364.14 619.5,364.32 620,364.55 620.5,364.84 621,365.18 621.5,365.56 622,365.99 622.5,366.45 623,366.94 623.5,367.46 624,368 624.5,368.67 625,369.56 625.5,370.64 626,371.91 626.5,373.33 627,374.88 627.5,376.55 628,378.31 628.5,380.13 629,382" fill="none" stroke="#d95319" stroke-width="3" stroke-opacity="0.3" stroke-linejoin="round" stroke-linecap="butt" /></g>
<path d="M130.85 563.1v-3.5M130.85 395.6v3.5M164.07 563.1v-3.5M164.07 395.6v3.5M187.65 563.1v-3.5M187.65 395.6v3.5M205.93 563.1v-3.5M205.93 395.6v3.5M220.87 563.1v-3.5M220.87 395.6v3.5M233.51 563.1v-3.5M233.51 395.6v3.5M244.45 563.1v-3.5M244.45 395.6v3.5M254.1 563.1v-3.5M254.1 395.6v3.5M262.73 563.1v-7M262.73 395.6v7M319.53 563.1v-3.5M319.53 395.6v3.5M352.76 563.1v-3.5M352.76 395.6v3.5M376.33 563.1v-3.5M376.33 395.6v3.5M394.62 563.1v-3.5M394.62 395.6v3.5M409.56 563.1v-3.5M409.56 395.6v3.5M422.19 563.1v-3.5M422.19 395.6v3.5M433.13 563.1v-3.5M433.13 395.6v3.5M442.78 563.1v-3.5M442.78 395.6v3.5M451.42 563.1v-7M451.42 395.6v7M508.22 563.1v-3.5M508.22 395.6v3.5M541.44 563.1v-3.5M541.44 395.6v3.5M565.02 563.1v-3.5M565.02 395.6v3.5M583.3 563.1v-3.5M583.3 395.6v3.5M598.24 563.1v-3.5M598.24 395.6v3.5M610.87 563.1v-3.5M610.87 395.6v3.5M621.82 563.1v-3.5M621.82 395.6v3.5M631.47 563.1v-3.5M631.47 395.6v3.5M640.1 563.1v-7M640.1 395.6v7M696.9 563.1v-3.5M696.9 395.6v3.5M74.05 437.48h7M696.9 437.48h-7M74.05 479.35h7M696.9 479.35h-7M74.05 521.23h7M696.9 521.23h-7" stroke="#000" stroke-width="1.3" fill="none"/>
<rect x="74.05" y="395.6" width="622.85" height="167.5" fill="none" stroke="#000" stroke-width="1.4"/>
<g clip-path="url(#cb)"><polyline points="73.5,530.75 74.1,530.75 74.7,530.75 75.3,530.75 75.9,530.75 76.5,530.75 77.1,530.75 77.7,530.75 78.3,530.75 78.9,530.75 79.5,530.75 80.1,530.75 80.7,530.75 81.3,530.75 81.9,530.75 82.5,530.75 83.1,530.75 83.7,530.75 84.3,530.75 84.9,530.75 85.5,530.75 86.1,530.75 86.7,530.75 87.3,530.75 87.9,530.75 88.5,530.75 89.1,530.75 89.7,530.75 90.3,530.75 90.9,530.75 91.5,530.75 92.1,530.75 92.7,530.75 93.3,530.74 93.9,530.73 94.5,530.7 95.1,530.67 95.7,530.63 96.3,530.59 96.9,530.54 97.5,530.48 98.1,530.41 98.7,530.34 99.3,530.26 99.9,530.18 100.5,530.1 101.1,530 101.7,529.91 102.3,529.81 102.9,529.7 103.5,529.6 104.1,529.49 104.7,529.38 105.3,529.26 105.9,529.14 106.5,529.02 107.1,528.9 107.7,528.78 108.3,528.66 108.9,528.53 109.5,528.41 110.1,528.29 110.7,528.16 111.3,528.04 111.9,527.92 112.5,527.8 113.1,527.68 113.7,527.56 114.3,527.45 114.9,527.33 115.5,527.22 116.1,527.12 116.7,527.01 117.3,526.91 117.9,526.82 118.5,526.73 119.1,526.64 119.7,526.56 120.3,526.48 120.9,526.41 121.5,526.34 122.1,526.29 122.7,526.23 123.3,526.18 123.9,526.13 124.5,526.08 125.1,526.02 125.7,525.97 126.3,525.92 126.9,525.87 127.5,525.81 128.1,525.76 128.7,525.71 129.3,525.66 129.9,525.61 130.5,525.56 131.1,525.52 131.7,525.47 132.3,525.42 132.9,525.38 133.5,525.34 134.1,525.3 134.7,525.26 135.3,525.23 135.9,525.19 136.5,525.16 137.1,525.13 137.7,525.11 138.3,525.08 138.9,525.06 139.5,525.04 140.1,525.03 140.7,525.02 141.3,525.01 141.9,525 142.5,525 143.1,525 143.7,525 144.3,525 144.9,525 145.5,525 146.1,525 146.7,525 147.3,525 147.9,525 148.5,525 149.1,525 149.7,525 150.3,525 150.9,525 151.5,525 152.1,525 152.7,525 153.3,525 153.9,525 154.5,525 155.1,525 155.7,525.02 156.3,525.06 156.9,525.12 157.5,525.2 158.1,525.29 158.7,525.39 159.3,525.49 159.9,525.59 160.5,525.69 161.1,525.78 161.7,525.86 162.3,525.93 162.9,525.97 163.5,526 164.1,526 164.7,526 165.3,526 165.9,526 166.5,526 167.1,526 167.7,526 168.3,526 168.9,526 169.5,526 170.1,526 170.7,526 171.3,526 171.9,526 172.5,526 173.1,526 173.7,526 174.3,526 174.9,526 175.5,526 176.1,526 176.7,526 177.3,526 177.9,526 178.5,526 179.1,526 179.7,526 180.3,526 180.9,526 181.5,526 182.1,526 182.7,526 183.3,526 183.9,526 184.5,526 185.1,526 185.7,526 186.3,526 186.9,526 187.5,526 188.1,526 188.7,526 189.3,526.01 189.9,526.02 190.5,526.02 191.1,526.04 191.7,526.05 192.3,526.06 192.9,526.08 193.5,526.09 194.1,526.11 194.7,526.13 195.3,526.15 195.9,526.17 196.5,526.19 197.1,526.21 197.7,526.23 198.3,526.26 198.9,526.28 199.5,526.3 200.1,526.33 200.7,526.35 201.3,526.38 201.9,526.4 202.5,526.43 203.1,526.45 203.7,526.47 204.3,526.5 204.9,526.52 205.5,526.54 206.1,526.57 206.7,526.59 207.3,526.61 207.9,526.63 208.5,526.64 209.1,526.66 209.7,526.68 210.3,526.69 210.9,526.7 211.5,526.72 212.1,526.73 212.7,526.74 213.3,526.74 213.9,526.75 214.5,526.75 215.1,526.75 215.7,526.75 216.3,526.75 216.9,526.74 217.5,526.74 218.1,526.73 218.7,526.73 219.3,526.72 219.9,526.71 220.5,526.7 221.1,526.69 221.7,526.68 222.3,526.66 222.9,526.65 223.5,526.64 224.1,526.62 224.7,526.6 225.3,526.59 225.9,526.57 226.5,526.55 227.1,526.53 227.7,526.51 228.3,526.49 228.9,526.47 229.5,526.45 230.1,526.42 230.7,526.4 231.3,526.38 231.9,526.35 232.5,526.33 233.1,526.3 233.7,526.27 234.3,526.25 234.9,526.22 235.5,526.2 236.1,526.17 236.7,526.14 237.3,526.11 237.9,526.09 238.5,526.06 239.1,526.03 239.7,526 240.3,525.97 240.9,525.94 241.5,525.92 242.1,525.89 242.7,525.86 243.3,525.83 243.9,525.8 244.5,525.77 245.1,525.75 245.7,525.72 246.3,525.69 246.9,525.65 247.5,525.62 248.1,525.59 248.7,525.55 249.3,525.52 249.9,525.48 250.5,525.44 251.1,525.41 251.7,525.37 252.3,525.32 252.9,525.28 253.5,525.24 254.1,525.2 254.7,525.15 255.3,525.11 255.9,525.06 256.5,525.01 257.1,524.97 257.7,524.92 258.3,524.87 258.9,524.82 259.5,524.77 260.1,524.71 260.7,524.66 261.3,524.61 261.9,524.55 262.5,524.5 263.1,524.44 263.7,524.39 264.3,524.33 264.9,524.26 265.5,524.2 266.1,524.13 266.7,524.07 267.3,524 267.9,523.93 268.5,523.85 269.1,523.78 269.7,523.7 270.3,523.63 270.9,523.55 271.5,523.47 272.1,523.39 272.7,523.3 273.3,523.22 273.9,523.14 274.5,523.05 275.1,522.96 275.7,522.88 276.3,522.79 276.9,522.7 277.5,522.61 278.1,522.52 278.7,522.43 279.3,522.34 279.9,522.25 280.5,522.16 281.1,522.06 281.7,521.97 282.3,521.88 282.9,521.79 283.5,521.69 284.1,521.6 284.7,521.51 285.3,521.42 285.9,521.33 286.5,521.23 287.1,521.14 287.7,521.05 288.3,520.96 288.9,520.87 289.5,520.78 290.1,520.69 290.7,520.6 291.3,520.52 291.9,520.43 292.5,520.34 293.1,520.26 293.7,520.18 294.3,520.09 294.9,520.01 295.5,519.93 296.1,519.85 296.7,519.77 297.3,519.7 297.9,519.62 298.5,519.54 299.1,519.46 299.7,519.38 300.3,519.31 300.9,519.23 301.5,519.15 302.1,519.08 302.7,519 303.3,518.92 303.9,518.85 304.5,518.77 305.1,518.7 305.7,518.62 306.3,518.54 306.9,518.47 307.5,518.39 308.1,518.32 308.7,518.24 309.3,518.16 309.9,518.09 310.5,518.01 311.1,517.93 311.7,517.86 312.3,517.78 312.9,517.7 313.5,517.62 314.1,517.54 314.7,517.47 315.3,517.39 315.9,517.31 316.5,517.23 317.1,517.15 317.7,517.07 318.3,516.98 318.9,516.9 319.5,516.82 320.1,516.74 320.7,516.65 321.3,516.56 321.9,516.48 322.5,516.39 323.1,516.3 323.7,516.2 324.3,516.11 324.9,516.02 325.5,515.92 326.1,515.83 326.7,515.73 327.3,515.63 327.9,515.54 328.5,515.44 329.1,515.34 329.7,515.24 330.3,515.14 330.9,515.04 331.5,514.95 332.1,514.85 332.7,514.75 333.3,514.65 333.9,514.56 334.5,514.46 335.1,514.36 335.7,514.27 336.3,514.18 336.9,514.08 337.5,513.99 338.1,513.9 338.7,513.81 339.3,513.73 339.9,513.64 340.5,513.56 341.1,513.48 341.7,513.4 342.3,513.32 342.9,513.25 343.5,513.17 344.1,513.1 344.7,513.03 345.3,512.97 345.9,512.9 346.5,512.83 347.1,512.77 347.7,512.7 348.3,512.63 348.9,512.56 349.5,512.5 350.1,512.43 350.7,512.36 351.3,512.29 351.9,512.23 352.5,512.16 353.1,512.1 353.7,512.04 354.3,511.98 354.9,511.92 355.5,511.86 356.1,511.8 356.7,511.75 357.3,511.69 357.9,511.64 358.5,511.59 359.1,511.55 359.7,511.5 360.3,511.46 360.9,511.42 361.5,511.39 362.1,511.36 362.7,511.33 363.3,511.3 363.9,511.28 364.5,511.26 365.1,511.25 365.7,511.23 366.3,511.22 366.9,511.21 367.5,511.2 368.1,511.19 368.7,511.17 369.3,511.16 369.9,511.15 370.5,511.14 371.1,511.13 371.7,511.12 372.3,511.11 372.9,511.1 373.5,511.09 374.1,511.08 374.7,511.07 375.3,511.07 375.9,511.06 376.5,511.05 377.1,511.04 377.7,511.04 378.3,511.03 378.9,511.03 379.5,511.02 380.1,511.02 380.7,511.01 381.3,511.01 381.9,511.01 382.5,511 383.1,511 383.7,511 384.3,511 384.9,511 385.5,511 386.1,511.01 386.7,511.01 387.3,511.03 387.9,511.04 388.5,511.06 389.1,511.08 389.7,511.1 390.3,511.13 390.9,511.15 391.5,511.19 392.1,511.22 392.7,511.25 393.3,511.29 393.9,511.33 394.5,511.37 395.1,511.41 395.7,511.45 396.3,511.5 396.9,511.55 397.5,511.59 398.1,511.64 398.7,511.69 399.3,511.74 399.9,511.79 400.5,511.85 401.1,511.91 401.7,511.98 402.3,512.06 402.9,512.14 403.5,512.23 404.1,512.33 404.7,512.44 405.3,512.55 405.9,512.66 406.5,512.79 407.1,512.91 407.7,513.05 408.3,513.18 408.9,513.32 409.5,513.47 410.1,513.62 410.7,513.77 411.3,513.92 411.9,514.08 412.5,514.24 413.1,514.4 413.7,514.56 414.3,514.72 414.9,514.89 415.5,515.06 416.1,515.23 416.7,515.41 417.3,515.61 417.9,515.81 418.5,516.02 419.1,516.23 419.7,516.46 420.3,516.69 420.9,516.93 421.5,517.17 422.1,517.42 422.7,517.67 423.3,517.93 423.9,518.19 424.5,518.45 425.1,518.72 425.7,518.99 426.3,519.26 426.9,519.53 427.5,519.8 428.1,520.07 428.7,520.35 429.3,520.62 429.9,520.89 430.5,521.16 431.1,521.42 431.7,521.69 432.3,521.96 432.9,522.23 433.5,522.5 434.1,522.77 434.7,523.04 435.3,523.31 435.9,523.59 436.5,523.86 437.1,524.14 437.7,524.42 438.3,524.7 438.9,524.98 439.5,525.26 440.1,525.55 440.7,525.84 441.3,526.13 441.9,526.43 442.5,526.72 443.1,527.02 443.7,527.33 444.3,527.63 444.9,527.94 445.5,528.26 446.1,528.57 446.7,528.89 447.3,529.22 447.9,529.54 448.5,529.88 449.1,530.21 449.7,530.55 450.3,530.9 450.9,531.25 451.5,531.6 452.1,531.96 452.7,532.33 453.3,532.7 453.9,533.09 454.5,533.48 455.1,533.88 455.7,534.29 456.3,534.7 456.9,535.12 457.5,535.55 458.1,535.99 458.7,536.43 459.3,536.87 459.9,537.32 460.5,537.78 461.1,538.23 461.7,538.7 462.3,539.16 462.9,539.63 463.5,540.1 464.1,540.58 464.7,541.05 465.3,541.53 465.9,542.01 466.5,542.49 467.1,542.97 467.7,543.45 468.3,543.93 468.9,544.41 469.5,544.89 470.1,545.36 470.7,545.84 471.3,546.32 471.9,546.79 472.5,547.28 473.1,547.76 473.7,548.25 474.3,548.73 474.9,549.22 475.5,549.71 476.1,550.21 476.7,550.7 477.3,551.2 477.9,551.7 478.5,552.2 479.1,552.7 479.7,553.21 480.3,553.72 480.9,554.23 481.5,554.74 482.1,555.25 482.7,555.77 483.3,556.28 483.9,556.8 484.5,557.32 485.1,557.85 485.7,558.37 486.3,558.9 486.9,559.43 487.5,559.96 488.1,560.49 488.7,561.02 489.3,561.56 489.9,562.1 490.5,562.64 490.9,563 491.3,564 491.6,394.3 492,394.3 492,394.8 492.6,395.83 493.2,396.84 493.8,397.85 494.4,398.85 495,399.85 495.6,400.83 496.2,401.8 496.8,402.77 497.4,403.73 498,404.68 498.6,405.62 499.2,406.55 499.8,407.48 500.4,408.39 501,409.3 501.6,410.19 502.2,411.05 502.8,411.9 503.4,412.73 504,413.55 504.6,414.37 505.2,415.18 505.8,416 506.4,416.82 507,417.66 507.6,418.51 508.2,419.39 508.8,420.29 509.4,421.22 510,422.17 510.6,423.13 511.2,424.12 511.8,425.12 512.4,426.15 513,427.2 513.6,428.27 514.2,429.37 514.8,430.51 515.4,431.69 516,432.9 516.6,434.15 517.2,435.43 517.8,436.75 518.4,438.12 519,439.52 519.2,440 519.6,440 519.8,564 520,394 520.6,564 521.2,394 521.3,394 521.8,401.36 522.3,408.41 522.8,415.84 523.3,422.24 523.8,426.01 524.3,428.79 524.8,431 525.3,432.83 525.8,434.45 526.3,435.91 526.8,437.22 527.3,438.38 527.8,439.41 528.3,440.3 528.8,441.1 529.3,441.85 529.8,442.55 530.3,443.2 530.8,443.82 531.3,444.4 531.8,444.96 532.3,445.49 532.8,446.01 533.3,446.51 533.8,447 534.3,447.48 534.8,447.97 535.3,448.47 535.8,448.97 536.3,449.49 536.8,450.02 537.3,450.55 537.8,451.07 538.3,451.58 538.8,452.08 539.3,452.59 539.8,453.08 540.3,453.58 540.8,454.07 541.3,454.56 541.8,455.05 542.3,455.54 542.8,456.03 543.3,456.52 543.8,457.01 544.3,457.5 544.8,458 545.3,458.49 545.8,458.99 546.3,459.48 546.8,459.97 547.3,460.47 547.8,460.96 548.3,461.45 548.8,461.94 549.3,462.43 549.8,462.92 550.3,463.41 550.8,463.9 550.9,464 552.6,452 553.3,444 554.2,456 554.9,467.3 562,473 563.6,468.5 565.3,475.3 568,477 569.5,475 571,478.5 575,482 579.7,484.7 581.6,483.7 583,487 589,492 590.8,496.3 591.9,504 592.4,470 593.1,414.2 595.6,414.2 596.2,422 606.3,429.7 606.8,496.3 608.2,460 609.7,421 610.6,480.9 611.8,455 613.5,444.5 630.4,456.7 631.4,430 632.5,413 634.3,394.5 635.6,430 636.2,463.5 643.4,466 644.5,465.4 646,455 648,480 649,468 653.2,465.4 654.6,442 656.6,401.6 657.2,564 657.9,401.6 658.6,450 660.4,488.5 661.6,445 662.6,478 664,432 666.2,413 670,411.5 673.5,413.5 674.6,470 675,491.4 679.3,497 680.7,505 681.5,470 682.2,448 683,500 683.6,514.6 685,420 686,394 686.6,564 687.4,394 688.2,564 689,394 689.8,564 690.6,394 691.2,470 692.3,491.4 695.2,500 697.2,529 698.25,540" fill="none" stroke="#0072bd" stroke-width="4.2" stroke-opacity="1" stroke-linejoin="round" stroke-linecap="butt" />
<polyline points="583.05,488.46 588.79,492.08 591.19,499.07 591.53,501.95 591.95,469.59 592.63,413.9 595.75,412.65 596.38,422.64 605.82,430.11 606.56,495.71 607.98,461.35 609.64,418.6 610.64,482.86 611.61,453.05 613.39,447.55 630.88,457.91 631.8,432.42 632.38,410.15 634.45,394.5 635.66,429.03 635.93,462.85 643.37,464.38 644.29,465.1 646.36,455.6 647.78,478.45 648.95,465.94 652.9,465.5 654.19,441.89 656.46,403.05 657.45,564 658.09,402.92 658.47,451.18 660.24,489.01 661.43,444.62 662.16,476.2 664.47,430.11 666.39,414.05 670.22,411.33 673.6,410.47 674.17,467.89 674.65,488.6 678.93,497.37 680.39,508.16 681.68,470.29 682.41,446.35 683.43,502.37 683.83,514.46 685.34,421.71 686.16,394 687.01,564 687.53,394 688.07,564 689.05,394 689.5,564 690.29,394 691.43,471.99 692.77,493.86 695.24,497.13 697.19,532 698.54,539.9" fill="none" stroke="#0072bd" stroke-width="3.4" stroke-opacity="1" stroke-linejoin="round" stroke-linecap="butt" />
<polyline points="582.96,485.03 588.68,489.02 591.19,497.28 591.54,503.4 591.95,467.97 593.33,415.26 595.58,412.62 596.35,425.2 606.24,426.69 606.36,493.38 608.66,460.29 610.04,418.69 610.36,482.24 612.2,453.88 613.06,447.05 630.19,458.39 631.06,431.36 632.84,414.59 634.16,394.5 635.83,427.48 636.01,462.94 643.78,463.58 644.88,467.49 646.47,454.07 647.7,478.18 649.33,471.26 653.4,465.28 654.39,444.34 656.97,398.74 656.92,564 658.23,404.04 658.41,448.46 660.33,488.78 661.2,447.36 662.63,479.92 663.73,435.26 666.45,411.9 670.45,412.9 673.84,410.32 674.16,471.7 674.8,491.52 678.96,500.35 680.7,507.3 681.07,469.85 681.76,450.69 682.95,496.98 683.18,514.87 684.58,417.79 685.94,394 686.6,564 687.48,394 688.32,564 688.87,394 689.92,564 690.26,394 690.98,472.09 691.95,489.46 694.94,499.86 696.7,525.71 698.21,537.64" fill="none" stroke="#0072bd" stroke-width="3.4" stroke-opacity="1" stroke-linejoin="round" stroke-linecap="butt" /></g>
<text transform="translate(66.3 17.2) scale(1.03 1)" font-size="18.6" text-anchor="end">10<tspan font-size="14.2" dy="-7.3">2</tspan></text>
<text transform="translate(66.3 89.08) scale(1.03 1)" font-size="18.6" text-anchor="end">10<tspan font-size="14.2" dy="-7.3">1</tspan></text>
<text transform="translate(66.3 160.96) scale(1.03 1)" font-size="18.6" text-anchor="end">10<tspan font-size="14.2" dy="-7.3">0</tspan></text>
<text transform="translate(67.5 232.84) scale(1.03 1)" font-size="18.6" text-anchor="end">10<tspan font-size="14.2" dy="-7.3" letter-spacing="1.2">−1</tspan></text>
<text transform="translate(67.5 304.72) scale(1.03 1)" font-size="18.6" text-anchor="end">10<tspan font-size="14.2" dy="-7.3" letter-spacing="1.2">−2</tspan></text>
<text transform="translate(67.5 376.6) scale(1.03 1)" font-size="18.6" text-anchor="end">10<tspan font-size="14.2" dy="-7.3" letter-spacing="1.2">−3</tspan></text>
<text transform="translate(67.6 401.7) scale(1.03 1)" font-size="18.6" text-anchor="end">180</text>
<text transform="translate(67.6 443.58) scale(1.03 1)" font-size="18.6" text-anchor="end">90</text>
<text transform="translate(67.6 485.45) scale(1.03 1)" font-size="18.6" text-anchor="end">0</text>
<text transform="translate(67.6 527.33) scale(1.03 1)" font-size="18.6" text-anchor="end">-90</text>
<text transform="translate(67.6 569.2) scale(1.03 1)" font-size="18.6" text-anchor="end">-180</text>
<text transform="translate(60.25 587.5) scale(1.03 1)" font-size="18.6" text-anchor="start">10<tspan font-size="14.2" dy="-7.3">0</tspan></text>
<text transform="translate(248.93 587.5) scale(1.03 1)" font-size="18.6" text-anchor="start">10<tspan font-size="14.2" dy="-7.3">1</tspan></text>
<text transform="translate(437.62 587.5) scale(1.03 1)" font-size="18.6" text-anchor="start">10<tspan font-size="14.2" dy="-7.3">2</tspan></text>
<text transform="translate(626.3 587.5) scale(1.03 1)" font-size="18.6" text-anchor="start">10<tspan font-size="14.2" dy="-7.3">3</tspan></text>
<text transform="translate(384.9 614.1) scale(1.02 1)" font-size="22" text-anchor="middle">Frequency [Hz]</text>
<text transform="translate(15.6 191.6) rotate(-90) scale(1.02 1)" font-size="22" text-anchor="middle">Loop Gain [-]</text>
<text transform="translate(17.2 479.8) rotate(-90) scale(1.03 1)" font-size="22" text-anchor="middle">Phase [deg]</text>
<rect x="539.5" y="28.6" width="141.2" height="45.6" fill="#fff" stroke="#111" stroke-width="1.1"/>
<line x1="543" y1="40.5" x2="605.5" y2="40.5" stroke="#0072bd" stroke-width="3.5"/>
<line x1="543" y1="62" x2="605.5" y2="62" stroke="#d95319" stroke-width="3.5" stroke-opacity="0.2"/>
<text transform="translate(608.2 45.4) scale(1.03 1)" font-size="18.2" text-anchor="start">Diagonal</text>
<text transform="translate(608.2 66.9) scale(1.02 1)" font-size="18.2" text-anchor="start">Off-Diag</text>
</svg>
</body></html>
